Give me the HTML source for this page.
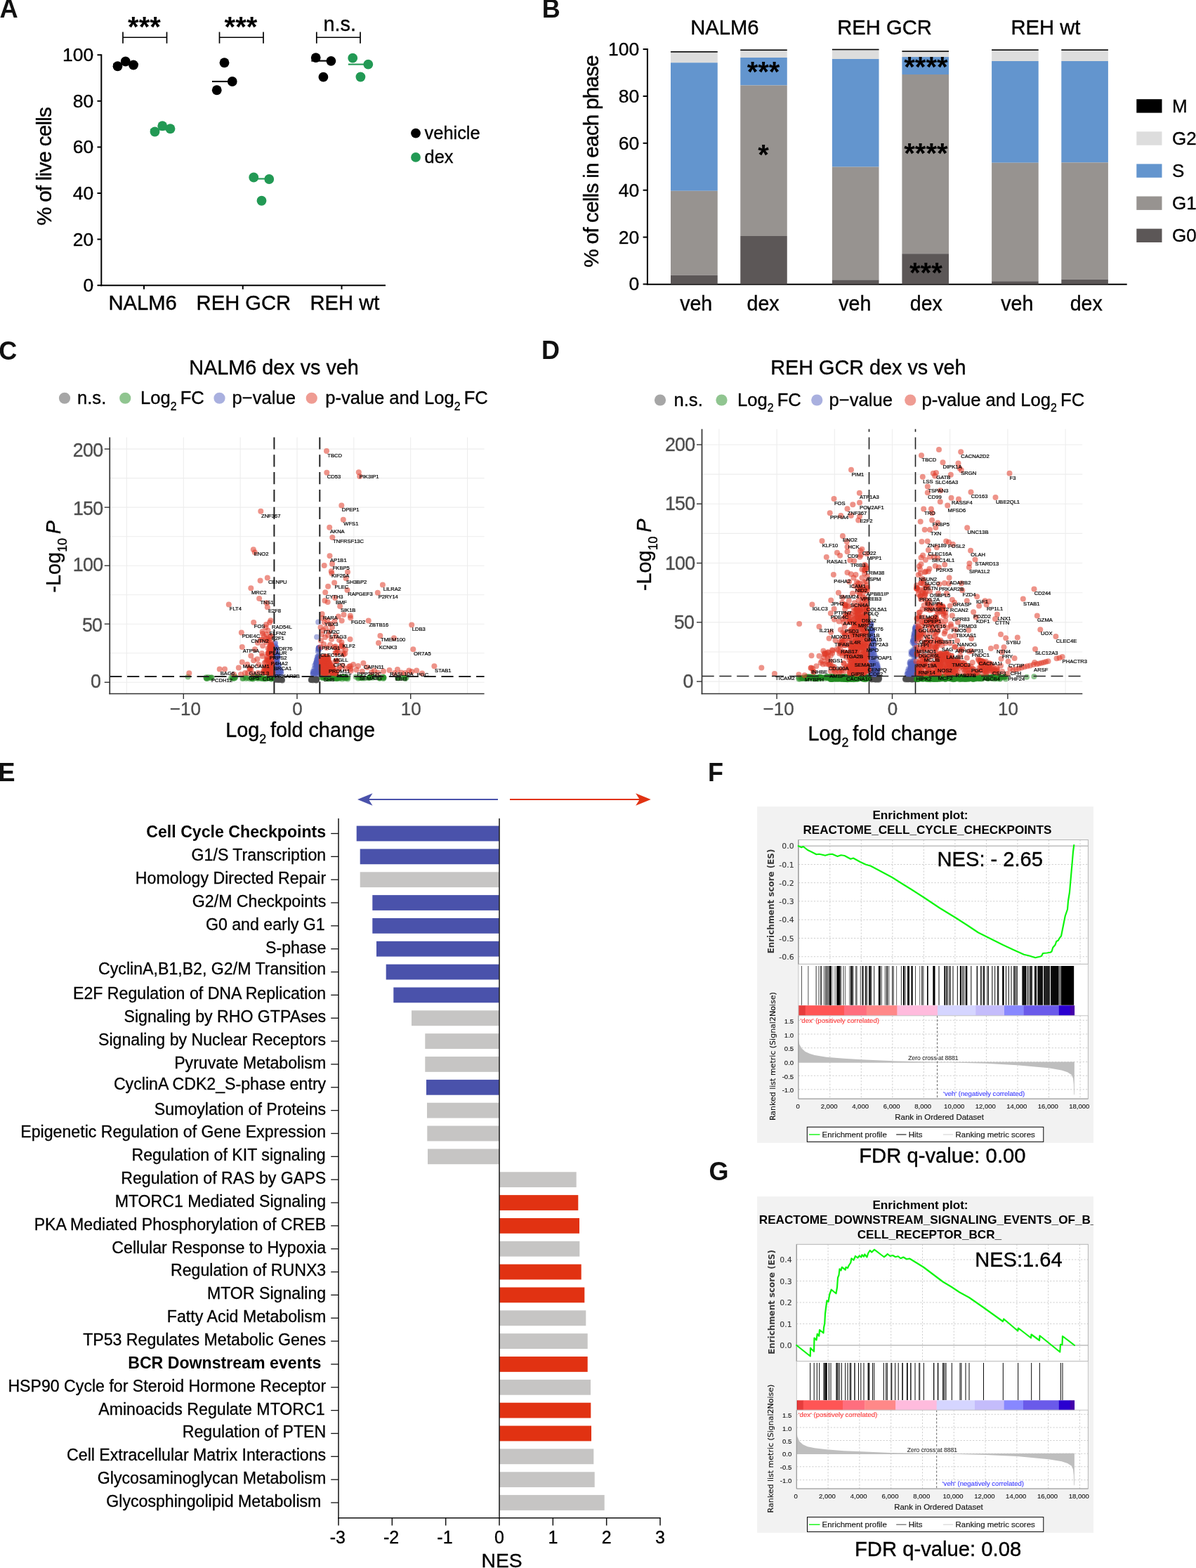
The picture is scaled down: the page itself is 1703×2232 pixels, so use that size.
<!DOCTYPE html>
<html lang="en"><head><meta charset="utf-8"><title>Figure</title>
<style>
html,body{margin:0;padding:0;background:#fff;}
body{width:1703px;height:2232px;overflow:hidden;}
svg{display:block;}
svg text{font-family:"Liberation Sans",Arial,Helvetica,sans-serif;}
svg text.dv{font-family:"DejaVu Sans",Verdana,sans-serif;}
</style></head><body>
<svg width="1703" height="2232" viewBox="0 0 1703 2232">
<rect width="1703" height="2232" fill="#fff"/>
<text font-size="36.3" font-weight="bold" fill="#111" x="-0.5" y="25">A</text>
<line x1="144.3" y1="77.2" x2="144.3" y2="407.2" stroke="#000" stroke-width="2"/>
<line x1="143.3" y1="406.2" x2="549" y2="406.2" stroke="#000" stroke-width="2"/>
<line x1="138.5" y1="406.2" x2="144.3" y2="406.2" stroke="#000" stroke-width="2"/>
<text text-anchor="end" font-size="26.5" stroke="#000" stroke-width="0.34" x="133.2" y="415.1">0</text>
<line x1="138.5" y1="340.6" x2="144.3" y2="340.6" stroke="#000" stroke-width="2"/>
<text text-anchor="end" font-size="26.5" stroke="#000" stroke-width="0.34" x="133.2" y="349.5">20</text>
<line x1="138.5" y1="275" x2="144.3" y2="275" stroke="#000" stroke-width="2"/>
<text text-anchor="end" font-size="26.5" stroke="#000" stroke-width="0.34" x="133.2" y="283.9">40</text>
<line x1="138.5" y1="209.4" x2="144.3" y2="209.4" stroke="#000" stroke-width="2"/>
<text text-anchor="end" font-size="26.5" stroke="#000" stroke-width="0.34" x="133.2" y="218.3">60</text>
<line x1="138.5" y1="143.8" x2="144.3" y2="143.8" stroke="#000" stroke-width="2"/>
<text text-anchor="end" font-size="26.5" stroke="#000" stroke-width="0.34" x="133.2" y="152.7">80</text>
<line x1="138.5" y1="78.2" x2="144.3" y2="78.2" stroke="#000" stroke-width="2"/>
<text text-anchor="end" font-size="26.5" stroke="#000" stroke-width="0.34" x="133.2" y="87.1">100</text>
<line x1="205" y1="406.2" x2="205" y2="411.8" stroke="#000" stroke-width="2"/>
<text text-anchor="middle" font-size="29.2" stroke="#000" stroke-width="0.38" x="203.1" y="441.4">NALM6</text>
<line x1="345.75" y1="406.2" x2="345.75" y2="411.8" stroke="#000" stroke-width="2"/>
<text text-anchor="middle" font-size="29.2" stroke="#000" stroke-width="0.38" x="346.9" y="441.4">REH GCR</text>
<line x1="486.5" y1="406.2" x2="486.5" y2="411.8" stroke="#000" stroke-width="2"/>
<text text-anchor="middle" font-size="29.2" stroke="#000" stroke-width="0.38" x="490.9" y="441.4">REH wt</text>
<text font-size="29.6" stroke="#000" stroke-width="0.38" letter-spacing="-0.75" transform="translate(72.6 320.9) rotate(-90)">% of live cells</text>
<line x1="175" y1="53.25" x2="237.5" y2="53.25" stroke="#000" stroke-width="1.7"/>
<line x1="175" y1="45.5" x2="175" y2="61.75" stroke="#000" stroke-width="1.7"/>
<line x1="237.5" y1="45.5" x2="237.5" y2="61.75" stroke="#000" stroke-width="1.7"/>
<text text-anchor="middle" font-size="40" font-weight="bold" x="205.45" y="51.6">***</text>
<line x1="312.5" y1="53.25" x2="375" y2="53.25" stroke="#000" stroke-width="1.7"/>
<line x1="312.5" y1="45.5" x2="312.5" y2="61.75" stroke="#000" stroke-width="1.7"/>
<line x1="375" y1="45.5" x2="375" y2="61.75" stroke="#000" stroke-width="1.7"/>
<text text-anchor="middle" font-size="40" font-weight="bold" x="342.95" y="51.6">***</text>
<line x1="450.8" y1="53.25" x2="513" y2="53.25" stroke="#000" stroke-width="1.7"/>
<line x1="450.8" y1="45.5" x2="450.8" y2="61.75" stroke="#000" stroke-width="1.7"/>
<line x1="513" y1="45.5" x2="513" y2="61.75" stroke="#000" stroke-width="1.7"/>
<text text-anchor="middle" font-size="28.8" stroke="#000" stroke-width="0.37" x="483.7" y="43.6">n.s.</text>
<line x1="161" y1="91.5" x2="197" y2="91.5" stroke="#000" stroke-width="2.1"/>
<line x1="214" y1="184.5" x2="249" y2="184.5" stroke="#229954" stroke-width="2.1"/>
<line x1="302" y1="116" x2="331" y2="116" stroke="#000" stroke-width="2.1"/>
<line x1="361" y1="254.5" x2="384" y2="254.5" stroke="#229954" stroke-width="2.1"/>
<line x1="443.3" y1="86.6" x2="472" y2="86.6" stroke="#000" stroke-width="2.1"/>
<line x1="495.8" y1="91.6" x2="525" y2="91.6" stroke="#229954" stroke-width="2.1"/>
<circle cx="167.5" cy="94.25" r="6.9" fill="#000"/>
<circle cx="178.75" cy="87.5" r="6.9" fill="#000"/>
<circle cx="190" cy="92.5" r="6.9" fill="#000"/>
<circle cx="220.5" cy="187.5" r="6.9" fill="#229954"/>
<circle cx="231.25" cy="179.25" r="6.9" fill="#229954"/>
<circle cx="242.5" cy="183.25" r="6.9" fill="#229954"/>
<circle cx="319.5" cy="89.25" r="6.9" fill="#000"/>
<circle cx="330.75" cy="116" r="6.9" fill="#000"/>
<circle cx="308.75" cy="128.25" r="6.9" fill="#000"/>
<circle cx="361.25" cy="252.5" r="6.9" fill="#229954"/>
<circle cx="383.25" cy="255" r="6.9" fill="#229954"/>
<circle cx="372.5" cy="285.75" r="6.9" fill="#229954"/>
<circle cx="449.7" cy="82.1" r="6.9" fill="#000"/>
<circle cx="471.4" cy="86.8" r="6.9" fill="#000"/>
<circle cx="460.4" cy="109.7" r="6.9" fill="#000"/>
<circle cx="502.2" cy="82.7" r="6.9" fill="#229954"/>
<circle cx="524.3" cy="91.7" r="6.9" fill="#229954"/>
<circle cx="513.4" cy="109.5" r="6.9" fill="#229954"/>
<circle cx="592" cy="189.6" r="6.9" fill="#000"/>
<circle cx="592" cy="223.9" r="6.9" fill="#229954"/>
<text font-size="25.4" stroke="#000" stroke-width="0.33" x="604.6" y="197.5">vehicle</text>
<text font-size="25.4" stroke="#000" stroke-width="0.33" x="604.6" y="231.7">dex</text>
<text font-size="36" font-weight="bold" fill="#111" x="771.7" y="24.9">B</text>
<line x1="921.9" y1="69" x2="921.9" y2="405.5" stroke="#000" stroke-width="2"/>
<line x1="920.9" y1="404.8" x2="1604.7" y2="404.8" stroke="#000" stroke-width="2"/>
<line x1="915.6" y1="404.5" x2="921.9" y2="404.5" stroke="#000" stroke-width="2"/>
<text text-anchor="end" font-size="26.5" stroke="#000" stroke-width="0.34" x="910.2" y="413.4">0</text>
<line x1="915.6" y1="337.6" x2="921.9" y2="337.6" stroke="#000" stroke-width="2"/>
<text text-anchor="end" font-size="26.5" stroke="#000" stroke-width="0.34" x="910.2" y="346.5">20</text>
<line x1="915.6" y1="270.7" x2="921.9" y2="270.7" stroke="#000" stroke-width="2"/>
<text text-anchor="end" font-size="26.5" stroke="#000" stroke-width="0.34" x="910.2" y="279.6">40</text>
<line x1="915.6" y1="203.8" x2="921.9" y2="203.8" stroke="#000" stroke-width="2"/>
<text text-anchor="end" font-size="26.5" stroke="#000" stroke-width="0.34" x="910.2" y="212.7">60</text>
<line x1="915.6" y1="136.9" x2="921.9" y2="136.9" stroke="#000" stroke-width="2"/>
<text text-anchor="end" font-size="26.5" stroke="#000" stroke-width="0.34" x="910.2" y="145.8">80</text>
<line x1="915.6" y1="70" x2="921.9" y2="70" stroke="#000" stroke-width="2"/>
<text text-anchor="end" font-size="26.5" stroke="#000" stroke-width="0.34" x="910.2" y="78.9">100</text>
<text font-size="29.6" stroke="#000" stroke-width="0.38" letter-spacing="-0.723" transform="translate(851.6 380.7) rotate(-90)">% of cells in each phase</text>
<rect x="955" y="73.75" width="66.75" height="15.5" fill="#DDDDDD"/>
<rect x="955" y="89.25" width="66.75" height="182.5" fill="#6395CE"/>
<rect x="955" y="271.75" width="66.75" height="120" fill="#979390"/>
<rect x="955" y="391.75" width="66.75" height="12.75" fill="#5C5757"/>
<rect x="955" y="72.95" width="66.75" height="1.6" fill="#000"/>
<text text-anchor="middle" font-size="28.6" stroke="#000" stroke-width="0.37" x="991.2" y="441.7">veh</text>
<rect x="1054.25" y="71.25" width="66.5" height="10.75" fill="#DDDDDD"/>
<rect x="1054.25" y="82" width="66.5" height="39.5" fill="#6395CE"/>
<rect x="1054.25" y="121.5" width="66.5" height="214.5" fill="#979390"/>
<rect x="1054.25" y="336" width="66.5" height="68.5" fill="#5C5757"/>
<rect x="1054.25" y="70.45" width="66.5" height="1.6" fill="#000"/>
<text text-anchor="middle" font-size="28.6" stroke="#000" stroke-width="0.37" x="1086.6" y="441.7">dex</text>
<rect x="1184.9" y="70.5" width="66.6" height="13.5" fill="#DDDDDD"/>
<rect x="1184.9" y="84" width="66.6" height="153.6" fill="#6395CE"/>
<rect x="1184.9" y="237.6" width="66.6" height="160.8" fill="#979390"/>
<rect x="1184.9" y="398.4" width="66.6" height="6.1" fill="#5C5757"/>
<rect x="1184.9" y="69.7" width="66.6" height="1.6" fill="#000"/>
<text text-anchor="middle" font-size="28.6" stroke="#000" stroke-width="0.37" x="1217.3" y="441.7">veh</text>
<rect x="1284.4" y="73" width="66.6" height="8.1" fill="#DDDDDD"/>
<rect x="1284.4" y="81.1" width="66.6" height="24.9" fill="#6395CE"/>
<rect x="1284.4" y="106" width="66.6" height="255.2" fill="#979390"/>
<rect x="1284.4" y="361.2" width="66.6" height="43.3" fill="#5C5757"/>
<rect x="1284.4" y="72.2" width="66.6" height="1.6" fill="#000"/>
<text text-anchor="middle" font-size="28.6" stroke="#000" stroke-width="0.37" x="1318.8" y="441.7">dex</text>
<rect x="1412.1" y="71.1" width="66.6" height="15.9" fill="#DDDDDD"/>
<rect x="1412.1" y="87" width="66.6" height="144.7" fill="#6395CE"/>
<rect x="1412.1" y="231.7" width="66.6" height="168.6" fill="#979390"/>
<rect x="1412.1" y="400.3" width="66.6" height="4.2" fill="#5C5757"/>
<rect x="1412.1" y="70.3" width="66.6" height="1.6" fill="#000"/>
<text text-anchor="middle" font-size="28.6" stroke="#000" stroke-width="0.37" x="1448.3" y="441.7">veh</text>
<rect x="1511.3" y="71.1" width="66.6" height="15.9" fill="#DDDDDD"/>
<rect x="1511.3" y="87" width="66.6" height="144.4" fill="#6395CE"/>
<rect x="1511.3" y="231.4" width="66.6" height="166.3" fill="#979390"/>
<rect x="1511.3" y="397.7" width="66.6" height="6.8" fill="#5C5757"/>
<rect x="1511.3" y="70.3" width="66.6" height="1.6" fill="#000"/>
<text text-anchor="middle" font-size="28.6" stroke="#000" stroke-width="0.37" x="1546.7" y="441.7">dex</text>
<text text-anchor="middle" font-size="29.2" stroke="#000" stroke-width="0.38" x="1031.9" y="49.3">NALM6</text>
<text text-anchor="middle" font-size="29.2" stroke="#000" stroke-width="0.38" x="1259.5" y="49.3">REH GCR</text>
<text text-anchor="middle" font-size="29.2" stroke="#000" stroke-width="0.38" x="1489" y="49.3">REH wt</text>
<text text-anchor="middle" font-size="40" font-weight="bold" x="1087" y="116.2">***</text>
<text text-anchor="middle" font-size="40" font-weight="bold" x="1087" y="233.6">*</text>
<text text-anchor="middle" font-size="40" font-weight="bold" x="1318.4" y="109.2">****</text>
<text text-anchor="middle" font-size="40" font-weight="bold" x="1318.4" y="232">****</text>
<text text-anchor="middle" font-size="40" font-weight="bold" x="1318.4" y="402.2">***</text>
<rect x="1618.3" y="141.2" width="36.2" height="19.4" fill="#000"/>
<text font-size="26" stroke="#000" stroke-width="0.34" x="1669" y="160">M</text>
<rect x="1618.3" y="187.3" width="36.2" height="19.4" fill="#DDDDDD"/>
<text font-size="26" stroke="#000" stroke-width="0.34" x="1669" y="206.1">G2</text>
<rect x="1618.3" y="233.4" width="36.2" height="19.4" fill="#6395CE"/>
<text font-size="26" stroke="#000" stroke-width="0.34" x="1669" y="252.2">S</text>
<rect x="1618.3" y="279.5" width="36.2" height="19.4" fill="#979390"/>
<text font-size="26" stroke="#000" stroke-width="0.34" x="1669" y="298.3">G1</text>
<rect x="1618.3" y="325.6" width="36.2" height="19.4" fill="#5C5757"/>
<text font-size="26" stroke="#000" stroke-width="0.34" x="1669" y="344.4">G0</text>
<text font-size="36" font-weight="bold" fill="#111" x="-1.7" y="511.7">C</text>
<text font-size="28.8" stroke="#000" stroke-width="0.37" x="269.2" y="532.5">NALM6 dex vs veh</text>
<circle cx="92" cy="566.75" r="8.1" fill="#4D4D4D" fill-opacity="0.5"/>
<circle cx="178.25" cy="566.75" r="8.1" fill="#228B22" fill-opacity="0.5"/>
<circle cx="312.5" cy="566.75" r="8.1" fill="#5462C0" fill-opacity="0.5"/>
<circle cx="443.75" cy="566.75" r="8.1" fill="#E03A28" fill-opacity="0.5"/>
<text font-size="25.6" stroke="#000" stroke-width="0.33" x="110" y="575.3">n.s.</text>
<text font-size="25.6" stroke="#000" stroke-width="0.33" x="200" y="575.3" xml:space="preserve"><tspan>Log</tspan><tspan font-size="15.87" dy="8.45">2</tspan><tspan dy="-8.45" font-size="25.6">&#8203;</tspan><tspan> FC</tspan></text>
<text font-size="25.6" stroke="#000" stroke-width="0.33" x="330.5" y="575.3">p−value</text>
<text font-size="25.6" stroke="#000" stroke-width="0.33" x="463.2" y="575.3" xml:space="preserve"><tspan>p-value and Log</tspan><tspan font-size="15.87" dy="8.45">2</tspan><tspan dy="-8.45" font-size="25.6">&#8203;</tspan><tspan> FC</tspan></text>
<line x1="180.45" y1="622.5" x2="180.45" y2="987.5" stroke="#EDEDED" stroke-width="1.1"/>
<line x1="261.3" y1="622.5" x2="261.3" y2="987.5" stroke="#EDEDED" stroke-width="1.1"/>
<line x1="342.15" y1="622.5" x2="342.15" y2="987.5" stroke="#EDEDED" stroke-width="1.1"/>
<line x1="423" y1="622.5" x2="423" y2="987.5" stroke="#EDEDED" stroke-width="1.1"/>
<line x1="503.85" y1="622.5" x2="503.85" y2="987.5" stroke="#EDEDED" stroke-width="1.1"/>
<line x1="584.7" y1="622.5" x2="584.7" y2="987.5" stroke="#EDEDED" stroke-width="1.1"/>
<line x1="665.55" y1="622.5" x2="665.55" y2="987.5" stroke="#EDEDED" stroke-width="1.1"/>
<line x1="156.25" y1="971.25" x2="689.6" y2="971.25" stroke="#EDEDED" stroke-width="1.1"/>
<line x1="156.25" y1="929.74" x2="689.6" y2="929.74" stroke="#EDEDED" stroke-width="1.1"/>
<line x1="156.25" y1="888.23" x2="689.6" y2="888.23" stroke="#EDEDED" stroke-width="1.1"/>
<line x1="156.25" y1="846.71" x2="689.6" y2="846.71" stroke="#EDEDED" stroke-width="1.1"/>
<line x1="156.25" y1="805.2" x2="689.6" y2="805.2" stroke="#EDEDED" stroke-width="1.1"/>
<line x1="156.25" y1="763.69" x2="689.6" y2="763.69" stroke="#EDEDED" stroke-width="1.1"/>
<line x1="156.25" y1="722.17" x2="689.6" y2="722.17" stroke="#EDEDED" stroke-width="1.1"/>
<line x1="156.25" y1="680.66" x2="689.6" y2="680.66" stroke="#EDEDED" stroke-width="1.1"/>
<line x1="156.25" y1="639.15" x2="689.6" y2="639.15" stroke="#EDEDED" stroke-width="1.1"/>
<g fill="#4D4D4D" fill-opacity="0.5"><circle cx="396.2" cy="967.4" r="4"/><circle cx="401.1" cy="967.2" r="4"/><circle cx="396.7" cy="967.5" r="4"/><circle cx="393.8" cy="967.3" r="4"/><circle cx="398.0" cy="968.0" r="4"/><circle cx="393.1" cy="966.8" r="4"/><circle cx="393.0" cy="968.0" r="4"/><circle cx="398.6" cy="966.2" r="4"/><circle cx="401.8" cy="968.4" r="4"/><circle cx="398.2" cy="967.6" r="4"/><circle cx="393.5" cy="966.1" r="4"/><circle cx="396.9" cy="966.2" r="4"/><circle cx="393.8" cy="966.7" r="4"/><circle cx="392.6" cy="967.2" r="4"/><circle cx="396.1" cy="968.1" r="4"/><circle cx="396.8" cy="967.6" r="4"/><circle cx="396.6" cy="967.7" r="4"/><circle cx="396.2" cy="966.8" r="4"/><circle cx="402.0" cy="968.5" r="4"/><circle cx="400.2" cy="967.8" r="4"/><circle cx="394.9" cy="966.7" r="4"/><circle cx="394.6" cy="966.3" r="4"/><circle cx="399.4" cy="967.1" r="4"/><circle cx="400.3" cy="967.0" r="4"/><circle cx="401.5" cy="968.1" r="4"/><circle cx="392.5" cy="966.6" r="4"/><circle cx="401.0" cy="967.2" r="4"/><circle cx="401.8" cy="967.1" r="4"/><circle cx="392.9" cy="967.6" r="4"/><circle cx="399.5" cy="966.7" r="4"/><circle cx="451.0" cy="966.9" r="4"/><circle cx="442.9" cy="967.9" r="4"/><circle cx="450.8" cy="966.7" r="4"/><circle cx="450.9" cy="966.2" r="4"/><circle cx="444.6" cy="966.5" r="4"/><circle cx="447.0" cy="967.2" r="4"/><circle cx="450.3" cy="967.9" r="4"/><circle cx="450.7" cy="967.6" r="4"/><circle cx="450.8" cy="967.1" r="4"/><circle cx="450.1" cy="966.7" r="4"/><circle cx="442.8" cy="968.0" r="4"/><circle cx="449.3" cy="968.2" r="4"/><circle cx="450.1" cy="967.0" r="4"/><circle cx="444.0" cy="967.6" r="4"/><circle cx="450.9" cy="968.5" r="4"/><circle cx="450.1" cy="966.7" r="4"/><circle cx="444.9" cy="966.9" r="4"/><circle cx="449.4" cy="966.3" r="4"/><circle cx="451.0" cy="967.5" r="4"/><circle cx="449.9" cy="967.5" r="4"/><circle cx="448.8" cy="967.2" r="4"/><circle cx="442.9" cy="967.3" r="4"/><circle cx="446.9" cy="968.2" r="4"/><circle cx="450.3" cy="966.5" r="4"/><circle cx="443.5" cy="968.1" r="4"/><circle cx="449.8" cy="966.6" r="4"/><circle cx="445.2" cy="968.4" r="4"/><circle cx="450.2" cy="968.4" r="4"/><circle cx="443.8" cy="967.5" r="4"/><circle cx="448.3" cy="966.3" r="4"/></g>
<g fill="#228B22" fill-opacity="0.5"><circle cx="386.4" cy="966.4" r="4"/><circle cx="380.5" cy="965.6" r="4"/><circle cx="379.8" cy="965.9" r="4"/><circle cx="365.5" cy="964.2" r="4"/><circle cx="382.6" cy="965.6" r="4"/><circle cx="385.7" cy="964.0" r="4"/><circle cx="367.3" cy="966.0" r="4"/><circle cx="364.7" cy="964.2" r="4"/><circle cx="349.5" cy="964.0" r="4"/><circle cx="386.8" cy="964.2" r="4"/><circle cx="372.3" cy="963.5" r="4"/><circle cx="382.6" cy="964.5" r="4"/><circle cx="366.7" cy="963.7" r="4"/><circle cx="375.8" cy="966.2" r="4"/><circle cx="346.1" cy="965.4" r="4"/><circle cx="361.0" cy="965.2" r="4"/><circle cx="383.7" cy="963.4" r="4"/><circle cx="386.8" cy="966.2" r="4"/><circle cx="360.5" cy="966.4" r="4"/><circle cx="386.7" cy="965.3" r="4"/><circle cx="370.7" cy="965.6" r="4"/><circle cx="377.5" cy="966.5" r="4"/><circle cx="385.5" cy="965.0" r="4"/><circle cx="358.8" cy="966.2" r="4"/><circle cx="358.7" cy="965.6" r="4"/><circle cx="355.9" cy="966.2" r="4"/><circle cx="376.2" cy="965.5" r="4"/><circle cx="350.3" cy="966.1" r="4"/><circle cx="373.5" cy="965.8" r="4"/><circle cx="352.3" cy="965.1" r="4"/><circle cx="364.2" cy="964.5" r="4"/><circle cx="366.2" cy="965.2" r="4"/><circle cx="385.4" cy="965.3" r="4"/><circle cx="345.4" cy="966.1" r="4"/><circle cx="359.2" cy="964.5" r="4"/><circle cx="358.9" cy="965.2" r="4"/><circle cx="372.5" cy="966.0" r="4"/><circle cx="385.3" cy="965.7" r="4"/><circle cx="386.6" cy="965.2" r="4"/><circle cx="370.8" cy="964.0" r="4"/><circle cx="330.7" cy="964.8" r="4"/><circle cx="331.5" cy="965.8" r="4"/><circle cx="334.7" cy="963.6" r="4"/><circle cx="334.3" cy="965.2" r="4"/><circle cx="335.2" cy="964.0" r="4"/><circle cx="328.8" cy="965.2" r="4"/><circle cx="333.0" cy="965.7" r="4"/><circle cx="299.4" cy="965.1" r="4"/><circle cx="300.8" cy="964.4" r="4"/><circle cx="294.1" cy="965.8" r="4"/><circle cx="293.3" cy="964.3" r="4"/><circle cx="296.6" cy="964.0" r="4"/><circle cx="301.5" cy="964.6" r="4"/><circle cx="293.8" cy="965.6" r="4"/><circle cx="295.2" cy="966.0" r="4"/><circle cx="267.6" cy="963.6" r="4"/><circle cx="466.1" cy="963.8" r="4"/><circle cx="472.6" cy="964.2" r="4"/><circle cx="464.0" cy="964.6" r="4"/><circle cx="479.6" cy="964.9" r="4"/><circle cx="467.5" cy="966.0" r="4"/><circle cx="495.2" cy="964.7" r="4"/><circle cx="459.7" cy="963.4" r="4"/><circle cx="490.3" cy="963.4" r="4"/><circle cx="483.1" cy="965.1" r="4"/><circle cx="467.3" cy="965.8" r="4"/><circle cx="458.3" cy="963.7" r="4"/><circle cx="472.8" cy="963.4" r="4"/><circle cx="488.4" cy="964.1" r="4"/><circle cx="461.6" cy="963.5" r="4"/><circle cx="479.8" cy="964.7" r="4"/><circle cx="479.8" cy="965.4" r="4"/><circle cx="487.4" cy="966.4" r="4"/><circle cx="482.1" cy="963.9" r="4"/><circle cx="473.6" cy="963.9" r="4"/><circle cx="458.2" cy="964.8" r="4"/><circle cx="483.4" cy="963.9" r="4"/><circle cx="466.0" cy="964.4" r="4"/><circle cx="482.7" cy="965.0" r="4"/><circle cx="479.2" cy="965.7" r="4"/><circle cx="470.4" cy="965.8" r="4"/><circle cx="491.8" cy="963.6" r="4"/><circle cx="492.9" cy="965.6" r="4"/><circle cx="461.3" cy="964.8" r="4"/><circle cx="479.6" cy="966.2" r="4"/><circle cx="469.8" cy="965.1" r="4"/><circle cx="490.6" cy="965.8" r="4"/><circle cx="493.5" cy="964.8" r="4"/><circle cx="480.7" cy="964.0" r="4"/><circle cx="483.7" cy="965.9" r="4"/><circle cx="480.3" cy="965.6" r="4"/><circle cx="464.0" cy="966.2" r="4"/><circle cx="495.1" cy="966.4" r="4"/><circle cx="476.0" cy="965.8" r="4"/><circle cx="467.7" cy="966.2" r="4"/><circle cx="489.5" cy="964.4" r="4"/><circle cx="459.9" cy="964.7" r="4"/><circle cx="476.6" cy="965.8" r="4"/><circle cx="474.0" cy="963.4" r="4"/><circle cx="487.5" cy="963.5" r="4"/><circle cx="487.1" cy="963.9" r="4"/><circle cx="516.1" cy="965.5" r="4"/><circle cx="506.7" cy="963.5" r="4"/><circle cx="524.8" cy="965.3" r="4"/><circle cx="540.3" cy="965.2" r="4"/><circle cx="545.4" cy="964.6" r="4"/><circle cx="545.6" cy="963.4" r="4"/><circle cx="510.6" cy="964.7" r="4"/><circle cx="513.9" cy="965.3" r="4"/><circle cx="530.7" cy="964.7" r="4"/><circle cx="540.5" cy="964.8" r="4"/><circle cx="515.0" cy="964.2" r="4"/><circle cx="540.6" cy="965.8" r="4"/><circle cx="510.0" cy="965.7" r="4"/><circle cx="546.5" cy="964.7" r="4"/><circle cx="527.5" cy="963.7" r="4"/><circle cx="525.7" cy="964.6" r="4"/><circle cx="529.1" cy="963.2" r="4"/><circle cx="546.5" cy="964.6" r="4"/><circle cx="519.2" cy="965.5" r="4"/><circle cx="527.0" cy="964.6" r="4"/><circle cx="533.2" cy="963.3" r="4"/><circle cx="525.9" cy="964.3" r="4"/><circle cx="545.9" cy="965.9" r="4"/><circle cx="512.9" cy="964.5" r="4"/><circle cx="566.0" cy="965.0" r="4"/><circle cx="577.1" cy="966.2" r="4"/><circle cx="571.6" cy="964.8" r="4"/><circle cx="567.1" cy="965.5" r="4"/><circle cx="578.8" cy="964.3" r="4"/><circle cx="576.5" cy="964.1" r="4"/><circle cx="567.1" cy="964.5" r="4"/><circle cx="575.0" cy="964.8" r="4"/></g>
<g fill="#5462C0" fill-opacity="0.5"><circle cx="396.3" cy="951.7" r="4"/><circle cx="398.2" cy="958.5" r="4"/><circle cx="396.1" cy="958.2" r="4"/><circle cx="393.1" cy="955.2" r="4"/><circle cx="394.2" cy="944.0" r="4"/><circle cx="394.6" cy="950.9" r="4"/><circle cx="392.4" cy="944.1" r="4"/><circle cx="397.0" cy="956.4" r="4"/><circle cx="394.2" cy="938.3" r="4"/><circle cx="393.0" cy="924.9" r="4"/><circle cx="392.0" cy="924.5" r="4"/><circle cx="394.7" cy="932.2" r="4"/><circle cx="392.0" cy="921.3" r="4"/><circle cx="399.0" cy="953.1" r="4"/><circle cx="400.2" cy="956.1" r="4"/><circle cx="391.7" cy="922.4" r="4"/><circle cx="397.7" cy="955.5" r="4"/><circle cx="392.2" cy="954.9" r="4"/><circle cx="392.6" cy="926.2" r="4"/><circle cx="391.8" cy="929.0" r="4"/><circle cx="396.6" cy="949.8" r="4"/><circle cx="393.3" cy="959.5" r="4"/><circle cx="395.8" cy="935.7" r="4"/><circle cx="391.5" cy="916.4" r="4"/><circle cx="396.5" cy="945.2" r="4"/><circle cx="396.0" cy="945.4" r="4"/><circle cx="392.0" cy="956.8" r="4"/><circle cx="391.7" cy="958.5" r="4"/><circle cx="394.6" cy="942.9" r="4"/><circle cx="392.3" cy="942.1" r="4"/><circle cx="393.2" cy="956.9" r="4"/><circle cx="394.2" cy="925.7" r="4"/><circle cx="391.6" cy="919.5" r="4"/><circle cx="400.4" cy="959.1" r="4"/><circle cx="396.8" cy="947.3" r="4"/><circle cx="395.2" cy="952.7" r="4"/><circle cx="394.2" cy="944.8" r="4"/><circle cx="391.5" cy="940.4" r="4"/><circle cx="395.3" cy="934.6" r="4"/><circle cx="395.5" cy="957.0" r="4"/><circle cx="393.1" cy="932.3" r="4"/><circle cx="392.9" cy="956.7" r="4"/><circle cx="391.5" cy="944.9" r="4"/><circle cx="393.1" cy="921.9" r="4"/><circle cx="395.3" cy="934.4" r="4"/><circle cx="393.6" cy="938.8" r="4"/><circle cx="394.3" cy="940.4" r="4"/><circle cx="392.0" cy="915.3" r="4"/><circle cx="399.2" cy="954.9" r="4"/><circle cx="394.6" cy="932.0" r="4"/><circle cx="392.7" cy="927.4" r="4"/><circle cx="393.2" cy="921.7" r="4"/><circle cx="395.0" cy="935.0" r="4"/><circle cx="392.9" cy="930.6" r="4"/><circle cx="391.7" cy="933.3" r="4"/><circle cx="395.2" cy="952.2" r="4"/><circle cx="394.8" cy="959.5" r="4"/><circle cx="394.7" cy="938.3" r="4"/><circle cx="399.7" cy="955.7" r="4"/><circle cx="393.1" cy="936.7" r="4"/><circle cx="451.4" cy="941.0" r="4"/><circle cx="451.8" cy="946.6" r="4"/><circle cx="454.0" cy="922.0" r="4"/><circle cx="450.8" cy="939.0" r="4"/><circle cx="454.3" cy="923.3" r="4"/><circle cx="450.2" cy="943.1" r="4"/><circle cx="450.8" cy="955.8" r="4"/><circle cx="452.5" cy="959.3" r="4"/><circle cx="453.5" cy="952.4" r="4"/><circle cx="446.5" cy="955.9" r="4"/><circle cx="451.1" cy="945.9" r="4"/><circle cx="453.7" cy="924.1" r="4"/><circle cx="453.9" cy="922.3" r="4"/><circle cx="454.1" cy="933.3" r="4"/><circle cx="449.9" cy="943.9" r="4"/><circle cx="445.5" cy="959.3" r="4"/><circle cx="450.0" cy="957.8" r="4"/><circle cx="449.8" cy="957.7" r="4"/><circle cx="454.0" cy="943.3" r="4"/><circle cx="453.7" cy="925.4" r="4"/><circle cx="450.4" cy="946.9" r="4"/><circle cx="452.1" cy="952.7" r="4"/><circle cx="451.4" cy="941.2" r="4"/><circle cx="448.2" cy="955.1" r="4"/><circle cx="454.2" cy="954.8" r="4"/><circle cx="453.9" cy="956.1" r="4"/><circle cx="447.4" cy="957.9" r="4"/><circle cx="447.4" cy="951.9" r="4"/><circle cx="454.1" cy="936.6" r="4"/><circle cx="453.7" cy="922.7" r="4"/><circle cx="445.8" cy="959.1" r="4"/><circle cx="450.8" cy="950.6" r="4"/><circle cx="454.1" cy="923.7" r="4"/><circle cx="448.2" cy="947.0" r="4"/><circle cx="452.3" cy="937.9" r="4"/><circle cx="453.6" cy="923.3" r="4"/><circle cx="453.6" cy="943.6" r="4"/><circle cx="451.8" cy="942.7" r="4"/><circle cx="453.8" cy="957.0" r="4"/><circle cx="453.5" cy="946.8" r="4"/><circle cx="449.5" cy="950.1" r="4"/><circle cx="452.4" cy="949.6" r="4"/><circle cx="451.8" cy="944.5" r="4"/><circle cx="452.4" cy="935.0" r="4"/><circle cx="453.8" cy="922.2" r="4"/><circle cx="453.3" cy="937.3" r="4"/><circle cx="446.0" cy="958.6" r="4"/><circle cx="452.1" cy="934.7" r="4"/><circle cx="452.1" cy="952.9" r="4"/><circle cx="451.6" cy="939.8" r="4"/><circle cx="450.6" cy="944.1" r="4"/><circle cx="453.6" cy="936.3" r="4"/><circle cx="445.8" cy="956.0" r="4"/><circle cx="452.8" cy="927.2" r="4"/><circle cx="453.7" cy="959.3" r="4"/><circle cx="450.7" cy="955.4" r="4"/><circle cx="453.7" cy="942.7" r="4"/><circle cx="453.8" cy="946.3" r="4"/><circle cx="448.0" cy="958.9" r="4"/><circle cx="450.4" cy="945.9" r="4"/><circle cx="453.2" cy="885.6" r="4"/><circle cx="451.1" cy="906.8" r="4"/></g>
<g fill="#E03A28" fill-opacity="0.55"><circle cx="465.0" cy="642.0" r="4"/><circle cx="465.3" cy="672.8" r="4"/><circle cx="510.8" cy="672.2" r="4"/><circle cx="512.2" cy="678.0" r="4"/><circle cx="486.3" cy="719.5" r="4"/><circle cx="371.3" cy="727.8" r="4"/><circle cx="488.8" cy="739.7" r="4"/><circle cx="469.2" cy="750.8" r="4"/><circle cx="473.3" cy="765.0" r="4"/><circle cx="360.8" cy="782.2" r="4"/><circle cx="362.8" cy="786.2" r="4"/><circle cx="469.5" cy="791.2" r="4"/><circle cx="473.0" cy="802.8" r="4"/><circle cx="461.7" cy="805.0" r="4"/><circle cx="471.7" cy="813.3" r="4"/><circle cx="472.4" cy="816.0" r="4"/><circle cx="495.0" cy="814.2" r="4"/><circle cx="492.6" cy="823.2" r="4"/><circle cx="380.8" cy="822.5" r="4"/><circle cx="370.6" cy="826.6" r="4"/><circle cx="357.3" cy="837.3" r="4"/><circle cx="369.1" cy="852.0" r="4"/><circle cx="325.8" cy="860.5" r="4"/><circle cx="379.5" cy="858.3" r="4"/><circle cx="380.8" cy="864.2" r="4"/><circle cx="361.2" cy="886.0" r="4"/><circle cx="385.4" cy="883.2" r="4"/><circle cx="343.8" cy="900.6" r="4"/><circle cx="344.8" cy="921.1" r="4"/><circle cx="344.8" cy="942.4" r="4"/><circle cx="312.7" cy="952.6" r="4"/><circle cx="320.0" cy="952.6" r="4"/><circle cx="339.8" cy="950.6" r="4"/><circle cx="357.3" cy="933.6" r="4"/><circle cx="366.4" cy="938.2" r="4"/><circle cx="373.6" cy="898.9" r="4"/><circle cx="379.0" cy="889.0" r="4"/><circle cx="384.0" cy="886.0" r="4"/><circle cx="378.5" cy="893.0" r="4"/><circle cx="374.0" cy="902.0" r="4"/><circle cx="381.5" cy="897.5" r="4"/><circle cx="376.0" cy="906.0" r="4"/><circle cx="384.5" cy="906.0" r="4"/><circle cx="371.0" cy="911.0" r="4"/><circle cx="367.0" cy="915.0" r="4"/><circle cx="381.0" cy="912.0" r="4"/><circle cx="386.0" cy="915.0" r="4"/><circle cx="269.3" cy="958.2" r="4"/><circle cx="356.0" cy="952.0" r="4"/><circle cx="349.0" cy="958.0" r="4"/><circle cx="360.0" cy="958.5" r="4"/><circle cx="333.0" cy="960.0" r="4"/><circle cx="343.0" cy="960.0" r="4"/><circle cx="476.1" cy="829.4" r="4"/><circle cx="467.1" cy="834.8" r="4"/><circle cx="544.9" cy="832.5" r="4"/><circle cx="494.5" cy="839.9" r="4"/><circle cx="537.8" cy="843.8" r="4"/><circle cx="463.2" cy="843.3" r="4"/><circle cx="462.4" cy="854.9" r="4"/><circle cx="466.6" cy="857.0" r="4"/><circle cx="477.1" cy="851.1" r="4"/><circle cx="484.1" cy="863.1" r="4"/><circle cx="458.6" cy="874.0" r="4"/><circle cx="498.8" cy="876.6" r="4"/><circle cx="499.1" cy="879.4" r="4"/><circle cx="524.7" cy="883.6" r="4"/><circle cx="586.2" cy="889.5" r="4"/><circle cx="541.4" cy="904.9" r="4"/><circle cx="561.0" cy="908.3" r="4"/><circle cx="498.5" cy="909.9" r="4"/><circle cx="486.4" cy="914.2" r="4"/><circle cx="539.0" cy="915.3" r="4"/><circle cx="588.3" cy="924.3" r="4"/><circle cx="517.4" cy="943.9" r="4"/><circle cx="618.4" cy="948.3" r="4"/><circle cx="486.7" cy="883.6" r="4"/><circle cx="489.5" cy="875.1" r="4"/><circle cx="481.8" cy="877.4" r="4"/><circle cx="476.4" cy="884.3" r="4"/><circle cx="499.6" cy="954.8" r="4"/><circle cx="507.6" cy="953.5" r="4"/><circle cx="515.8" cy="955.8" r="4"/><circle cx="532.9" cy="954.5" r="4"/><circle cx="546.0" cy="955.4" r="4"/><circle cx="554.5" cy="954.0" r="4"/><circle cx="571.5" cy="957.5" r="4"/><circle cx="582.4" cy="954.6" r="4"/><circle cx="586.3" cy="956.0" r="4"/><circle cx="593.2" cy="954.5" r="4"/><circle cx="459.0" cy="880.0" r="4"/><circle cx="462.0" cy="886.0" r="4"/><circle cx="466.0" cy="883.0" r="4"/><circle cx="470.0" cy="888.0" r="4"/><circle cx="456.5" cy="893.0" r="4"/><circle cx="460.0" cy="897.0" r="4"/><circle cx="464.0" cy="894.0" r="4"/><circle cx="469.0" cy="899.0" r="4"/><circle cx="473.0" cy="893.0" r="4"/><circle cx="458.0" cy="903.0" r="4"/><circle cx="463.0" cy="907.0" r="4"/><circle cx="457.0" cy="912.0" r="4"/><circle cx="467.0" cy="904.0" r="4"/><circle cx="472.0" cy="910.0" r="4"/><circle cx="478.0" cy="905.0" r="4"/><circle cx="483.0" cy="911.0" r="4"/><circle cx="461.0" cy="917.0" r="4"/><circle cx="456.5" cy="921.0" r="4"/><circle cx="465.0" cy="922.0" r="4"/><circle cx="470.0" cy="918.0" r="4"/><circle cx="476.0" cy="921.0" r="4"/><circle cx="481.0" cy="926.0" r="4"/><circle cx="488.0" cy="929.0" r="4"/><circle cx="492.0" cy="925.0" r="4"/><circle cx="503.0" cy="946.0" r="4"/><circle cx="510.0" cy="948.0" r="4"/><circle cx="497.0" cy="949.0" r="4"/><circle cx="523.0" cy="950.0" r="4"/><circle cx="529.0" cy="957.0" r="4"/><circle cx="538.0" cy="957.5" r="4"/><circle cx="562.0" cy="958.0" r="4"/><circle cx="577.0" cy="958.0" r="4"/><circle cx="601.0" cy="958.5" r="4"/><circle cx="566.0" cy="953.0" r="4"/><circle cx="384.0" cy="947.1" r="4"/><circle cx="385.1" cy="953.3" r="4"/><circle cx="382.8" cy="929.7" r="4"/><circle cx="387.8" cy="957.5" r="4"/><circle cx="385.1" cy="926.3" r="4"/><circle cx="387.8" cy="928.5" r="4"/><circle cx="386.7" cy="944.9" r="4"/><circle cx="386.9" cy="926.3" r="4"/><circle cx="380.3" cy="934.3" r="4"/><circle cx="382.8" cy="949.0" r="4"/><circle cx="382.1" cy="929.6" r="4"/><circle cx="385.5" cy="944.7" r="4"/><circle cx="376.6" cy="956.9" r="4"/><circle cx="388.2" cy="957.4" r="4"/><circle cx="384.8" cy="938.6" r="4"/><circle cx="387.0" cy="932.7" r="4"/><circle cx="388.6" cy="928.1" r="4"/><circle cx="380.7" cy="953.2" r="4"/><circle cx="385.4" cy="957.3" r="4"/><circle cx="383.9" cy="930.7" r="4"/><circle cx="387.7" cy="950.7" r="4"/><circle cx="380.7" cy="947.7" r="4"/><circle cx="388.0" cy="947.3" r="4"/><circle cx="384.9" cy="931.5" r="4"/><circle cx="384.1" cy="920.5" r="4"/><circle cx="387.0" cy="920.8" r="4"/><circle cx="387.3" cy="926.7" r="4"/><circle cx="384.7" cy="949.3" r="4"/><circle cx="384.6" cy="919.6" r="4"/><circle cx="385.0" cy="952.0" r="4"/><circle cx="385.3" cy="947.4" r="4"/><circle cx="385.1" cy="946.1" r="4"/><circle cx="382.0" cy="953.9" r="4"/><circle cx="385.6" cy="927.0" r="4"/><circle cx="385.7" cy="924.9" r="4"/><circle cx="379.0" cy="954.5" r="4"/><circle cx="387.7" cy="922.5" r="4"/><circle cx="382.2" cy="958.7" r="4"/><circle cx="383.8" cy="939.5" r="4"/><circle cx="386.2" cy="917.9" r="4"/><circle cx="388.7" cy="926.6" r="4"/><circle cx="381.4" cy="939.4" r="4"/><circle cx="388.2" cy="957.3" r="4"/><circle cx="382.2" cy="930.1" r="4"/><circle cx="380.5" cy="957.3" r="4"/><circle cx="379.0" cy="955.5" r="4"/><circle cx="387.3" cy="934.5" r="4"/><circle cx="379.1" cy="953.0" r="4"/><circle cx="381.4" cy="940.6" r="4"/><circle cx="385.7" cy="946.2" r="4"/><circle cx="386.1" cy="917.8" r="4"/><circle cx="383.9" cy="941.8" r="4"/><circle cx="383.7" cy="930.9" r="4"/><circle cx="387.1" cy="920.7" r="4"/><circle cx="385.0" cy="925.4" r="4"/><circle cx="384.2" cy="924.0" r="4"/><circle cx="383.4" cy="925.0" r="4"/><circle cx="386.2" cy="918.3" r="4"/><circle cx="382.1" cy="940.4" r="4"/><circle cx="386.5" cy="926.7" r="4"/><circle cx="387.8" cy="945.1" r="4"/><circle cx="381.4" cy="929.9" r="4"/><circle cx="387.5" cy="947.0" r="4"/><circle cx="384.0" cy="953.5" r="4"/><circle cx="376.6" cy="950.3" r="4"/><circle cx="385.3" cy="957.9" r="4"/><circle cx="380.4" cy="956.4" r="4"/><circle cx="388.0" cy="928.1" r="4"/><circle cx="383.1" cy="957.8" r="4"/><circle cx="380.4" cy="937.6" r="4"/><circle cx="387.9" cy="958.4" r="4"/><circle cx="386.7" cy="954.2" r="4"/><circle cx="380.0" cy="952.4" r="4"/><circle cx="387.3" cy="937.1" r="4"/><circle cx="385.9" cy="954.2" r="4"/><circle cx="379.0" cy="954.6" r="4"/><circle cx="382.8" cy="949.6" r="4"/><circle cx="386.2" cy="925.9" r="4"/><circle cx="377.6" cy="951.5" r="4"/><circle cx="387.5" cy="920.7" r="4"/><circle cx="379.4" cy="939.4" r="4"/><circle cx="387.1" cy="942.3" r="4"/><circle cx="375.0" cy="958.1" r="4"/><circle cx="386.8" cy="926.8" r="4"/><circle cx="384.3" cy="940.3" r="4"/><circle cx="352.1" cy="945.7" r="4"/><circle cx="381.7" cy="922.9" r="4"/><circle cx="367.6" cy="957.7" r="4"/><circle cx="361.2" cy="940.3" r="4"/><circle cx="374.1" cy="919.3" r="4"/><circle cx="381.3" cy="951.7" r="4"/><circle cx="378.5" cy="943.1" r="4"/><circle cx="378.8" cy="909.0" r="4"/><circle cx="363.0" cy="924.2" r="4"/><circle cx="368.2" cy="946.1" r="4"/><circle cx="357.4" cy="952.0" r="4"/><circle cx="352.9" cy="958.0" r="4"/><circle cx="373.1" cy="910.5" r="4"/><circle cx="376.5" cy="955.1" r="4"/><circle cx="385.3" cy="919.1" r="4"/><circle cx="373.5" cy="934.0" r="4"/><circle cx="379.4" cy="903.1" r="4"/><circle cx="382.2" cy="909.8" r="4"/><circle cx="379.3" cy="914.3" r="4"/><circle cx="386.0" cy="905.7" r="4"/><circle cx="383.6" cy="911.9" r="4"/><circle cx="372.9" cy="930.1" r="4"/><circle cx="355.2" cy="951.7" r="4"/><circle cx="376.6" cy="943.7" r="4"/><circle cx="375.0" cy="955.4" r="4"/><circle cx="468.8" cy="949.7" r="4"/><circle cx="469.1" cy="952.4" r="4"/><circle cx="464.3" cy="957.7" r="4"/><circle cx="473.9" cy="949.8" r="4"/><circle cx="464.4" cy="939.4" r="4"/><circle cx="464.1" cy="958.9" r="4"/><circle cx="459.7" cy="943.0" r="4"/><circle cx="463.5" cy="947.1" r="4"/><circle cx="479.0" cy="958.9" r="4"/><circle cx="459.2" cy="940.3" r="4"/><circle cx="460.7" cy="945.7" r="4"/><circle cx="466.1" cy="952.0" r="4"/><circle cx="462.5" cy="953.8" r="4"/><circle cx="468.5" cy="951.6" r="4"/><circle cx="460.2" cy="954.7" r="4"/><circle cx="460.8" cy="942.4" r="4"/><circle cx="462.3" cy="935.8" r="4"/><circle cx="460.9" cy="942.6" r="4"/><circle cx="458.0" cy="939.5" r="4"/><circle cx="458.5" cy="957.0" r="4"/><circle cx="466.7" cy="943.9" r="4"/><circle cx="464.2" cy="956.3" r="4"/><circle cx="463.5" cy="939.2" r="4"/><circle cx="460.9" cy="957.9" r="4"/><circle cx="459.0" cy="956.7" r="4"/><circle cx="458.1" cy="951.2" r="4"/><circle cx="461.0" cy="936.5" r="4"/><circle cx="467.1" cy="948.5" r="4"/><circle cx="467.4" cy="941.3" r="4"/><circle cx="462.1" cy="951.7" r="4"/><circle cx="457.4" cy="951.1" r="4"/><circle cx="469.1" cy="951.4" r="4"/><circle cx="464.3" cy="934.6" r="4"/><circle cx="465.2" cy="944.4" r="4"/><circle cx="463.1" cy="958.9" r="4"/><circle cx="468.5" cy="952.8" r="4"/><circle cx="463.9" cy="957.6" r="4"/><circle cx="469.8" cy="948.6" r="4"/><circle cx="463.9" cy="939.5" r="4"/><circle cx="472.4" cy="956.7" r="4"/><circle cx="462.5" cy="937.1" r="4"/><circle cx="465.4" cy="952.6" r="4"/><circle cx="471.3" cy="957.0" r="4"/><circle cx="461.5" cy="934.4" r="4"/><circle cx="468.3" cy="942.8" r="4"/><circle cx="476.4" cy="956.0" r="4"/><circle cx="459.4" cy="945.4" r="4"/><circle cx="461.3" cy="958.0" r="4"/><circle cx="467.4" cy="946.8" r="4"/><circle cx="474.6" cy="953.1" r="4"/><circle cx="464.7" cy="952.3" r="4"/><circle cx="477.8" cy="957.3" r="4"/><circle cx="475.9" cy="957.1" r="4"/><circle cx="465.3" cy="947.7" r="4"/><circle cx="460.5" cy="947.2" r="4"/><circle cx="467.7" cy="936.9" r="4"/><circle cx="463.8" cy="939.8" r="4"/><circle cx="474.1" cy="957.4" r="4"/><circle cx="474.3" cy="954.0" r="4"/><circle cx="467.5" cy="955.1" r="4"/><circle cx="458.9" cy="939.4" r="4"/><circle cx="458.0" cy="947.6" r="4"/><circle cx="460.1" cy="958.7" r="4"/><circle cx="465.9" cy="934.4" r="4"/><circle cx="460.8" cy="944.5" r="4"/><circle cx="467.2" cy="944.1" r="4"/><circle cx="467.0" cy="951.9" r="4"/><circle cx="457.4" cy="940.2" r="4"/><circle cx="465.5" cy="955.9" r="4"/><circle cx="464.0" cy="957.0" r="4"/><circle cx="459.2" cy="947.0" r="4"/><circle cx="460.6" cy="948.3" r="4"/><circle cx="461.5" cy="947.0" r="4"/><circle cx="457.6" cy="945.0" r="4"/><circle cx="458.7" cy="944.1" r="4"/><circle cx="462.5" cy="935.3" r="4"/><circle cx="463.2" cy="949.6" r="4"/><circle cx="466.9" cy="945.5" r="4"/><circle cx="466.5" cy="941.6" r="4"/><circle cx="474.1" cy="949.2" r="4"/><circle cx="467.0" cy="939.1" r="4"/><circle cx="463.9" cy="951.2" r="4"/><circle cx="471.3" cy="947.1" r="4"/><circle cx="464.9" cy="948.2" r="4"/><circle cx="472.9" cy="950.6" r="4"/><circle cx="457.9" cy="953.3" r="4"/><circle cx="469.1" cy="942.5" r="4"/><circle cx="464.5" cy="942.3" r="4"/><circle cx="460.4" cy="941.7" r="4"/><circle cx="457.9" cy="946.3" r="4"/><circle cx="465.3" cy="957.3" r="4"/><circle cx="462.8" cy="948.8" r="4"/><circle cx="471.3" cy="958.5" r="4"/><circle cx="460.2" cy="948.1" r="4"/><circle cx="463.6" cy="953.6" r="4"/><circle cx="458.1" cy="955.2" r="4"/><circle cx="467.4" cy="936.8" r="4"/><circle cx="469.4" cy="944.3" r="4"/><circle cx="471.0" cy="950.9" r="4"/><circle cx="471.5" cy="955.5" r="4"/><circle cx="471.3" cy="947.0" r="4"/><circle cx="473.5" cy="957.8" r="4"/><circle cx="467.3" cy="957.3" r="4"/><circle cx="457.3" cy="935.6" r="4"/><circle cx="462.0" cy="955.0" r="4"/><circle cx="458.0" cy="953.2" r="4"/><circle cx="465.7" cy="937.4" r="4"/><circle cx="462.5" cy="951.5" r="4"/><circle cx="457.7" cy="946.5" r="4"/><circle cx="476.5" cy="958.7" r="4"/><circle cx="487.8" cy="947.5" r="4"/><circle cx="486.6" cy="918.4" r="4"/><circle cx="479.8" cy="940.5" r="4"/><circle cx="498.7" cy="948.0" r="4"/><circle cx="477.7" cy="920.3" r="4"/><circle cx="480.2" cy="923.2" r="4"/><circle cx="479.1" cy="940.5" r="4"/><circle cx="488.1" cy="921.1" r="4"/><circle cx="492.4" cy="951.7" r="4"/><circle cx="499.3" cy="952.1" r="4"/><circle cx="478.4" cy="956.8" r="4"/><circle cx="480.4" cy="928.7" r="4"/><circle cx="486.1" cy="920.1" r="4"/><circle cx="477.5" cy="929.3" r="4"/><circle cx="491.3" cy="930.2" r="4"/><circle cx="477.1" cy="941.7" r="4"/><circle cx="483.5" cy="950.9" r="4"/><circle cx="478.6" cy="929.5" r="4"/><circle cx="481.8" cy="952.5" r="4"/><circle cx="489.3" cy="931.7" r="4"/></g>
<line x1="390.4" y1="987.5" x2="390.4" y2="622.5" stroke="#222" stroke-width="2" stroke-dasharray="17.2 7.65"/>
<line x1="455.3" y1="987.5" x2="455.3" y2="622.5" stroke="#222" stroke-width="2" stroke-dasharray="17.2 7.65"/>
<line x1="156.25" y1="962.9" x2="689.6" y2="962.9" stroke="#222" stroke-width="2" stroke-dasharray="17.2 7.65"/>
<line x1="156.25" y1="622.5" x2="156.25" y2="988.3" stroke="#333" stroke-width="1.7"/>
<line x1="155.45" y1="987.5" x2="689.6" y2="987.5" stroke="#333" stroke-width="1.7"/>
<line x1="148.75" y1="639.15" x2="156.25" y2="639.15" stroke="#333" stroke-width="1.4"/>
<text font-size="26.8" fill="#4D4D4D" stroke="#4D4D4D" stroke-width="0.35" letter-spacing="-0.7" x="103.79" y="650.4">200</text>
<line x1="148.75" y1="722.17" x2="156.25" y2="722.17" stroke="#333" stroke-width="1.4"/>
<text font-size="26.8" fill="#4D4D4D" stroke="#4D4D4D" stroke-width="0.35" letter-spacing="-0.7" x="103.89" y="733.2">150</text>
<line x1="148.75" y1="805.2" x2="156.25" y2="805.2" stroke="#333" stroke-width="1.4"/>
<text font-size="26.8" fill="#4D4D4D" stroke="#4D4D4D" stroke-width="0.35" letter-spacing="-0.7" x="103.79" y="813.3">100</text>
<line x1="148.75" y1="888.23" x2="156.25" y2="888.23" stroke="#333" stroke-width="1.4"/>
<text font-size="26.8" fill="#4D4D4D" stroke="#4D4D4D" stroke-width="0.35" letter-spacing="-0.705" x="116.89" y="899.3">50</text>
<line x1="148.75" y1="971.25" x2="156.25" y2="971.25" stroke="#333" stroke-width="1.4"/>
<text font-size="26.8" fill="#4D4D4D" stroke="#4D4D4D" stroke-width="0.35" x="128.9" y="978.9">0</text>
<line x1="261.3" y1="987.5" x2="261.3" y2="995" stroke="#333" stroke-width="1.4"/>
<text text-anchor="middle" font-size="26" fill="#4D4D4D" stroke="#4D4D4D" stroke-width="0.34" x="263.8" y="1018.3">−10</text>
<line x1="423" y1="987.5" x2="423" y2="995" stroke="#333" stroke-width="1.4"/>
<text text-anchor="middle" font-size="26" fill="#4D4D4D" stroke="#4D4D4D" stroke-width="0.34" x="423.5" y="1018.3">0</text>
<line x1="584.7" y1="987.5" x2="584.7" y2="995" stroke="#333" stroke-width="1.4"/>
<text text-anchor="middle" font-size="26" fill="#4D4D4D" stroke="#4D4D4D" stroke-width="0.34" x="585.2" y="1018.3">10</text>
<g font-size="7.6" stroke="#000" stroke-width="0.22">
<text x="466.3" y="650.5">TBCD</text>
<text x="465.8" y="681.3">CD53</text>
<text x="511.7" y="680.8">PIK3IP1</text>
<text x="486.7" y="728">DPEP1</text>
<text x="372" y="736.7">ZNF367</text>
<text x="489.3" y="748">WFS1</text>
<text x="470" y="758.8">AKNA</text>
<text x="474.2" y="773.3">TNFRSF13C</text>
<text x="361.7" y="790.8">ENO2</text>
<text x="470" y="799.7">AP1B1</text>
<text x="473.7" y="810.8">FKBP5</text>
<text x="472" y="821.7">KIF26A</text>
<text x="381.9" y="830.8">CENPU</text>
<text x="357.9" y="845.6">MRC2</text>
<text x="370.4" y="860.2">TNS1</text>
<text x="326.8" y="868.8">FLT4</text>
<text x="381.9" y="871.8">E2F8</text>
<text x="361.8" y="894.3">FOS</text>
<text x="387" y="895.3">RAD54L</text>
<text x="383.5" y="903.5">ELFN2</text>
<text x="344.8" y="908.4">PDE4C</text>
<text x="386.7" y="911.3">E2F1</text>
<text x="357.5" y="914.6">CNTN2</text>
<text x="390" y="925.5">WDR76</text>
<text x="345.7" y="929.4">ATP9A</text>
<text x="383.1" y="932.3">PLAUR</text>
<text x="383.7" y="938.8">PRPS2</text>
<text x="385.8" y="946.7">P4HA2</text>
<text x="345.7" y="950.6">MADCAM1</text>
<text x="390" y="953.9">BRCA1</text>
<text x="313.8" y="961.3">BAG6</text>
<text x="354.6" y="961.3">GAS2L3</text>
<text x="391.3" y="965.3">PRKAR2B</text>
<text x="301" y="970.5">PCDH12</text>
<text x="354" y="968.3">GP5</text>
<text x="374" y="968.9">CD4</text>
<text x="493.1" y="831.4">SH3BP2</text>
<text x="476.4" y="837.9">PLEC</text>
<text x="545.7" y="840.7">LILRA2</text>
<text x="495.2" y="848.3">RAPGEF3</text>
<text x="538.7" y="852.2">P2RY14</text>
<text x="463.7" y="852.2">CYTH3</text>
<text x="477.9" y="859.6">BMF</text>
<text x="484.9" y="871.2">SIK1B</text>
<text x="459.8" y="882.3">RARA</text>
<text x="499.9" y="887.9">FGD2</text>
<text x="462.1" y="891">YBX3</text>
<text x="525.4" y="891.8">ZBTB16</text>
<text x="586.7" y="897.8">LDB3</text>
<text x="460.9" y="902.1">ITM2C</text>
<text x="469.1" y="908.8">STAG3</text>
<text x="542.1" y="913">TMEM100</text>
<text x="487.7" y="922.3">KLF2</text>
<text x="539.8" y="923.8">KCNK3</text>
<text x="458.6" y="925">PRAG1</text>
<text x="588.9" y="932.8">OR7A5</text>
<text x="456.2" y="934.6">CLEC16A</text>
<text x="475.1" y="941.6">MGLL</text>
<text x="474.8" y="949.3">CPQ</text>
<text x="517.8" y="952.1">CAPN11</text>
<text x="619.1" y="956.6">STAB1</text>
<text x="467.9" y="958.2">PRDM11</text>
<text x="479.9" y="964">HCST</text>
<text x="508.6" y="961.7">PPP2R2C</text>
<text x="555.3" y="961.7">RASL10A</text>
<text x="593.7" y="962.8">PGC</text>
<text x="460.6" y="970.2">SHB</text>
<text x="512" y="967.9">SEMA3G</text>
<text x="563" y="969.2">EBI3</text>
</g>
<text font-size="28.8" stroke="#000" stroke-width="0.37" x="321.3" y="1048.8" xml:space="preserve"><tspan>Log</tspan><tspan font-size="17.86" dy="9.5">2</tspan><tspan dy="-9.5" font-size="28.8">&#8203;</tspan><tspan> fold change</tspan></text>
<text font-size="28.8" stroke="#000" stroke-width="0.37" transform="translate(85.5 843.5) rotate(-90)" xml:space="preserve"><tspan>-Log</tspan><tspan font-size="17.86" dy="9.5">10</tspan><tspan dy="-9.5" font-size="28.8">&#8203;</tspan><tspan> </tspan><tspan font-style="italic">P</tspan></text>
<text font-size="36" font-weight="bold" fill="#111" x="771.1" y="511.4">D</text>
<text font-size="28.8" stroke="#000" stroke-width="0.37" x="1097.2" y="532.5">REH GCR dex vs veh</text>
<circle cx="940" cy="569.5" r="8.1" fill="#4D4D4D" fill-opacity="0.5"/>
<circle cx="1027.5" cy="569.5" r="8.1" fill="#228B22" fill-opacity="0.5"/>
<circle cx="1163.25" cy="569.5" r="8.1" fill="#5462C0" fill-opacity="0.5"/>
<circle cx="1296.25" cy="569.5" r="8.1" fill="#E03A28" fill-opacity="0.5"/>
<text font-size="25.6" stroke="#000" stroke-width="0.33" x="959.5" y="577.8">n.s.</text>
<text font-size="25.6" stroke="#000" stroke-width="0.33" x="1050" y="577.8" xml:space="preserve"><tspan>Log</tspan><tspan font-size="15.87" dy="8.45">2</tspan><tspan dy="-8.45" font-size="25.6">&#8203;</tspan><tspan> FC</tspan></text>
<text font-size="25.6" stroke="#000" stroke-width="0.33" x="1180.5" y="577.8">p−value</text>
<text font-size="25.6" stroke="#000" stroke-width="0.33" x="1312.5" y="577.8" xml:space="preserve"><tspan>p-value and Log</tspan><tspan font-size="15.87" dy="8.45">2</tspan><tspan dy="-8.45" font-size="25.6">&#8203;</tspan><tspan> FC</tspan></text>
<line x1="1023.9" y1="610.75" x2="1023.9" y2="987.5" stroke="#EDEDED" stroke-width="1.1"/>
<line x1="1106.1" y1="610.75" x2="1106.1" y2="987.5" stroke="#EDEDED" stroke-width="1.1"/>
<line x1="1188.3" y1="610.75" x2="1188.3" y2="987.5" stroke="#EDEDED" stroke-width="1.1"/>
<line x1="1270.5" y1="610.75" x2="1270.5" y2="987.5" stroke="#EDEDED" stroke-width="1.1"/>
<line x1="1352.7" y1="610.75" x2="1352.7" y2="987.5" stroke="#EDEDED" stroke-width="1.1"/>
<line x1="1434.9" y1="610.75" x2="1434.9" y2="987.5" stroke="#EDEDED" stroke-width="1.1"/>
<line x1="1517.1" y1="610.75" x2="1517.1" y2="987.5" stroke="#EDEDED" stroke-width="1.1"/>
<line x1="999.5" y1="970.1" x2="1541.3" y2="970.1" stroke="#EDEDED" stroke-width="1.1"/>
<line x1="999.5" y1="927.96" x2="1541.3" y2="927.96" stroke="#EDEDED" stroke-width="1.1"/>
<line x1="999.5" y1="885.83" x2="1541.3" y2="885.83" stroke="#EDEDED" stroke-width="1.1"/>
<line x1="999.5" y1="843.69" x2="1541.3" y2="843.69" stroke="#EDEDED" stroke-width="1.1"/>
<line x1="999.5" y1="801.55" x2="1541.3" y2="801.55" stroke="#EDEDED" stroke-width="1.1"/>
<line x1="999.5" y1="759.41" x2="1541.3" y2="759.41" stroke="#EDEDED" stroke-width="1.1"/>
<line x1="999.5" y1="717.28" x2="1541.3" y2="717.28" stroke="#EDEDED" stroke-width="1.1"/>
<line x1="999.5" y1="675.14" x2="1541.3" y2="675.14" stroke="#EDEDED" stroke-width="1.1"/>
<line x1="999.5" y1="633" x2="1541.3" y2="633" stroke="#EDEDED" stroke-width="1.1"/>
<g fill="#4D4D4D" fill-opacity="0.5"><circle cx="1251.4" cy="967.4" r="4"/><circle cx="1251.0" cy="964.7" r="4"/><circle cx="1246.8" cy="965.8" r="4"/><circle cx="1246.0" cy="964.8" r="4"/><circle cx="1241.6" cy="965.8" r="4"/><circle cx="1242.0" cy="965.9" r="4"/><circle cx="1239.7" cy="964.7" r="4"/><circle cx="1248.4" cy="965.7" r="4"/><circle cx="1245.7" cy="966.7" r="4"/><circle cx="1243.7" cy="964.6" r="4"/><circle cx="1249.4" cy="966.3" r="4"/><circle cx="1247.7" cy="966.4" r="4"/><circle cx="1252.1" cy="965.6" r="4"/><circle cx="1249.1" cy="965.6" r="4"/><circle cx="1246.5" cy="966.5" r="4"/><circle cx="1243.1" cy="964.7" r="4"/><circle cx="1245.2" cy="966.7" r="4"/><circle cx="1246.8" cy="965.8" r="4"/><circle cx="1247.5" cy="965.0" r="4"/><circle cx="1241.5" cy="965.4" r="4"/><circle cx="1249.9" cy="965.0" r="4"/><circle cx="1240.7" cy="964.7" r="4"/><circle cx="1239.9" cy="965.3" r="4"/><circle cx="1246.5" cy="967.0" r="4"/><circle cx="1243.4" cy="965.6" r="4"/><circle cx="1242.8" cy="965.4" r="4"/><circle cx="1249.4" cy="966.2" r="4"/><circle cx="1242.4" cy="964.7" r="4"/><circle cx="1249.4" cy="966.7" r="4"/><circle cx="1250.1" cy="965.2" r="4"/><circle cx="1246.2" cy="967.3" r="4"/><circle cx="1246.8" cy="967.4" r="4"/><circle cx="1241.3" cy="967.5" r="4"/><circle cx="1240.0" cy="965.7" r="4"/><circle cx="1239.7" cy="967.0" r="4"/><circle cx="1248.1" cy="967.5" r="4"/><circle cx="1249.7" cy="967.4" r="4"/><circle cx="1246.1" cy="967.6" r="4"/><circle cx="1249.0" cy="965.5" r="4"/><circle cx="1252.1" cy="965.6" r="4"/><circle cx="1241.6" cy="964.6" r="4"/><circle cx="1245.1" cy="965.0" r="4"/><circle cx="1251.6" cy="967.4" r="4"/><circle cx="1241.9" cy="964.7" r="4"/><circle cx="1246.0" cy="964.9" r="4"/><circle cx="1246.1" cy="967.0" r="4"/><circle cx="1242.4" cy="965.7" r="4"/><circle cx="1251.1" cy="965.8" r="4"/><circle cx="1243.5" cy="967.3" r="4"/><circle cx="1249.9" cy="967.3" r="4"/><circle cx="1248.1" cy="965.7" r="4"/><circle cx="1248.2" cy="967.1" r="4"/><circle cx="1247.5" cy="965.2" r="4"/><circle cx="1242.9" cy="965.7" r="4"/><circle cx="1249.3" cy="966.2" r="4"/><circle cx="1246.2" cy="967.0" r="4"/><circle cx="1240.6" cy="966.4" r="4"/><circle cx="1243.4" cy="966.2" r="4"/><circle cx="1250.2" cy="965.2" r="4"/><circle cx="1251.8" cy="964.7" r="4"/><circle cx="1246.4" cy="966.1" r="4"/><circle cx="1242.1" cy="966.2" r="4"/><circle cx="1245.2" cy="965.8" r="4"/><circle cx="1248.5" cy="964.4" r="4"/><circle cx="1243.9" cy="966.9" r="4"/><circle cx="1241.0" cy="967.2" r="4"/><circle cx="1241.8" cy="966.6" r="4"/><circle cx="1241.4" cy="965.8" r="4"/><circle cx="1244.5" cy="964.7" r="4"/><circle cx="1248.3" cy="965.9" r="4"/><circle cx="1293.2" cy="966.1" r="4"/><circle cx="1294.9" cy="966.1" r="4"/><circle cx="1298.2" cy="967.3" r="4"/><circle cx="1300.7" cy="967.2" r="4"/><circle cx="1290.9" cy="966.0" r="4"/><circle cx="1292.0" cy="966.6" r="4"/><circle cx="1294.3" cy="965.3" r="4"/><circle cx="1297.9" cy="965.5" r="4"/><circle cx="1298.1" cy="967.5" r="4"/><circle cx="1297.7" cy="965.6" r="4"/><circle cx="1296.7" cy="967.0" r="4"/><circle cx="1296.0" cy="966.2" r="4"/><circle cx="1298.7" cy="965.3" r="4"/><circle cx="1300.6" cy="965.1" r="4"/><circle cx="1298.6" cy="967.1" r="4"/><circle cx="1295.6" cy="964.8" r="4"/><circle cx="1296.1" cy="964.8" r="4"/><circle cx="1294.8" cy="965.8" r="4"/><circle cx="1290.9" cy="965.2" r="4"/><circle cx="1291.0" cy="965.2" r="4"/><circle cx="1289.2" cy="966.4" r="4"/><circle cx="1301.1" cy="967.0" r="4"/><circle cx="1298.5" cy="965.6" r="4"/><circle cx="1300.0" cy="967.1" r="4"/><circle cx="1300.6" cy="966.8" r="4"/><circle cx="1297.0" cy="966.6" r="4"/><circle cx="1298.3" cy="964.7" r="4"/><circle cx="1290.2" cy="966.5" r="4"/><circle cx="1299.7" cy="967.5" r="4"/><circle cx="1290.2" cy="965.0" r="4"/><circle cx="1301.3" cy="966.4" r="4"/><circle cx="1300.1" cy="966.7" r="4"/><circle cx="1296.1" cy="966.7" r="4"/><circle cx="1294.8" cy="966.9" r="4"/><circle cx="1291.4" cy="966.3" r="4"/><circle cx="1294.5" cy="965.4" r="4"/><circle cx="1300.1" cy="964.7" r="4"/><circle cx="1291.0" cy="965.1" r="4"/><circle cx="1296.6" cy="965.4" r="4"/><circle cx="1294.1" cy="966.1" r="4"/><circle cx="1290.9" cy="965.8" r="4"/><circle cx="1297.4" cy="966.5" r="4"/><circle cx="1292.5" cy="967.4" r="4"/><circle cx="1298.0" cy="967.2" r="4"/><circle cx="1289.3" cy="967.5" r="4"/><circle cx="1300.2" cy="965.6" r="4"/><circle cx="1292.1" cy="967.1" r="4"/><circle cx="1301.1" cy="965.7" r="4"/><circle cx="1292.7" cy="966.8" r="4"/><circle cx="1295.2" cy="965.1" r="4"/><circle cx="1296.9" cy="964.6" r="4"/><circle cx="1298.0" cy="965.8" r="4"/><circle cx="1291.4" cy="966.3" r="4"/><circle cx="1296.8" cy="965.2" r="4"/><circle cx="1298.0" cy="966.5" r="4"/><circle cx="1296.4" cy="965.0" r="4"/><circle cx="1291.4" cy="966.2" r="4"/><circle cx="1289.4" cy="966.1" r="4"/><circle cx="1294.1" cy="965.8" r="4"/><circle cx="1294.3" cy="967.3" r="4"/><circle cx="1289.3" cy="966.5" r="4"/><circle cx="1296.6" cy="964.6" r="4"/><circle cx="1291.2" cy="965.7" r="4"/><circle cx="1297.2" cy="964.6" r="4"/><circle cx="1301.2" cy="965.6" r="4"/><circle cx="1289.3" cy="966.8" r="4"/><circle cx="1292.9" cy="966.5" r="4"/><circle cx="1298.5" cy="964.9" r="4"/><circle cx="1294.3" cy="964.6" r="4"/><circle cx="1294.5" cy="966.0" r="4"/></g>
<g fill="#228B22" fill-opacity="0.5"><circle cx="1209.1" cy="963.7" r="4"/><circle cx="1233.8" cy="965.1" r="4"/><circle cx="1230.5" cy="965.8" r="4"/><circle cx="1222.3" cy="965.7" r="4"/><circle cx="1196.3" cy="965.6" r="4"/><circle cx="1209.8" cy="964.0" r="4"/><circle cx="1220.3" cy="967.1" r="4"/><circle cx="1224.4" cy="964.3" r="4"/><circle cx="1212.0" cy="965.4" r="4"/><circle cx="1193.7" cy="964.4" r="4"/><circle cx="1182.5" cy="963.3" r="4"/><circle cx="1193.8" cy="965.5" r="4"/><circle cx="1186.6" cy="963.8" r="4"/><circle cx="1200.2" cy="967.0" r="4"/><circle cx="1201.6" cy="963.6" r="4"/><circle cx="1185.3" cy="967.1" r="4"/><circle cx="1232.0" cy="966.5" r="4"/><circle cx="1233.3" cy="963.5" r="4"/><circle cx="1193.5" cy="966.1" r="4"/><circle cx="1182.9" cy="965.7" r="4"/><circle cx="1210.9" cy="964.3" r="4"/><circle cx="1207.3" cy="967.2" r="4"/><circle cx="1202.8" cy="966.7" r="4"/><circle cx="1228.0" cy="966.1" r="4"/><circle cx="1197.5" cy="963.5" r="4"/><circle cx="1191.9" cy="963.9" r="4"/><circle cx="1227.0" cy="963.4" r="4"/><circle cx="1201.8" cy="963.8" r="4"/><circle cx="1181.6" cy="963.2" r="4"/><circle cx="1192.5" cy="966.2" r="4"/><circle cx="1207.5" cy="965.5" r="4"/><circle cx="1193.3" cy="965.7" r="4"/><circle cx="1230.7" cy="966.4" r="4"/><circle cx="1219.9" cy="965.5" r="4"/><circle cx="1210.9" cy="966.8" r="4"/><circle cx="1216.5" cy="966.6" r="4"/><circle cx="1233.2" cy="964.5" r="4"/><circle cx="1201.3" cy="965.6" r="4"/><circle cx="1191.1" cy="964.0" r="4"/><circle cx="1192.9" cy="966.4" r="4"/><circle cx="1230.6" cy="963.8" r="4"/><circle cx="1206.7" cy="967.1" r="4"/><circle cx="1204.8" cy="964.9" r="4"/><circle cx="1211.2" cy="966.4" r="4"/><circle cx="1210.3" cy="965.3" r="4"/><circle cx="1206.1" cy="966.9" r="4"/><circle cx="1193.1" cy="966.6" r="4"/><circle cx="1224.6" cy="965.6" r="4"/><circle cx="1191.7" cy="966.1" r="4"/><circle cx="1183.2" cy="966.9" r="4"/><circle cx="1231.3" cy="965.2" r="4"/><circle cx="1219.7" cy="964.0" r="4"/><circle cx="1211.6" cy="967.1" r="4"/><circle cx="1195.2" cy="963.6" r="4"/><circle cx="1225.5" cy="964.7" r="4"/><circle cx="1187.6" cy="965.0" r="4"/><circle cx="1229.8" cy="965.4" r="4"/><circle cx="1225.5" cy="963.4" r="4"/><circle cx="1206.1" cy="967.2" r="4"/><circle cx="1194.7" cy="966.1" r="4"/><circle cx="1230.1" cy="965.4" r="4"/><circle cx="1203.4" cy="966.2" r="4"/><circle cx="1214.7" cy="963.4" r="4"/><circle cx="1184.8" cy="964.3" r="4"/><circle cx="1197.1" cy="965.1" r="4"/><circle cx="1194.5" cy="964.6" r="4"/><circle cx="1232.8" cy="964.9" r="4"/><circle cx="1212.8" cy="966.4" r="4"/><circle cx="1217.1" cy="965.9" r="4"/><circle cx="1218.7" cy="966.1" r="4"/><circle cx="1229.1" cy="966.7" r="4"/><circle cx="1183.7" cy="963.3" r="4"/><circle cx="1189.4" cy="966.3" r="4"/><circle cx="1199.9" cy="963.6" r="4"/><circle cx="1197.4" cy="966.3" r="4"/><circle cx="1204.1" cy="967.1" r="4"/><circle cx="1183.5" cy="965.7" r="4"/><circle cx="1185.0" cy="963.8" r="4"/><circle cx="1222.9" cy="965.3" r="4"/><circle cx="1210.3" cy="967.0" r="4"/><circle cx="1203.5" cy="965.7" r="4"/><circle cx="1204.4" cy="967.0" r="4"/><circle cx="1217.3" cy="966.2" r="4"/><circle cx="1205.7" cy="964.8" r="4"/><circle cx="1220.7" cy="963.8" r="4"/><circle cx="1235.8" cy="964.5" r="4"/><circle cx="1222.8" cy="963.5" r="4"/><circle cx="1212.5" cy="964.6" r="4"/><circle cx="1184.9" cy="966.3" r="4"/><circle cx="1201.7" cy="966.6" r="4"/><circle cx="1224.1" cy="963.7" r="4"/><circle cx="1205.1" cy="964.1" r="4"/><circle cx="1181.0" cy="964.9" r="4"/><circle cx="1187.6" cy="964.2" r="4"/><circle cx="1232.7" cy="965.7" r="4"/><circle cx="1199.9" cy="964.2" r="4"/><circle cx="1184.9" cy="967.1" r="4"/><circle cx="1200.3" cy="967.1" r="4"/><circle cx="1181.1" cy="963.8" r="4"/><circle cx="1197.6" cy="966.2" r="4"/><circle cx="1197.5" cy="964.6" r="4"/><circle cx="1209.1" cy="965.6" r="4"/><circle cx="1189.9" cy="963.4" r="4"/><circle cx="1218.7" cy="964.5" r="4"/><circle cx="1193.7" cy="963.7" r="4"/><circle cx="1234.0" cy="963.7" r="4"/><circle cx="1231.8" cy="964.9" r="4"/><circle cx="1188.9" cy="964.6" r="4"/><circle cx="1232.4" cy="965.9" r="4"/><circle cx="1221.1" cy="965.5" r="4"/><circle cx="1196.5" cy="965.0" r="4"/><circle cx="1197.4" cy="965.7" r="4"/><circle cx="1189.8" cy="966.2" r="4"/><circle cx="1186.6" cy="966.2" r="4"/><circle cx="1223.7" cy="965.2" r="4"/><circle cx="1194.9" cy="966.3" r="4"/><circle cx="1197.6" cy="966.6" r="4"/><circle cx="1191.6" cy="965.4" r="4"/><circle cx="1203.2" cy="963.4" r="4"/><circle cx="1212.9" cy="966.1" r="4"/><circle cx="1185.8" cy="966.6" r="4"/><circle cx="1215.1" cy="964.1" r="4"/><circle cx="1187.6" cy="965.8" r="4"/><circle cx="1228.3" cy="963.4" r="4"/><circle cx="1188.1" cy="965.5" r="4"/><circle cx="1232.1" cy="967.2" r="4"/><circle cx="1206.4" cy="966.2" r="4"/><circle cx="1192.7" cy="964.2" r="4"/><circle cx="1210.3" cy="963.9" r="4"/><circle cx="1204.9" cy="964.9" r="4"/><circle cx="1193.8" cy="963.7" r="4"/><circle cx="1227.6" cy="964.7" r="4"/><circle cx="1236.0" cy="964.8" r="4"/><circle cx="1182.5" cy="966.7" r="4"/><circle cx="1228.8" cy="966.5" r="4"/><circle cx="1226.6" cy="964.2" r="4"/><circle cx="1203.4" cy="964.4" r="4"/><circle cx="1227.8" cy="963.5" r="4"/><circle cx="1229.0" cy="964.0" r="4"/><circle cx="1185.9" cy="963.4" r="4"/><circle cx="1209.3" cy="964.0" r="4"/><circle cx="1198.2" cy="963.2" r="4"/><circle cx="1218.9" cy="966.2" r="4"/><circle cx="1235.3" cy="964.8" r="4"/><circle cx="1221.4" cy="965.1" r="4"/><circle cx="1203.9" cy="963.5" r="4"/><circle cx="1188.9" cy="964.3" r="4"/><circle cx="1194.9" cy="963.7" r="4"/><circle cx="1232.7" cy="964.0" r="4"/><circle cx="1233.1" cy="964.2" r="4"/><circle cx="1230.7" cy="963.5" r="4"/><circle cx="1189.8" cy="965.3" r="4"/><circle cx="1211.8" cy="965.2" r="4"/><circle cx="1192.5" cy="963.4" r="4"/><circle cx="1234.6" cy="965.9" r="4"/><circle cx="1235.9" cy="965.2" r="4"/><circle cx="1204.1" cy="966.6" r="4"/><circle cx="1236.0" cy="964.8" r="4"/><circle cx="1222.1" cy="965.5" r="4"/><circle cx="1235.1" cy="966.2" r="4"/><circle cx="1182.9" cy="965.4" r="4"/><circle cx="1201.6" cy="966.5" r="4"/><circle cx="1190.3" cy="966.5" r="4"/><circle cx="1212.4" cy="963.6" r="4"/><circle cx="1193.5" cy="966.6" r="4"/><circle cx="1199.4" cy="964.5" r="4"/><circle cx="1181.7" cy="965.7" r="4"/><circle cx="1222.1" cy="966.3" r="4"/><circle cx="1226.7" cy="964.2" r="4"/><circle cx="1186.3" cy="963.4" r="4"/><circle cx="1188.6" cy="964.8" r="4"/><circle cx="1207.4" cy="966.0" r="4"/><circle cx="1186.5" cy="964.1" r="4"/><circle cx="1232.8" cy="965.2" r="4"/><circle cx="1226.7" cy="964.9" r="4"/><circle cx="1232.0" cy="963.6" r="4"/><circle cx="1207.6" cy="963.4" r="4"/><circle cx="1224.5" cy="964.8" r="4"/><circle cx="1232.7" cy="966.4" r="4"/><circle cx="1186.5" cy="963.3" r="4"/><circle cx="1192.7" cy="963.9" r="4"/><circle cx="1197.6" cy="963.4" r="4"/><circle cx="1196.6" cy="966.9" r="4"/><circle cx="1224.9" cy="963.9" r="4"/><circle cx="1220.6" cy="966.6" r="4"/><circle cx="1194.4" cy="963.8" r="4"/><circle cx="1186.5" cy="966.2" r="4"/><circle cx="1182.9" cy="967.1" r="4"/><circle cx="1229.9" cy="966.1" r="4"/><circle cx="1235.3" cy="964.0" r="4"/><circle cx="1209.5" cy="964.1" r="4"/><circle cx="1227.0" cy="964.6" r="4"/><circle cx="1214.0" cy="966.9" r="4"/><circle cx="1206.8" cy="965.4" r="4"/><circle cx="1198.3" cy="964.0" r="4"/><circle cx="1192.9" cy="966.3" r="4"/><circle cx="1192.2" cy="965.0" r="4"/><circle cx="1209.2" cy="963.5" r="4"/><circle cx="1214.0" cy="965.8" r="4"/><circle cx="1183.3" cy="966.8" r="4"/><circle cx="1220.7" cy="966.2" r="4"/><circle cx="1189.5" cy="967.0" r="4"/><circle cx="1200.7" cy="964.5" r="4"/><circle cx="1188.4" cy="963.3" r="4"/><circle cx="1207.6" cy="965.0" r="4"/><circle cx="1187.8" cy="965.7" r="4"/><circle cx="1227.9" cy="963.9" r="4"/><circle cx="1235.0" cy="966.2" r="4"/><circle cx="1194.2" cy="964.7" r="4"/><circle cx="1226.7" cy="965.4" r="4"/><circle cx="1228.1" cy="965.3" r="4"/><circle cx="1220.5" cy="964.5" r="4"/><circle cx="1200.1" cy="964.2" r="4"/><circle cx="1221.1" cy="965.5" r="4"/><circle cx="1183.9" cy="963.8" r="4"/><circle cx="1222.5" cy="964.3" r="4"/><circle cx="1222.0" cy="965.2" r="4"/><circle cx="1191.8" cy="963.9" r="4"/><circle cx="1198.3" cy="964.9" r="4"/><circle cx="1207.4" cy="965.2" r="4"/><circle cx="1205.5" cy="963.9" r="4"/><circle cx="1204.7" cy="964.8" r="4"/><circle cx="1194.2" cy="965.6" r="4"/><circle cx="1216.9" cy="967.1" r="4"/><circle cx="1228.9" cy="963.3" r="4"/><circle cx="1231.5" cy="966.0" r="4"/><circle cx="1232.8" cy="966.1" r="4"/><circle cx="1233.0" cy="964.4" r="4"/><circle cx="1204.3" cy="963.3" r="4"/><circle cx="1215.5" cy="967.2" r="4"/><circle cx="1148.7" cy="964.4" r="4"/><circle cx="1140.9" cy="965.0" r="4"/><circle cx="1145.1" cy="964.2" r="4"/><circle cx="1163.6" cy="965.5" r="4"/><circle cx="1147.3" cy="965.5" r="4"/><circle cx="1173.5" cy="964.5" r="4"/><circle cx="1166.3" cy="963.8" r="4"/><circle cx="1175.0" cy="965.7" r="4"/><circle cx="1173.9" cy="964.3" r="4"/><circle cx="1179.2" cy="965.5" r="4"/><circle cx="1153.1" cy="963.3" r="4"/><circle cx="1139.1" cy="966.6" r="4"/><circle cx="1147.7" cy="965.9" r="4"/><circle cx="1149.7" cy="963.1" r="4"/><circle cx="1168.3" cy="963.9" r="4"/><circle cx="1179.1" cy="965.3" r="4"/><circle cx="1154.6" cy="964.3" r="4"/><circle cx="1147.8" cy="963.8" r="4"/><circle cx="1167.9" cy="963.4" r="4"/><circle cx="1169.9" cy="966.1" r="4"/><circle cx="1158.9" cy="965.7" r="4"/><circle cx="1142.7" cy="965.4" r="4"/><circle cx="1164.5" cy="966.5" r="4"/><circle cx="1176.6" cy="964.5" r="4"/><circle cx="1141.9" cy="965.5" r="4"/><circle cx="1164.8" cy="966.0" r="4"/><circle cx="1147.4" cy="965.6" r="4"/><circle cx="1168.5" cy="965.4" r="4"/><circle cx="1151.8" cy="966.0" r="4"/><circle cx="1157.9" cy="966.3" r="4"/><circle cx="1149.0" cy="963.8" r="4"/><circle cx="1155.1" cy="963.7" r="4"/><circle cx="1153.5" cy="964.2" r="4"/><circle cx="1137.1" cy="964.2" r="4"/><circle cx="1146.0" cy="966.0" r="4"/><circle cx="1163.9" cy="965.1" r="4"/><circle cx="1170.0" cy="964.4" r="4"/><circle cx="1161.1" cy="965.6" r="4"/><circle cx="1158.1" cy="963.6" r="4"/><circle cx="1152.1" cy="964.9" r="4"/><circle cx="1157.4" cy="964.6" r="4"/><circle cx="1142.7" cy="965.4" r="4"/><circle cx="1151.6" cy="964.8" r="4"/><circle cx="1162.7" cy="964.5" r="4"/><circle cx="1150.8" cy="964.6" r="4"/><circle cx="1177.0" cy="963.8" r="4"/><circle cx="1177.7" cy="963.2" r="4"/><circle cx="1164.6" cy="964.4" r="4"/><circle cx="1160.4" cy="963.7" r="4"/><circle cx="1170.0" cy="964.6" r="4"/><circle cx="1167.5" cy="963.9" r="4"/><circle cx="1158.9" cy="965.7" r="4"/><circle cx="1177.4" cy="963.0" r="4"/><circle cx="1160.7" cy="966.2" r="4"/><circle cx="1152.8" cy="964.3" r="4"/><circle cx="1387.2" cy="965.9" r="4"/><circle cx="1372.5" cy="966.6" r="4"/><circle cx="1306.7" cy="964.0" r="4"/><circle cx="1369.1" cy="964.8" r="4"/><circle cx="1379.9" cy="963.5" r="4"/><circle cx="1383.7" cy="965.7" r="4"/><circle cx="1334.3" cy="966.5" r="4"/><circle cx="1345.2" cy="965.0" r="4"/><circle cx="1316.2" cy="966.3" r="4"/><circle cx="1313.5" cy="964.4" r="4"/><circle cx="1309.6" cy="963.3" r="4"/><circle cx="1324.8" cy="963.4" r="4"/><circle cx="1339.3" cy="964.6" r="4"/><circle cx="1305.7" cy="965.1" r="4"/><circle cx="1324.0" cy="964.1" r="4"/><circle cx="1345.7" cy="964.5" r="4"/><circle cx="1307.6" cy="966.9" r="4"/><circle cx="1387.1" cy="964.1" r="4"/><circle cx="1356.6" cy="965.5" r="4"/><circle cx="1321.0" cy="965.4" r="4"/><circle cx="1322.3" cy="964.3" r="4"/><circle cx="1337.9" cy="963.4" r="4"/><circle cx="1319.6" cy="967.1" r="4"/><circle cx="1367.1" cy="964.5" r="4"/><circle cx="1389.7" cy="964.5" r="4"/><circle cx="1375.1" cy="964.5" r="4"/><circle cx="1379.3" cy="965.0" r="4"/><circle cx="1377.1" cy="963.7" r="4"/><circle cx="1332.8" cy="964.6" r="4"/><circle cx="1368.3" cy="966.7" r="4"/><circle cx="1312.7" cy="964.8" r="4"/><circle cx="1315.3" cy="963.5" r="4"/><circle cx="1312.4" cy="963.5" r="4"/><circle cx="1325.2" cy="964.9" r="4"/><circle cx="1380.4" cy="965.8" r="4"/><circle cx="1366.2" cy="964.5" r="4"/><circle cx="1326.8" cy="964.8" r="4"/><circle cx="1319.8" cy="963.3" r="4"/><circle cx="1323.1" cy="966.9" r="4"/><circle cx="1307.4" cy="965.2" r="4"/><circle cx="1319.7" cy="966.3" r="4"/><circle cx="1306.7" cy="965.2" r="4"/><circle cx="1362.8" cy="965.0" r="4"/><circle cx="1313.3" cy="966.8" r="4"/><circle cx="1305.7" cy="966.9" r="4"/><circle cx="1371.8" cy="966.7" r="4"/><circle cx="1376.5" cy="964.7" r="4"/><circle cx="1353.5" cy="965.1" r="4"/><circle cx="1349.7" cy="964.7" r="4"/><circle cx="1375.4" cy="964.4" r="4"/><circle cx="1347.5" cy="963.5" r="4"/><circle cx="1307.8" cy="966.7" r="4"/><circle cx="1329.7" cy="964.7" r="4"/><circle cx="1388.5" cy="966.1" r="4"/><circle cx="1314.1" cy="965.4" r="4"/><circle cx="1340.5" cy="965.6" r="4"/><circle cx="1322.9" cy="964.3" r="4"/><circle cx="1384.4" cy="965.6" r="4"/><circle cx="1346.6" cy="966.0" r="4"/><circle cx="1365.4" cy="963.9" r="4"/><circle cx="1368.4" cy="965.1" r="4"/><circle cx="1313.8" cy="964.5" r="4"/><circle cx="1389.1" cy="966.6" r="4"/><circle cx="1380.2" cy="965.2" r="4"/><circle cx="1354.4" cy="964.8" r="4"/><circle cx="1363.7" cy="965.3" r="4"/><circle cx="1329.7" cy="967.1" r="4"/><circle cx="1342.1" cy="963.4" r="4"/><circle cx="1371.4" cy="963.6" r="4"/><circle cx="1323.4" cy="965.0" r="4"/><circle cx="1318.2" cy="965.0" r="4"/><circle cx="1336.7" cy="965.3" r="4"/><circle cx="1355.9" cy="965.9" r="4"/><circle cx="1307.4" cy="964.1" r="4"/><circle cx="1311.5" cy="964.5" r="4"/><circle cx="1338.2" cy="966.6" r="4"/><circle cx="1305.5" cy="966.4" r="4"/><circle cx="1314.1" cy="966.2" r="4"/><circle cx="1374.8" cy="967.1" r="4"/><circle cx="1348.8" cy="963.4" r="4"/><circle cx="1324.0" cy="964.9" r="4"/><circle cx="1358.0" cy="967.1" r="4"/><circle cx="1377.6" cy="963.5" r="4"/><circle cx="1312.3" cy="965.8" r="4"/><circle cx="1317.9" cy="965.5" r="4"/><circle cx="1342.8" cy="965.4" r="4"/><circle cx="1329.0" cy="966.8" r="4"/><circle cx="1324.5" cy="964.6" r="4"/><circle cx="1314.5" cy="964.4" r="4"/><circle cx="1312.5" cy="965.8" r="4"/><circle cx="1305.8" cy="964.2" r="4"/><circle cx="1370.8" cy="966.6" r="4"/><circle cx="1328.3" cy="966.1" r="4"/><circle cx="1371.0" cy="965.8" r="4"/><circle cx="1353.0" cy="966.2" r="4"/><circle cx="1326.6" cy="964.5" r="4"/><circle cx="1321.6" cy="964.1" r="4"/><circle cx="1343.2" cy="965.4" r="4"/><circle cx="1316.6" cy="963.5" r="4"/><circle cx="1306.0" cy="964.1" r="4"/><circle cx="1314.2" cy="965.7" r="4"/><circle cx="1371.2" cy="965.3" r="4"/><circle cx="1355.1" cy="964.9" r="4"/><circle cx="1308.8" cy="966.2" r="4"/><circle cx="1366.7" cy="963.8" r="4"/><circle cx="1325.9" cy="965.9" r="4"/><circle cx="1360.9" cy="963.9" r="4"/><circle cx="1332.2" cy="964.7" r="4"/><circle cx="1346.1" cy="966.5" r="4"/><circle cx="1313.5" cy="964.7" r="4"/><circle cx="1382.2" cy="963.9" r="4"/><circle cx="1315.6" cy="966.3" r="4"/><circle cx="1353.3" cy="965.1" r="4"/><circle cx="1338.3" cy="963.4" r="4"/><circle cx="1354.8" cy="964.3" r="4"/><circle cx="1336.9" cy="966.9" r="4"/><circle cx="1341.6" cy="964.8" r="4"/><circle cx="1329.3" cy="964.3" r="4"/><circle cx="1352.7" cy="966.1" r="4"/><circle cx="1311.4" cy="963.2" r="4"/><circle cx="1332.9" cy="963.9" r="4"/><circle cx="1350.9" cy="963.8" r="4"/><circle cx="1342.4" cy="965.1" r="4"/><circle cx="1387.3" cy="964.5" r="4"/><circle cx="1322.0" cy="964.6" r="4"/><circle cx="1356.6" cy="964.2" r="4"/><circle cx="1320.5" cy="966.0" r="4"/><circle cx="1344.6" cy="963.5" r="4"/><circle cx="1374.6" cy="963.7" r="4"/><circle cx="1324.7" cy="965.4" r="4"/><circle cx="1338.2" cy="966.3" r="4"/><circle cx="1313.6" cy="965.8" r="4"/><circle cx="1315.8" cy="963.7" r="4"/><circle cx="1360.3" cy="966.3" r="4"/><circle cx="1310.9" cy="963.3" r="4"/><circle cx="1317.4" cy="965.5" r="4"/><circle cx="1306.3" cy="967.0" r="4"/><circle cx="1305.7" cy="966.2" r="4"/><circle cx="1370.5" cy="964.7" r="4"/><circle cx="1371.5" cy="963.9" r="4"/><circle cx="1367.6" cy="965.5" r="4"/><circle cx="1375.1" cy="966.4" r="4"/><circle cx="1368.8" cy="966.7" r="4"/><circle cx="1321.4" cy="963.3" r="4"/><circle cx="1315.2" cy="966.2" r="4"/><circle cx="1343.6" cy="965.2" r="4"/><circle cx="1339.6" cy="963.3" r="4"/><circle cx="1382.5" cy="965.5" r="4"/><circle cx="1349.7" cy="965.2" r="4"/><circle cx="1378.4" cy="965.1" r="4"/><circle cx="1345.5" cy="966.4" r="4"/><circle cx="1313.6" cy="966.5" r="4"/><circle cx="1353.3" cy="964.5" r="4"/><circle cx="1313.6" cy="965.3" r="4"/><circle cx="1324.5" cy="963.2" r="4"/><circle cx="1372.4" cy="966.2" r="4"/><circle cx="1379.9" cy="966.3" r="4"/><circle cx="1333.8" cy="966.9" r="4"/><circle cx="1320.4" cy="964.2" r="4"/><circle cx="1339.2" cy="965.9" r="4"/><circle cx="1310.3" cy="963.4" r="4"/><circle cx="1383.1" cy="963.3" r="4"/><circle cx="1364.5" cy="965.1" r="4"/><circle cx="1385.9" cy="966.6" r="4"/><circle cx="1338.8" cy="965.4" r="4"/><circle cx="1360.1" cy="964.2" r="4"/><circle cx="1305.8" cy="967.2" r="4"/><circle cx="1345.9" cy="966.4" r="4"/><circle cx="1345.4" cy="963.5" r="4"/><circle cx="1310.5" cy="964.1" r="4"/><circle cx="1386.5" cy="966.5" r="4"/><circle cx="1324.5" cy="965.0" r="4"/><circle cx="1386.8" cy="965.2" r="4"/><circle cx="1326.4" cy="965.3" r="4"/><circle cx="1315.0" cy="965.5" r="4"/><circle cx="1308.6" cy="965.3" r="4"/><circle cx="1311.1" cy="963.4" r="4"/><circle cx="1365.7" cy="965.2" r="4"/><circle cx="1314.4" cy="964.8" r="4"/><circle cx="1378.7" cy="964.6" r="4"/><circle cx="1322.9" cy="965.1" r="4"/><circle cx="1379.4" cy="965.7" r="4"/><circle cx="1339.7" cy="965.7" r="4"/><circle cx="1329.3" cy="966.9" r="4"/><circle cx="1322.8" cy="964.1" r="4"/><circle cx="1340.9" cy="966.4" r="4"/><circle cx="1367.3" cy="965.8" r="4"/><circle cx="1305.1" cy="966.4" r="4"/><circle cx="1381.1" cy="963.7" r="4"/><circle cx="1317.1" cy="964.1" r="4"/><circle cx="1312.4" cy="963.8" r="4"/><circle cx="1342.2" cy="966.0" r="4"/><circle cx="1338.9" cy="965.4" r="4"/><circle cx="1359.2" cy="966.5" r="4"/><circle cx="1387.2" cy="966.0" r="4"/><circle cx="1341.7" cy="963.4" r="4"/><circle cx="1324.6" cy="964.0" r="4"/><circle cx="1385.9" cy="966.1" r="4"/><circle cx="1312.2" cy="964.6" r="4"/><circle cx="1335.2" cy="965.7" r="4"/><circle cx="1387.4" cy="964.5" r="4"/><circle cx="1360.3" cy="964.9" r="4"/><circle cx="1380.3" cy="965.2" r="4"/><circle cx="1366.8" cy="965.5" r="4"/><circle cx="1362.3" cy="966.2" r="4"/><circle cx="1332.5" cy="965.0" r="4"/><circle cx="1352.9" cy="966.1" r="4"/><circle cx="1350.4" cy="964.6" r="4"/><circle cx="1341.0" cy="965.2" r="4"/><circle cx="1331.7" cy="964.5" r="4"/><circle cx="1308.2" cy="963.5" r="4"/><circle cx="1314.1" cy="963.5" r="4"/><circle cx="1331.0" cy="967.1" r="4"/><circle cx="1333.4" cy="966.8" r="4"/><circle cx="1359.3" cy="966.9" r="4"/><circle cx="1355.8" cy="967.0" r="4"/><circle cx="1370.5" cy="963.5" r="4"/><circle cx="1305.1" cy="967.0" r="4"/><circle cx="1328.4" cy="965.8" r="4"/><circle cx="1385.3" cy="967.1" r="4"/><circle cx="1344.2" cy="964.5" r="4"/><circle cx="1350.2" cy="966.0" r="4"/><circle cx="1310.0" cy="966.4" r="4"/><circle cx="1305.1" cy="964.8" r="4"/><circle cx="1374.3" cy="966.7" r="4"/><circle cx="1376.1" cy="966.7" r="4"/><circle cx="1338.0" cy="964.9" r="4"/><circle cx="1340.1" cy="965.3" r="4"/><circle cx="1318.6" cy="964.7" r="4"/><circle cx="1340.2" cy="963.3" r="4"/><circle cx="1348.5" cy="963.5" r="4"/><circle cx="1347.3" cy="963.4" r="4"/><circle cx="1316.2" cy="965.0" r="4"/><circle cx="1366.1" cy="967.2" r="4"/><circle cx="1366.7" cy="966.5" r="4"/><circle cx="1336.3" cy="965.3" r="4"/><circle cx="1346.2" cy="967.1" r="4"/><circle cx="1374.8" cy="963.3" r="4"/><circle cx="1359.5" cy="966.1" r="4"/><circle cx="1379.0" cy="966.9" r="4"/><circle cx="1333.0" cy="964.9" r="4"/><circle cx="1320.0" cy="964.0" r="4"/><circle cx="1377.7" cy="966.2" r="4"/><circle cx="1373.0" cy="964.5" r="4"/><circle cx="1366.5" cy="963.3" r="4"/><circle cx="1341.8" cy="964.4" r="4"/><circle cx="1325.1" cy="967.2" r="4"/><circle cx="1305.1" cy="967.0" r="4"/><circle cx="1357.4" cy="967.2" r="4"/><circle cx="1333.8" cy="966.8" r="4"/><circle cx="1346.6" cy="965.5" r="4"/><circle cx="1353.6" cy="964.2" r="4"/><circle cx="1351.5" cy="963.9" r="4"/><circle cx="1306.4" cy="966.1" r="4"/><circle cx="1306.1" cy="966.9" r="4"/><circle cx="1319.3" cy="966.8" r="4"/><circle cx="1325.6" cy="966.1" r="4"/><circle cx="1328.2" cy="966.0" r="4"/><circle cx="1315.9" cy="964.1" r="4"/><circle cx="1322.4" cy="967.1" r="4"/><circle cx="1380.1" cy="964.7" r="4"/><circle cx="1385.7" cy="966.9" r="4"/><circle cx="1313.2" cy="965.7" r="4"/><circle cx="1318.2" cy="964.6" r="4"/><circle cx="1325.4" cy="964.1" r="4"/><circle cx="1349.8" cy="964.1" r="4"/><circle cx="1327.6" cy="963.8" r="4"/><circle cx="1322.5" cy="966.3" r="4"/><circle cx="1324.0" cy="967.1" r="4"/><circle cx="1311.1" cy="963.3" r="4"/><circle cx="1393.2" cy="964.9" r="4"/><circle cx="1396.5" cy="964.4" r="4"/><circle cx="1419.6" cy="965.4" r="4"/><circle cx="1392.8" cy="966.2" r="4"/><circle cx="1399.1" cy="965.1" r="4"/><circle cx="1399.1" cy="965.7" r="4"/><circle cx="1410.6" cy="964.8" r="4"/><circle cx="1389.1" cy="963.3" r="4"/><circle cx="1393.8" cy="966.1" r="4"/><circle cx="1429.0" cy="964.5" r="4"/><circle cx="1383.8" cy="963.7" r="4"/><circle cx="1429.6" cy="963.5" r="4"/><circle cx="1402.1" cy="963.3" r="4"/><circle cx="1406.3" cy="964.2" r="4"/><circle cx="1432.1" cy="966.5" r="4"/><circle cx="1406.7" cy="966.0" r="4"/><circle cx="1415.7" cy="964.7" r="4"/><circle cx="1420.8" cy="963.1" r="4"/><circle cx="1388.9" cy="966.0" r="4"/><circle cx="1407.4" cy="965.5" r="4"/><circle cx="1412.1" cy="966.0" r="4"/><circle cx="1393.3" cy="963.6" r="4"/><circle cx="1395.3" cy="966.1" r="4"/><circle cx="1406.7" cy="965.7" r="4"/><circle cx="1420.9" cy="964.2" r="4"/><circle cx="1419.1" cy="965.8" r="4"/><circle cx="1407.0" cy="964.9" r="4"/><circle cx="1405.0" cy="964.6" r="4"/><circle cx="1391.2" cy="965.1" r="4"/><circle cx="1425.4" cy="963.9" r="4"/><circle cx="1402.1" cy="964.3" r="4"/><circle cx="1395.7" cy="966.3" r="4"/><circle cx="1418.6" cy="963.3" r="4"/><circle cx="1407.4" cy="964.3" r="4"/><circle cx="1399.4" cy="963.4" r="4"/><circle cx="1411.9" cy="964.3" r="4"/><circle cx="1415.9" cy="963.4" r="4"/><circle cx="1407.4" cy="964.6" r="4"/><circle cx="1413.9" cy="963.2" r="4"/><circle cx="1421.7" cy="964.9" r="4"/><circle cx="1393.3" cy="963.6" r="4"/><circle cx="1423.1" cy="963.0" r="4"/><circle cx="1411.1" cy="964.1" r="4"/><circle cx="1398.2" cy="966.5" r="4"/><circle cx="1387.3" cy="963.7" r="4"/><circle cx="1380.6" cy="964.3" r="4"/><circle cx="1384.0" cy="963.2" r="4"/><circle cx="1416.2" cy="966.4" r="4"/><circle cx="1388.9" cy="965.2" r="4"/><circle cx="1431.1" cy="963.6" r="4"/><circle cx="1388.2" cy="964.8" r="4"/><circle cx="1382.8" cy="965.1" r="4"/><circle cx="1424.2" cy="966.2" r="4"/><circle cx="1386.0" cy="965.0" r="4"/><circle cx="1406.7" cy="964.6" r="4"/><circle cx="1389.7" cy="965.2" r="4"/><circle cx="1388.1" cy="965.5" r="4"/><circle cx="1384.7" cy="963.0" r="4"/><circle cx="1425.3" cy="964.2" r="4"/><circle cx="1401.7" cy="964.8" r="4"/><circle cx="1405.4" cy="963.1" r="4"/><circle cx="1423.4" cy="966.5" r="4"/><circle cx="1396.1" cy="964.0" r="4"/><circle cx="1394.7" cy="965.4" r="4"/><circle cx="1407.9" cy="965.0" r="4"/><circle cx="1412.4" cy="963.9" r="4"/><circle cx="1407.6" cy="964.9" r="4"/><circle cx="1413.2" cy="965.3" r="4"/><circle cx="1432.0" cy="963.5" r="4"/><circle cx="1407.1" cy="965.1" r="4"/><circle cx="1462.0" cy="963.8" r="4"/><circle cx="1472.4" cy="963.0" r="4"/><circle cx="1137.4" cy="966.5" r="4"/><circle cx="1143.3" cy="965.7" r="4"/></g>
<g fill="#5462C0" fill-opacity="0.5"><circle cx="1243.5" cy="957.4" r="4"/><circle cx="1245.4" cy="954.7" r="4"/><circle cx="1240.7" cy="920.3" r="4"/><circle cx="1241.1" cy="942.5" r="4"/><circle cx="1249.4" cy="946.2" r="4"/><circle cx="1240.1" cy="896.9" r="4"/><circle cx="1241.0" cy="950.3" r="4"/><circle cx="1241.9" cy="897.6" r="4"/><circle cx="1244.6" cy="959.3" r="4"/><circle cx="1241.5" cy="946.8" r="4"/><circle cx="1245.0" cy="924.4" r="4"/><circle cx="1249.7" cy="948.7" r="4"/><circle cx="1240.9" cy="930.0" r="4"/><circle cx="1239.9" cy="922.3" r="4"/><circle cx="1245.1" cy="945.9" r="4"/><circle cx="1240.3" cy="956.8" r="4"/><circle cx="1248.2" cy="948.1" r="4"/><circle cx="1244.7" cy="956.2" r="4"/><circle cx="1240.5" cy="929.9" r="4"/><circle cx="1248.4" cy="948.4" r="4"/><circle cx="1241.8" cy="909.8" r="4"/><circle cx="1239.1" cy="928.3" r="4"/><circle cx="1243.2" cy="955.1" r="4"/><circle cx="1244.6" cy="959.2" r="4"/><circle cx="1244.3" cy="929.6" r="4"/><circle cx="1243.1" cy="930.1" r="4"/><circle cx="1240.0" cy="903.7" r="4"/><circle cx="1241.7" cy="952.5" r="4"/><circle cx="1248.9" cy="952.5" r="4"/><circle cx="1248.1" cy="942.9" r="4"/><circle cx="1242.7" cy="940.7" r="4"/><circle cx="1239.3" cy="929.3" r="4"/><circle cx="1242.4" cy="941.2" r="4"/><circle cx="1242.9" cy="940.9" r="4"/><circle cx="1243.7" cy="924.5" r="4"/><circle cx="1245.5" cy="959.5" r="4"/><circle cx="1242.9" cy="945.8" r="4"/><circle cx="1248.8" cy="956.8" r="4"/><circle cx="1242.1" cy="957.0" r="4"/><circle cx="1249.2" cy="951.0" r="4"/><circle cx="1240.5" cy="941.2" r="4"/><circle cx="1242.7" cy="955.9" r="4"/><circle cx="1239.0" cy="905.8" r="4"/><circle cx="1247.5" cy="954.8" r="4"/><circle cx="1246.3" cy="958.9" r="4"/><circle cx="1240.9" cy="903.5" r="4"/><circle cx="1242.8" cy="921.0" r="4"/><circle cx="1242.1" cy="897.6" r="4"/><circle cx="1245.0" cy="931.6" r="4"/><circle cx="1244.4" cy="920.0" r="4"/><circle cx="1245.8" cy="946.3" r="4"/><circle cx="1247.9" cy="945.8" r="4"/><circle cx="1240.5" cy="906.2" r="4"/><circle cx="1247.8" cy="936.1" r="4"/><circle cx="1240.3" cy="916.7" r="4"/><circle cx="1239.8" cy="941.2" r="4"/><circle cx="1248.4" cy="953.7" r="4"/><circle cx="1246.5" cy="957.0" r="4"/><circle cx="1244.3" cy="913.7" r="4"/><circle cx="1239.6" cy="945.0" r="4"/><circle cx="1245.8" cy="945.4" r="4"/><circle cx="1243.8" cy="913.5" r="4"/><circle cx="1244.4" cy="959.2" r="4"/><circle cx="1240.7" cy="917.2" r="4"/><circle cx="1243.5" cy="907.2" r="4"/><circle cx="1245.8" cy="950.9" r="4"/><circle cx="1247.4" cy="959.3" r="4"/><circle cx="1240.3" cy="887.4" r="4"/><circle cx="1249.4" cy="951.1" r="4"/><circle cx="1246.0" cy="959.5" r="4"/><circle cx="1244.1" cy="959.2" r="4"/><circle cx="1240.4" cy="953.7" r="4"/><circle cx="1241.7" cy="898.3" r="4"/><circle cx="1240.5" cy="936.8" r="4"/><circle cx="1241.1" cy="938.8" r="4"/><circle cx="1245.0" cy="935.6" r="4"/><circle cx="1239.4" cy="888.6" r="4"/><circle cx="1241.2" cy="953.8" r="4"/><circle cx="1240.5" cy="888.7" r="4"/><circle cx="1243.7" cy="949.7" r="4"/><circle cx="1241.6" cy="905.9" r="4"/><circle cx="1242.4" cy="932.1" r="4"/><circle cx="1239.0" cy="931.5" r="4"/><circle cx="1249.2" cy="957.1" r="4"/><circle cx="1240.3" cy="891.8" r="4"/><circle cx="1242.2" cy="925.0" r="4"/><circle cx="1245.4" cy="949.2" r="4"/><circle cx="1243.7" cy="910.9" r="4"/><circle cx="1244.3" cy="954.4" r="4"/><circle cx="1246.6" cy="944.1" r="4"/><circle cx="1242.3" cy="899.0" r="4"/><circle cx="1243.3" cy="923.9" r="4"/><circle cx="1239.7" cy="958.5" r="4"/><circle cx="1246.7" cy="959.5" r="4"/><circle cx="1239.3" cy="933.1" r="4"/><circle cx="1241.2" cy="897.4" r="4"/><circle cx="1240.7" cy="921.8" r="4"/><circle cx="1245.3" cy="952.2" r="4"/><circle cx="1245.1" cy="950.7" r="4"/><circle cx="1243.4" cy="925.5" r="4"/><circle cx="1250.2" cy="951.1" r="4"/><circle cx="1245.6" cy="954.3" r="4"/><circle cx="1239.4" cy="947.9" r="4"/><circle cx="1246.2" cy="949.6" r="4"/><circle cx="1240.4" cy="899.4" r="4"/><circle cx="1246.7" cy="957.5" r="4"/><circle cx="1245.4" cy="959.3" r="4"/><circle cx="1247.6" cy="958.4" r="4"/><circle cx="1243.3" cy="913.6" r="4"/><circle cx="1247.7" cy="950.2" r="4"/><circle cx="1301.8" cy="940.9" r="4"/><circle cx="1302.6" cy="924.2" r="4"/><circle cx="1302.6" cy="895.9" r="4"/><circle cx="1295.4" cy="959.5" r="4"/><circle cx="1303.5" cy="945.1" r="4"/><circle cx="1298.1" cy="943.7" r="4"/><circle cx="1302.0" cy="959.5" r="4"/><circle cx="1302.6" cy="918.1" r="4"/><circle cx="1302.6" cy="906.7" r="4"/><circle cx="1301.3" cy="928.8" r="4"/><circle cx="1295.6" cy="959.5" r="4"/><circle cx="1297.6" cy="953.5" r="4"/><circle cx="1300.4" cy="924.9" r="4"/><circle cx="1302.0" cy="957.0" r="4"/><circle cx="1300.2" cy="911.2" r="4"/><circle cx="1297.1" cy="951.5" r="4"/><circle cx="1303.8" cy="894.3" r="4"/><circle cx="1296.6" cy="941.5" r="4"/><circle cx="1299.8" cy="929.4" r="4"/><circle cx="1302.1" cy="915.4" r="4"/><circle cx="1300.3" cy="956.0" r="4"/><circle cx="1299.0" cy="952.5" r="4"/><circle cx="1293.6" cy="958.5" r="4"/><circle cx="1298.7" cy="930.1" r="4"/><circle cx="1298.4" cy="929.0" r="4"/><circle cx="1301.4" cy="945.4" r="4"/><circle cx="1302.6" cy="956.1" r="4"/><circle cx="1303.1" cy="893.7" r="4"/><circle cx="1299.4" cy="931.1" r="4"/><circle cx="1298.6" cy="946.4" r="4"/><circle cx="1295.4" cy="959.4" r="4"/><circle cx="1303.1" cy="946.6" r="4"/><circle cx="1303.1" cy="896.9" r="4"/><circle cx="1301.0" cy="959.5" r="4"/><circle cx="1298.4" cy="952.3" r="4"/><circle cx="1298.9" cy="959.5" r="4"/><circle cx="1299.2" cy="928.7" r="4"/><circle cx="1296.0" cy="951.4" r="4"/><circle cx="1303.5" cy="958.0" r="4"/><circle cx="1301.9" cy="959.5" r="4"/><circle cx="1302.6" cy="911.8" r="4"/><circle cx="1302.1" cy="901.6" r="4"/><circle cx="1299.4" cy="914.2" r="4"/><circle cx="1299.0" cy="929.7" r="4"/><circle cx="1301.0" cy="913.1" r="4"/><circle cx="1297.0" cy="946.6" r="4"/><circle cx="1294.2" cy="959.0" r="4"/><circle cx="1292.2" cy="959.2" r="4"/><circle cx="1297.4" cy="927.6" r="4"/><circle cx="1300.9" cy="930.7" r="4"/><circle cx="1299.7" cy="941.7" r="4"/><circle cx="1293.7" cy="958.9" r="4"/><circle cx="1301.3" cy="957.5" r="4"/><circle cx="1296.2" cy="951.9" r="4"/><circle cx="1300.8" cy="947.7" r="4"/><circle cx="1301.4" cy="935.4" r="4"/><circle cx="1294.3" cy="957.2" r="4"/><circle cx="1297.1" cy="945.0" r="4"/><circle cx="1291.7" cy="959.4" r="4"/><circle cx="1297.4" cy="957.2" r="4"/><circle cx="1300.0" cy="957.4" r="4"/><circle cx="1301.3" cy="916.7" r="4"/><circle cx="1303.9" cy="891.4" r="4"/><circle cx="1301.0" cy="905.6" r="4"/><circle cx="1293.7" cy="952.1" r="4"/><circle cx="1295.8" cy="954.2" r="4"/><circle cx="1298.1" cy="951.8" r="4"/><circle cx="1297.4" cy="931.6" r="4"/><circle cx="1303.1" cy="952.1" r="4"/><circle cx="1295.4" cy="954.0" r="4"/><circle cx="1298.9" cy="951.4" r="4"/><circle cx="1301.0" cy="929.3" r="4"/><circle cx="1302.7" cy="904.5" r="4"/><circle cx="1295.5" cy="943.0" r="4"/><circle cx="1299.2" cy="959.3" r="4"/><circle cx="1299.3" cy="927.7" r="4"/><circle cx="1299.5" cy="945.8" r="4"/><circle cx="1301.7" cy="901.3" r="4"/><circle cx="1298.9" cy="954.7" r="4"/><circle cx="1302.7" cy="959.5" r="4"/><circle cx="1299.9" cy="950.9" r="4"/><circle cx="1303.1" cy="924.8" r="4"/><circle cx="1295.5" cy="945.1" r="4"/><circle cx="1301.3" cy="958.5" r="4"/><circle cx="1297.6" cy="950.7" r="4"/><circle cx="1303.6" cy="897.0" r="4"/><circle cx="1298.0" cy="944.9" r="4"/><circle cx="1300.0" cy="911.9" r="4"/><circle cx="1303.5" cy="902.4" r="4"/><circle cx="1303.5" cy="951.6" r="4"/><circle cx="1299.0" cy="959.4" r="4"/><circle cx="1297.7" cy="946.1" r="4"/><circle cx="1303.8" cy="896.8" r="4"/><circle cx="1303.1" cy="893.7" r="4"/><circle cx="1295.6" cy="958.2" r="4"/><circle cx="1303.1" cy="958.5" r="4"/><circle cx="1303.0" cy="929.0" r="4"/><circle cx="1300.9" cy="928.4" r="4"/><circle cx="1301.7" cy="928.3" r="4"/><circle cx="1303.2" cy="933.1" r="4"/><circle cx="1301.1" cy="907.2" r="4"/><circle cx="1296.9" cy="950.2" r="4"/><circle cx="1296.2" cy="958.9" r="4"/><circle cx="1292.6" cy="955.5" r="4"/><circle cx="1303.6" cy="958.5" r="4"/><circle cx="1302.0" cy="903.6" r="4"/><circle cx="1303.3" cy="932.4" r="4"/><circle cx="1296.6" cy="945.8" r="4"/><circle cx="1294.1" cy="959.1" r="4"/><circle cx="1303.0" cy="934.8" r="4"/></g>
<g fill="#E03A28" fill-opacity="0.55"><circle cx="1212.0" cy="668.8" r="4"/><circle cx="1223.8" cy="701.8" r="4"/><circle cx="1187.5" cy="710.0" r="4"/><circle cx="1337.0" cy="640.0" r="4"/><circle cx="1312.0" cy="648.2" r="4"/><circle cx="1368.2" cy="643.2" r="4"/><circle cx="1342.5" cy="658.2" r="4"/><circle cx="1364.5" cy="659.5" r="4"/><circle cx="1366.2" cy="666.2" r="4"/><circle cx="1368.8" cy="669.2" r="4"/><circle cx="1437.5" cy="673.8" r="4"/><circle cx="1328.8" cy="673.8" r="4"/><circle cx="1333.0" cy="673.0" r="4"/><circle cx="1331.2" cy="677.5" r="4"/><circle cx="1353.8" cy="675.8" r="4"/><circle cx="1313.8" cy="678.8" r="4"/><circle cx="1320.8" cy="692.5" r="4"/><circle cx="1339.2" cy="698.2" r="4"/><circle cx="1320.8" cy="701.2" r="4"/><circle cx="1382.5" cy="700.5" r="4"/><circle cx="1354.5" cy="708.8" r="4"/><circle cx="1365.0" cy="710.5" r="4"/><circle cx="1417.5" cy="708.0" r="4"/><circle cx="1338.8" cy="714.2" r="4"/><circle cx="1349.2" cy="719.5" r="4"/><circle cx="1214.3" cy="718.3" r="4"/><circle cx="1224.0" cy="715.6" r="4"/><circle cx="1206.5" cy="724.2" r="4"/><circle cx="1181.7" cy="730.2" r="4"/><circle cx="1197.3" cy="733.9" r="4"/><circle cx="1211.8" cy="733.9" r="4"/><circle cx="1224.0" cy="735.1" r="4"/><circle cx="1222.2" cy="740.6" r="4"/><circle cx="1199.9" cy="762.9" r="4"/><circle cx="1170.5" cy="769.9" r="4"/><circle cx="1205.8" cy="771.1" r="4"/><circle cx="1206.5" cy="778.5" r="4"/><circle cx="1227.4" cy="781.8" r="4"/><circle cx="1225.1" cy="784.0" r="4"/><circle cx="1192.0" cy="786.7" r="4"/><circle cx="1206.5" cy="785.2" r="4"/><circle cx="1196.1" cy="790.7" r="4"/><circle cx="1176.8" cy="793.0" r="4"/><circle cx="1225.9" cy="790.0" r="4"/><circle cx="1224.4" cy="792.7" r="4"/><circle cx="1210.3" cy="797.4" r="4"/><circle cx="1216.2" cy="798.6" r="4"/><circle cx="1206.5" cy="815.0" r="4"/><circle cx="1211.8" cy="817.2" r="4"/><circle cx="1218.5" cy="818.0" r="4"/><circle cx="1186.9" cy="818.0" r="4"/><circle cx="1227.4" cy="810.5" r="4"/><circle cx="1231.5" cy="812.0" r="4"/><circle cx="1231.1" cy="816.5" r="4"/><circle cx="1227.4" cy="822.4" r="4"/><circle cx="1215.5" cy="822.4" r="4"/><circle cx="1219.9" cy="828.4" r="4"/><circle cx="1224.4" cy="830.6" r="4"/><circle cx="1230.4" cy="829.1" r="4"/><circle cx="1193.9" cy="843.7" r="4"/><circle cx="1214.0" cy="844.8" r="4"/><circle cx="1224.4" cy="844.8" r="4"/><circle cx="1315.2" cy="724.5" r="4"/><circle cx="1325.9" cy="724.5" r="4"/><circle cx="1327.1" cy="730.2" r="4"/><circle cx="1310.7" cy="742.5" r="4"/><circle cx="1327.1" cy="740.6" r="4"/><circle cx="1335.3" cy="744.3" r="4"/><circle cx="1332.3" cy="751.0" r="4"/><circle cx="1316.7" cy="754.0" r="4"/><circle cx="1324.1" cy="754.0" r="4"/><circle cx="1377.2" cy="751.3" r="4"/><circle cx="1312.5" cy="771.1" r="4"/><circle cx="1320.7" cy="770.4" r="4"/><circle cx="1347.2" cy="770.4" r="4"/><circle cx="1350.9" cy="771.8" r="4"/><circle cx="1356.8" cy="774.8" r="4"/><circle cx="1333.8" cy="779.3" r="4"/><circle cx="1321.9" cy="783.0" r="4"/><circle cx="1382.1" cy="783.8" r="4"/><circle cx="1314.1" cy="790.4" r="4"/><circle cx="1311.5" cy="793.7" r="4"/><circle cx="1324.1" cy="792.7" r="4"/><circle cx="1330.1" cy="792.7" r="4"/><circle cx="1335.3" cy="794.2" r="4"/><circle cx="1317.9" cy="797.1" r="4"/><circle cx="1388.5" cy="796.4" r="4"/><circle cx="1345.2" cy="803.8" r="4"/><circle cx="1380.4" cy="801.9" r="4"/><circle cx="1379.9" cy="807.6" r="4"/><circle cx="1331.8" cy="805.8" r="4"/><circle cx="1336.8" cy="807.6" r="4"/><circle cx="1323.4" cy="809.8" r="4"/><circle cx="1318.2" cy="813.5" r="4"/><circle cx="1321.9" cy="813.5" r="4"/><circle cx="1307.7" cy="818.3" r="4"/><circle cx="1351.6" cy="822.4" r="4"/><circle cx="1344.9" cy="829.9" r="4"/><circle cx="1313.7" cy="823.9" r="4"/><circle cx="1311.5" cy="829.9" r="4"/><circle cx="1337.5" cy="831.4" r="4"/><circle cx="1368.8" cy="830.6" r="4"/><circle cx="1307.7" cy="840.3" r="4"/><circle cx="1313.7" cy="843.3" r="4"/><circle cx="1324.1" cy="841.8" r="4"/><circle cx="1336.0" cy="844.8" r="4"/><circle cx="1347.9" cy="844.8" r="4"/><circle cx="1370.2" cy="840.3" r="4"/><circle cx="1310.7" cy="847.7" r="4"/><circle cx="1391.1" cy="849.2" r="4"/><circle cx="1084.3" cy="950.4" r="4"/><circle cx="1102.9" cy="959.0" r="4"/><circle cx="1138.1" cy="887.9" r="4"/><circle cx="1156.4" cy="860.4" r="4"/><circle cx="1166.4" cy="892.1" r="4"/><circle cx="1172.4" cy="926.6" r="4"/><circle cx="1155.5" cy="933.3" r="4"/><circle cx="1166.4" cy="933.8" r="4"/><circle cx="1179.0" cy="934.2" r="4"/><circle cx="1170.4" cy="940.7" r="4"/><circle cx="1162.4" cy="948.3" r="4"/><circle cx="1154.5" cy="950.9" r="4"/><circle cx="1179.8" cy="945.7" r="4"/><circle cx="1137.4" cy="960.2" r="4"/><circle cx="1145.6" cy="961.3" r="4"/><circle cx="1183.2" cy="854.4" r="4"/><circle cx="1187.7" cy="866.8" r="4"/><circle cx="1182.8" cy="873.0" r="4"/><circle cx="1180.5" cy="908.8" r="4"/><circle cx="1191.7" cy="924.1" r="4"/><circle cx="1199.9" cy="850.4" r="4"/><circle cx="1199.1" cy="857.9" r="4"/><circle cx="1208.8" cy="854.9" r="4"/><circle cx="1196.9" cy="896.5" r="4"/><circle cx="1189.5" cy="911.4" r="4"/><circle cx="1194.7" cy="884.6" r="4"/><circle cx="1188.0" cy="881.7" r="4"/><circle cx="1456.8" cy="852.5" r="4"/><circle cx="1476.8" cy="876.6" r="4"/><circle cx="1481.3" cy="896.3" r="4"/><circle cx="1503.4" cy="905.9" r="4"/><circle cx="1474.0" cy="923.9" r="4"/><circle cx="1425.0" cy="903.0" r="4"/><circle cx="1432.2" cy="908.3" r="4"/><circle cx="1448.8" cy="907.5" r="4"/><circle cx="1410.9" cy="923.1" r="4"/><circle cx="1418.6" cy="920.8" r="4"/><circle cx="1429.5" cy="921.2" r="4"/><circle cx="1444.6" cy="936.9" r="4"/><circle cx="1435.5" cy="941.6" r="4"/><circle cx="1425.5" cy="937.7" r="4"/><circle cx="1419.9" cy="874.6" r="4"/><circle cx="1417.0" cy="881.0" r="4"/><circle cx="1402.5" cy="855.3" r="4"/><circle cx="1408.6" cy="856.1" r="4"/><circle cx="1394.1" cy="862.5" r="4"/><circle cx="1386.1" cy="871.3" r="4"/><circle cx="1376.8" cy="855.3" r="4"/><circle cx="1434.6" cy="958.9" r="4"/><circle cx="1442.7" cy="954.1" r="4"/><circle cx="1450.7" cy="951.7" r="4"/><circle cx="1458.8" cy="949.3" r="4"/><circle cx="1466.8" cy="947.4" r="4"/><circle cx="1471.6" cy="946.1" r="4"/><circle cx="1473.2" cy="942.9" r="4"/><circle cx="1479.6" cy="944.5" r="4"/><circle cx="1486.1" cy="942.9" r="4"/><circle cx="1492.5" cy="941.3" r="4"/><circle cx="1504.6" cy="937.2" r="4"/><circle cx="1508.6" cy="936.4" r="4"/><circle cx="1512.6" cy="935.1" r="4"/><circle cx="1446.7" cy="952.8" r="4"/><circle cx="1454.7" cy="950.6" r="4"/><circle cx="1462.8" cy="948.3" r="4"/><circle cx="1476.4" cy="945.3" r="4"/><circle cx="1482.9" cy="943.8" r="4"/><circle cx="1489.3" cy="941.9" r="4"/><circle cx="1355.9" cy="853.7" r="4"/><circle cx="1359.1" cy="857.7" r="4"/><circle cx="1352.7" cy="862.5" r="4"/><circle cx="1346.3" cy="872.1" r="4"/><circle cx="1355.9" cy="876.2" r="4"/><circle cx="1346.3" cy="883.4" r="4"/><circle cx="1363.9" cy="885.8" r="4"/><circle cx="1354.3" cy="891.4" r="4"/><circle cx="1360.7" cy="896.3" r="4"/><circle cx="1379.2" cy="897.1" r="4"/><circle cx="1344.6" cy="901.9" r="4"/><circle cx="1352.7" cy="905.9" r="4"/><circle cx="1359.1" cy="905.1" r="4"/><circle cx="1383.2" cy="909.1" r="4"/><circle cx="1363.1" cy="912.3" r="4"/><circle cx="1352.7" cy="915.5" r="4"/><circle cx="1341.4" cy="918.8" r="4"/><circle cx="1359.1" cy="920.4" r="4"/><circle cx="1370.4" cy="923.6" r="4"/><circle cx="1380.0" cy="927.6" r="4"/><circle cx="1367.1" cy="933.2" r="4"/><circle cx="1376.8" cy="936.4" r="4"/><circle cx="1384.8" cy="942.9" r="4"/><circle cx="1392.9" cy="938.0" r="4"/><circle cx="1402.5" cy="942.9" r="4"/><circle cx="1396.1" cy="950.9" r="4"/><circle cx="1408.9" cy="950.9" r="4"/><circle cx="1418.6" cy="955.7" r="4"/><circle cx="1425.0" cy="947.7" r="4"/><circle cx="1404.1" cy="955.7" r="4"/><circle cx="1386.4" cy="952.5" r="4"/><circle cx="1373.6" cy="944.5" r="4"/><circle cx="1362.3" cy="942.9" r="4"/><circle cx="1472.5" cy="838.4" r="4"/><circle cx="1351.1" cy="830.8" r="4"/><circle cx="1234.5" cy="788.2" r="4"/><circle cx="1209.2" cy="828.0" r="4"/><circle cx="1217.4" cy="834.0" r="4"/><circle cx="1233.5" cy="839.7" r="4"/><circle cx="1233.5" cy="861.2" r="4"/><circle cx="1229.8" cy="867.6" r="4"/><circle cx="1226.8" cy="877.5" r="4"/><circle cx="1200.3" cy="881.0" r="4"/><circle cx="1221.6" cy="883.9" r="4"/><circle cx="1230.8" cy="889.7" r="4"/><circle cx="1202.6" cy="892.0" r="4"/><circle cx="1213.0" cy="897.9" r="4"/><circle cx="1183.2" cy="899.9" r="4"/><circle cx="1230.5" cy="904.3" r="4"/><circle cx="1209.3" cy="908.5" r="4"/><circle cx="1236.8" cy="911.8" r="4"/><circle cx="1233.5" cy="919.2" r="4"/><circle cx="1196.9" cy="921.7" r="4"/><circle cx="1201.8" cy="928.1" r="4"/><circle cx="1235.0" cy="930.8" r="4"/><circle cx="1216.4" cy="940.3" r="4"/><circle cx="1235.3" cy="947.5" r="4"/><circle cx="1211.5" cy="953.1" r="4"/><circle cx="1237.5" cy="953.4" r="4"/><circle cx="1314.6" cy="831.3" r="4"/><circle cx="1317.3" cy="853.6" r="4"/><circle cx="1315.7" cy="861.6" r="4"/><circle cx="1404.6" cy="860.8" r="4"/><circle cx="1308.7" cy="871.9" r="4"/><circle cx="1315.4" cy="878.8" r="4"/><circle cx="1389.7" cy="878.8" r="4"/><circle cx="1313.5" cy="884.9" r="4"/><circle cx="1307.4" cy="891.7" r="4"/><circle cx="1314.6" cy="900.2" r="4"/><circle cx="1308.7" cy="906.9" r="4"/><circle cx="1330.7" cy="906.9" r="4"/><circle cx="1305.8" cy="912.6" r="4"/><circle cx="1305.0" cy="921.4" r="4"/><circle cx="1307.4" cy="927.3" r="4"/><circle cx="1383.4" cy="926.7" r="4"/><circle cx="1347.1" cy="929.1" r="4"/><circle cx="1426.8" cy="928.6" r="4"/><circle cx="1315.4" cy="933.0" r="4"/><circle cx="1355.3" cy="940.7" r="4"/><circle cx="1304.5" cy="941.5" r="4"/><circle cx="1334.7" cy="948.7" r="4"/><circle cx="1382.6" cy="948.7" r="4"/><circle cx="1307.4" cy="951.1" r="4"/><circle cx="1412.7" cy="952.7" r="4"/><circle cx="1438.4" cy="951.9" r="4"/><circle cx="1225.7" cy="915.3" r="4"/><circle cx="1222.9" cy="887.4" r="4"/><circle cx="1218.6" cy="883.5" r="4"/><circle cx="1231.1" cy="917.5" r="4"/><circle cx="1229.0" cy="867.0" r="4"/><circle cx="1215.9" cy="904.6" r="4"/><circle cx="1234.7" cy="946.0" r="4"/><circle cx="1219.0" cy="888.4" r="4"/><circle cx="1228.0" cy="948.0" r="4"/><circle cx="1222.4" cy="905.6" r="4"/><circle cx="1225.0" cy="881.9" r="4"/><circle cx="1215.9" cy="945.8" r="4"/><circle cx="1229.3" cy="925.5" r="4"/><circle cx="1229.4" cy="949.7" r="4"/><circle cx="1231.9" cy="951.0" r="4"/><circle cx="1233.3" cy="915.6" r="4"/><circle cx="1217.6" cy="946.6" r="4"/><circle cx="1216.1" cy="946.5" r="4"/><circle cx="1227.7" cy="958.4" r="4"/><circle cx="1221.7" cy="949.1" r="4"/><circle cx="1217.4" cy="918.7" r="4"/><circle cx="1214.6" cy="923.6" r="4"/><circle cx="1220.0" cy="955.9" r="4"/><circle cx="1226.9" cy="955.9" r="4"/><circle cx="1230.7" cy="875.9" r="4"/><circle cx="1209.7" cy="955.8" r="4"/><circle cx="1219.7" cy="958.9" r="4"/><circle cx="1219.9" cy="949.0" r="4"/><circle cx="1233.2" cy="884.6" r="4"/><circle cx="1220.8" cy="874.6" r="4"/><circle cx="1231.0" cy="951.3" r="4"/><circle cx="1216.1" cy="927.8" r="4"/><circle cx="1231.8" cy="880.3" r="4"/><circle cx="1222.0" cy="879.9" r="4"/><circle cx="1221.6" cy="957.5" r="4"/><circle cx="1221.3" cy="937.7" r="4"/><circle cx="1233.3" cy="889.7" r="4"/><circle cx="1234.4" cy="954.5" r="4"/><circle cx="1217.9" cy="913.7" r="4"/><circle cx="1217.3" cy="938.8" r="4"/><circle cx="1224.9" cy="879.8" r="4"/><circle cx="1235.7" cy="953.2" r="4"/><circle cx="1216.1" cy="952.4" r="4"/><circle cx="1235.8" cy="885.5" r="4"/><circle cx="1214.0" cy="903.9" r="4"/><circle cx="1211.3" cy="936.3" r="4"/><circle cx="1231.6" cy="888.7" r="4"/><circle cx="1213.9" cy="945.9" r="4"/><circle cx="1235.2" cy="936.8" r="4"/><circle cx="1217.7" cy="958.7" r="4"/><circle cx="1231.9" cy="899.4" r="4"/><circle cx="1228.1" cy="875.8" r="4"/><circle cx="1229.7" cy="940.6" r="4"/><circle cx="1217.7" cy="902.3" r="4"/><circle cx="1234.4" cy="881.2" r="4"/><circle cx="1228.2" cy="904.3" r="4"/><circle cx="1218.5" cy="954.0" r="4"/><circle cx="1233.7" cy="947.3" r="4"/><circle cx="1234.8" cy="869.1" r="4"/><circle cx="1226.3" cy="918.8" r="4"/><circle cx="1210.0" cy="946.9" r="4"/><circle cx="1234.4" cy="955.5" r="4"/><circle cx="1220.9" cy="934.2" r="4"/><circle cx="1218.7" cy="911.4" r="4"/><circle cx="1224.6" cy="910.0" r="4"/><circle cx="1233.6" cy="868.0" r="4"/><circle cx="1227.9" cy="920.4" r="4"/><circle cx="1225.1" cy="868.3" r="4"/><circle cx="1216.5" cy="917.4" r="4"/><circle cx="1221.2" cy="867.3" r="4"/><circle cx="1231.8" cy="957.3" r="4"/><circle cx="1234.6" cy="950.7" r="4"/><circle cx="1210.4" cy="957.5" r="4"/><circle cx="1217.2" cy="926.1" r="4"/><circle cx="1230.6" cy="939.5" r="4"/><circle cx="1234.1" cy="867.7" r="4"/><circle cx="1234.6" cy="880.3" r="4"/><circle cx="1225.0" cy="919.5" r="4"/><circle cx="1221.2" cy="911.0" r="4"/><circle cx="1213.0" cy="950.8" r="4"/><circle cx="1229.3" cy="944.5" r="4"/><circle cx="1230.0" cy="956.4" r="4"/><circle cx="1224.5" cy="909.0" r="4"/><circle cx="1217.7" cy="870.9" r="4"/><circle cx="1228.1" cy="931.1" r="4"/><circle cx="1229.2" cy="917.0" r="4"/><circle cx="1219.4" cy="930.7" r="4"/><circle cx="1211.3" cy="942.7" r="4"/><circle cx="1220.8" cy="878.4" r="4"/><circle cx="1212.5" cy="895.4" r="4"/><circle cx="1225.6" cy="919.4" r="4"/><circle cx="1217.4" cy="902.6" r="4"/><circle cx="1230.5" cy="923.1" r="4"/><circle cx="1220.2" cy="866.4" r="4"/><circle cx="1233.9" cy="899.9" r="4"/><circle cx="1220.4" cy="926.1" r="4"/><circle cx="1229.0" cy="879.6" r="4"/><circle cx="1216.7" cy="953.8" r="4"/><circle cx="1223.5" cy="881.0" r="4"/><circle cx="1228.2" cy="896.1" r="4"/><circle cx="1233.0" cy="934.5" r="4"/><circle cx="1214.9" cy="952.6" r="4"/><circle cx="1222.8" cy="885.4" r="4"/><circle cx="1223.4" cy="912.9" r="4"/><circle cx="1234.0" cy="887.2" r="4"/><circle cx="1232.1" cy="943.4" r="4"/><circle cx="1225.1" cy="867.9" r="4"/><circle cx="1228.8" cy="896.8" r="4"/><circle cx="1218.0" cy="886.0" r="4"/><circle cx="1210.8" cy="927.3" r="4"/><circle cx="1219.2" cy="867.6" r="4"/><circle cx="1211.8" cy="932.4" r="4"/><circle cx="1223.4" cy="869.5" r="4"/><circle cx="1220.1" cy="930.5" r="4"/><circle cx="1233.0" cy="934.5" r="4"/><circle cx="1226.1" cy="935.8" r="4"/><circle cx="1222.6" cy="919.1" r="4"/><circle cx="1221.5" cy="873.8" r="4"/><circle cx="1223.9" cy="922.1" r="4"/><circle cx="1221.3" cy="887.8" r="4"/><circle cx="1226.5" cy="925.2" r="4"/><circle cx="1220.7" cy="893.3" r="4"/><circle cx="1232.3" cy="931.9" r="4"/><circle cx="1235.2" cy="947.5" r="4"/><circle cx="1216.1" cy="895.6" r="4"/><circle cx="1235.3" cy="910.5" r="4"/><circle cx="1230.3" cy="931.2" r="4"/><circle cx="1219.7" cy="953.1" r="4"/><circle cx="1216.8" cy="881.4" r="4"/><circle cx="1230.2" cy="886.0" r="4"/><circle cx="1229.1" cy="894.0" r="4"/><circle cx="1216.4" cy="931.8" r="4"/><circle cx="1219.4" cy="958.5" r="4"/><circle cx="1223.9" cy="934.5" r="4"/><circle cx="1230.8" cy="942.4" r="4"/><circle cx="1225.7" cy="869.8" r="4"/><circle cx="1219.0" cy="943.8" r="4"/><circle cx="1224.8" cy="878.6" r="4"/><circle cx="1216.1" cy="909.0" r="4"/><circle cx="1225.4" cy="878.4" r="4"/><circle cx="1232.3" cy="911.0" r="4"/><circle cx="1210.6" cy="948.5" r="4"/><circle cx="1221.9" cy="941.2" r="4"/><circle cx="1233.1" cy="943.3" r="4"/><circle cx="1225.0" cy="939.1" r="4"/><circle cx="1212.1" cy="940.9" r="4"/><circle cx="1212.5" cy="936.5" r="4"/><circle cx="1214.4" cy="901.7" r="4"/><circle cx="1235.5" cy="920.9" r="4"/><circle cx="1233.9" cy="948.9" r="4"/><circle cx="1234.6" cy="950.7" r="4"/><circle cx="1223.2" cy="941.1" r="4"/><circle cx="1231.3" cy="901.0" r="4"/><circle cx="1217.4" cy="925.9" r="4"/><circle cx="1217.4" cy="952.4" r="4"/><circle cx="1235.6" cy="954.0" r="4"/><circle cx="1223.5" cy="889.7" r="4"/><circle cx="1228.9" cy="907.3" r="4"/><circle cx="1221.0" cy="948.8" r="4"/><circle cx="1210.6" cy="935.4" r="4"/><circle cx="1215.3" cy="887.7" r="4"/><circle cx="1226.2" cy="946.6" r="4"/><circle cx="1232.9" cy="928.9" r="4"/><circle cx="1221.0" cy="919.3" r="4"/><circle cx="1231.5" cy="936.4" r="4"/><circle cx="1229.8" cy="958.0" r="4"/><circle cx="1211.5" cy="918.5" r="4"/><circle cx="1230.1" cy="896.1" r="4"/><circle cx="1230.7" cy="939.1" r="4"/><circle cx="1235.9" cy="879.2" r="4"/><circle cx="1218.6" cy="875.5" r="4"/><circle cx="1221.6" cy="936.3" r="4"/><circle cx="1217.3" cy="952.0" r="4"/><circle cx="1210.2" cy="952.5" r="4"/><circle cx="1220.0" cy="925.7" r="4"/><circle cx="1216.0" cy="869.8" r="4"/><circle cx="1221.8" cy="884.9" r="4"/><circle cx="1222.5" cy="929.3" r="4"/><circle cx="1228.6" cy="891.9" r="4"/><circle cx="1222.2" cy="872.4" r="4"/><circle cx="1232.6" cy="873.8" r="4"/><circle cx="1223.4" cy="917.8" r="4"/><circle cx="1221.6" cy="936.4" r="4"/><circle cx="1227.0" cy="917.5" r="4"/><circle cx="1222.6" cy="939.6" r="4"/><circle cx="1229.7" cy="927.8" r="4"/><circle cx="1223.8" cy="956.5" r="4"/><circle cx="1232.8" cy="900.0" r="4"/><circle cx="1232.9" cy="877.0" r="4"/><circle cx="1234.7" cy="952.5" r="4"/><circle cx="1231.7" cy="886.0" r="4"/><circle cx="1217.4" cy="955.7" r="4"/><circle cx="1226.8" cy="941.4" r="4"/><circle cx="1229.0" cy="910.2" r="4"/><circle cx="1226.5" cy="878.4" r="4"/><circle cx="1220.0" cy="904.3" r="4"/><circle cx="1217.7" cy="912.6" r="4"/><circle cx="1231.7" cy="936.2" r="4"/><circle cx="1215.2" cy="921.8" r="4"/><circle cx="1224.2" cy="919.6" r="4"/><circle cx="1217.0" cy="877.1" r="4"/><circle cx="1220.1" cy="871.3" r="4"/><circle cx="1226.1" cy="899.8" r="4"/><circle cx="1213.6" cy="941.8" r="4"/><circle cx="1212.7" cy="901.9" r="4"/><circle cx="1212.0" cy="941.4" r="4"/><circle cx="1216.5" cy="944.2" r="4"/><circle cx="1215.1" cy="923.4" r="4"/><circle cx="1228.9" cy="906.2" r="4"/><circle cx="1231.6" cy="886.6" r="4"/><circle cx="1221.2" cy="894.1" r="4"/><circle cx="1215.7" cy="892.9" r="4"/><circle cx="1212.8" cy="949.9" r="4"/><circle cx="1217.3" cy="891.9" r="4"/><circle cx="1222.9" cy="869.7" r="4"/><circle cx="1224.5" cy="889.3" r="4"/><circle cx="1224.9" cy="872.0" r="4"/><circle cx="1235.6" cy="914.0" r="4"/><circle cx="1232.9" cy="925.9" r="4"/><circle cx="1221.9" cy="959.1" r="4"/><circle cx="1233.3" cy="955.0" r="4"/><circle cx="1231.2" cy="869.7" r="4"/><circle cx="1217.3" cy="932.8" r="4"/><circle cx="1212.8" cy="957.5" r="4"/><circle cx="1234.2" cy="919.8" r="4"/><circle cx="1227.5" cy="953.1" r="4"/><circle cx="1223.7" cy="901.4" r="4"/><circle cx="1234.2" cy="935.4" r="4"/><circle cx="1230.1" cy="895.3" r="4"/><circle cx="1225.5" cy="921.9" r="4"/><circle cx="1213.1" cy="910.4" r="4"/><circle cx="1215.5" cy="887.3" r="4"/><circle cx="1219.4" cy="938.5" r="4"/><circle cx="1217.9" cy="900.0" r="4"/><circle cx="1212.8" cy="925.3" r="4"/><circle cx="1214.2" cy="919.2" r="4"/><circle cx="1218.2" cy="919.9" r="4"/><circle cx="1230.0" cy="943.0" r="4"/><circle cx="1220.6" cy="913.6" r="4"/><circle cx="1215.1" cy="916.8" r="4"/><circle cx="1226.2" cy="880.9" r="4"/><circle cx="1226.1" cy="954.8" r="4"/><circle cx="1214.2" cy="948.2" r="4"/><circle cx="1218.6" cy="938.8" r="4"/><circle cx="1225.1" cy="894.8" r="4"/><circle cx="1227.6" cy="878.7" r="4"/><circle cx="1212.5" cy="920.7" r="4"/><circle cx="1217.9" cy="945.4" r="4"/><circle cx="1229.5" cy="957.7" r="4"/><circle cx="1213.0" cy="918.4" r="4"/><circle cx="1218.1" cy="879.8" r="4"/><circle cx="1220.7" cy="950.0" r="4"/><circle cx="1233.6" cy="937.7" r="4"/><circle cx="1216.8" cy="893.5" r="4"/><circle cx="1221.4" cy="923.3" r="4"/><circle cx="1227.3" cy="931.9" r="4"/><circle cx="1216.1" cy="954.4" r="4"/><circle cx="1229.1" cy="895.2" r="4"/><circle cx="1210.5" cy="936.7" r="4"/><circle cx="1222.7" cy="943.3" r="4"/><circle cx="1211.3" cy="954.9" r="4"/><circle cx="1223.6" cy="891.6" r="4"/><circle cx="1232.0" cy="929.3" r="4"/><circle cx="1218.8" cy="947.8" r="4"/><circle cx="1227.0" cy="921.0" r="4"/><circle cx="1230.8" cy="913.6" r="4"/><circle cx="1221.9" cy="884.3" r="4"/><circle cx="1226.5" cy="950.5" r="4"/><circle cx="1222.8" cy="951.5" r="4"/><circle cx="1230.8" cy="922.3" r="4"/><circle cx="1220.4" cy="867.8" r="4"/><circle cx="1220.3" cy="929.2" r="4"/><circle cx="1233.9" cy="903.4" r="4"/><circle cx="1221.3" cy="915.8" r="4"/><circle cx="1226.2" cy="936.1" r="4"/><circle cx="1220.6" cy="902.4" r="4"/><circle cx="1231.6" cy="876.9" r="4"/><circle cx="1213.8" cy="930.4" r="4"/><circle cx="1233.8" cy="953.9" r="4"/><circle cx="1228.6" cy="955.5" r="4"/><circle cx="1228.3" cy="861.2" r="4"/><circle cx="1231.6" cy="851.3" r="4"/><circle cx="1223.9" cy="848.6" r="4"/><circle cx="1233.2" cy="856.4" r="4"/><circle cx="1229.9" cy="836.5" r="4"/><circle cx="1233.6" cy="863.6" r="4"/><circle cx="1228.9" cy="844.2" r="4"/><circle cx="1225.2" cy="837.9" r="4"/><circle cx="1219.9" cy="863.5" r="4"/><circle cx="1221.7" cy="837.0" r="4"/><circle cx="1226.5" cy="840.5" r="4"/><circle cx="1224.4" cy="838.4" r="4"/><circle cx="1230.6" cy="853.4" r="4"/><circle cx="1234.1" cy="865.6" r="4"/><circle cx="1234.4" cy="854.0" r="4"/><circle cx="1226.5" cy="862.0" r="4"/><circle cx="1216.8" cy="858.3" r="4"/><circle cx="1224.6" cy="860.4" r="4"/><circle cx="1228.8" cy="850.4" r="4"/><circle cx="1221.1" cy="842.3" r="4"/><circle cx="1235.0" cy="841.0" r="4"/><circle cx="1228.0" cy="855.4" r="4"/><circle cx="1225.9" cy="838.6" r="4"/><circle cx="1222.4" cy="854.8" r="4"/><circle cx="1234.8" cy="836.8" r="4"/><circle cx="1234.6" cy="836.8" r="4"/><circle cx="1234.9" cy="865.7" r="4"/><circle cx="1231.3" cy="840.1" r="4"/><circle cx="1226.7" cy="839.9" r="4"/><circle cx="1215.1" cy="864.5" r="4"/><circle cx="1222.1" cy="830.2" r="4"/><circle cx="1231.2" cy="804.0" r="4"/><circle cx="1234.7" cy="833.2" r="4"/><circle cx="1233.2" cy="827.6" r="4"/><circle cx="1233.9" cy="809.0" r="4"/><circle cx="1234.8" cy="820.3" r="4"/><circle cx="1232.9" cy="805.6" r="4"/><circle cx="1224.5" cy="835.1" r="4"/><circle cx="1230.8" cy="811.2" r="4"/><circle cx="1232.8" cy="808.7" r="4"/><circle cx="1203.2" cy="879.1" r="4"/><circle cx="1199.9" cy="912.6" r="4"/><circle cx="1203.1" cy="930.0" r="4"/><circle cx="1211.3" cy="897.5" r="4"/><circle cx="1200.4" cy="899.9" r="4"/><circle cx="1203.2" cy="861.8" r="4"/><circle cx="1203.0" cy="918.4" r="4"/><circle cx="1188.1" cy="949.4" r="4"/><circle cx="1198.6" cy="954.7" r="4"/><circle cx="1198.5" cy="914.6" r="4"/><circle cx="1203.2" cy="867.1" r="4"/><circle cx="1204.1" cy="862.6" r="4"/><circle cx="1210.6" cy="957.6" r="4"/><circle cx="1202.1" cy="911.7" r="4"/><circle cx="1203.6" cy="874.5" r="4"/><circle cx="1207.4" cy="884.8" r="4"/><circle cx="1209.2" cy="939.4" r="4"/><circle cx="1209.2" cy="884.7" r="4"/><circle cx="1197.8" cy="952.3" r="4"/><circle cx="1202.7" cy="901.7" r="4"/><circle cx="1209.5" cy="912.1" r="4"/><circle cx="1208.5" cy="862.8" r="4"/><circle cx="1203.1" cy="902.7" r="4"/><circle cx="1209.6" cy="958.5" r="4"/><circle cx="1193.2" cy="925.5" r="4"/><circle cx="1188.2" cy="955.2" r="4"/><circle cx="1207.3" cy="899.4" r="4"/><circle cx="1201.1" cy="885.9" r="4"/><circle cx="1211.5" cy="881.8" r="4"/><circle cx="1209.3" cy="873.7" r="4"/><circle cx="1207.7" cy="875.8" r="4"/><circle cx="1211.3" cy="873.8" r="4"/><circle cx="1198.6" cy="909.6" r="4"/><circle cx="1196.2" cy="928.0" r="4"/><circle cx="1201.8" cy="944.9" r="4"/><circle cx="1195.1" cy="957.4" r="4"/><circle cx="1199.5" cy="932.9" r="4"/><circle cx="1204.7" cy="950.8" r="4"/><circle cx="1210.5" cy="903.8" r="4"/><circle cx="1199.8" cy="929.7" r="4"/><circle cx="1204.2" cy="904.3" r="4"/><circle cx="1195.1" cy="955.0" r="4"/><circle cx="1203.2" cy="911.6" r="4"/><circle cx="1189.3" cy="956.8" r="4"/><circle cx="1201.7" cy="955.5" r="4"/><circle cx="1208.9" cy="918.1" r="4"/><circle cx="1208.5" cy="949.5" r="4"/><circle cx="1210.8" cy="878.8" r="4"/><circle cx="1196.0" cy="918.7" r="4"/><circle cx="1195.3" cy="930.3" r="4"/><circle cx="1207.0" cy="947.9" r="4"/><circle cx="1211.2" cy="922.0" r="4"/><circle cx="1201.3" cy="943.8" r="4"/><circle cx="1211.5" cy="920.4" r="4"/><circle cx="1208.6" cy="934.6" r="4"/><circle cx="1203.8" cy="918.4" r="4"/><circle cx="1197.4" cy="916.0" r="4"/><circle cx="1205.1" cy="875.7" r="4"/><circle cx="1195.8" cy="914.1" r="4"/><circle cx="1205.9" cy="930.6" r="4"/><circle cx="1204.6" cy="950.5" r="4"/><circle cx="1203.6" cy="860.5" r="4"/><circle cx="1205.2" cy="929.1" r="4"/><circle cx="1204.5" cy="935.3" r="4"/><circle cx="1209.7" cy="881.9" r="4"/><circle cx="1203.4" cy="860.7" r="4"/><circle cx="1210.8" cy="885.1" r="4"/><circle cx="1187.8" cy="952.7" r="4"/><circle cx="1207.3" cy="863.1" r="4"/><circle cx="1208.8" cy="933.4" r="4"/><circle cx="1185.2" cy="929.8" r="4"/><circle cx="1183.3" cy="941.4" r="4"/><circle cx="1157.2" cy="951.7" r="4"/><circle cx="1179.5" cy="928.5" r="4"/><circle cx="1181.6" cy="945.7" r="4"/><circle cx="1182.9" cy="955.2" r="4"/><circle cx="1185.6" cy="948.4" r="4"/><circle cx="1182.9" cy="948.3" r="4"/><circle cx="1173.2" cy="936.0" r="4"/><circle cx="1185.7" cy="926.3" r="4"/><circle cx="1175.0" cy="930.7" r="4"/><circle cx="1178.7" cy="928.6" r="4"/><circle cx="1174.1" cy="931.4" r="4"/><circle cx="1158.6" cy="956.3" r="4"/><circle cx="1174.0" cy="929.8" r="4"/><circle cx="1178.0" cy="937.1" r="4"/><circle cx="1171.8" cy="945.6" r="4"/><circle cx="1175.8" cy="945.1" r="4"/><circle cx="1176.8" cy="930.5" r="4"/><circle cx="1168.6" cy="943.5" r="4"/><circle cx="1158.3" cy="956.5" r="4"/><circle cx="1178.1" cy="941.9" r="4"/><circle cx="1185.0" cy="925.3" r="4"/><circle cx="1155.0" cy="950.4" r="4"/><circle cx="1183.0" cy="933.1" r="4"/><circle cx="1329.7" cy="912.0" r="4"/><circle cx="1312.9" cy="926.0" r="4"/><circle cx="1322.1" cy="952.9" r="4"/><circle cx="1336.8" cy="943.3" r="4"/><circle cx="1328.2" cy="946.8" r="4"/><circle cx="1306.2" cy="949.9" r="4"/><circle cx="1337.3" cy="959.1" r="4"/><circle cx="1327.3" cy="944.0" r="4"/><circle cx="1310.9" cy="946.8" r="4"/><circle cx="1325.6" cy="948.2" r="4"/><circle cx="1318.8" cy="933.9" r="4"/><circle cx="1318.3" cy="937.3" r="4"/><circle cx="1308.5" cy="893.7" r="4"/><circle cx="1306.9" cy="951.4" r="4"/><circle cx="1312.9" cy="891.2" r="4"/><circle cx="1305.7" cy="907.5" r="4"/><circle cx="1308.0" cy="909.2" r="4"/><circle cx="1317.1" cy="949.5" r="4"/><circle cx="1329.8" cy="932.9" r="4"/><circle cx="1322.6" cy="883.3" r="4"/><circle cx="1331.4" cy="921.6" r="4"/><circle cx="1316.4" cy="946.6" r="4"/><circle cx="1322.2" cy="959.1" r="4"/><circle cx="1306.9" cy="902.4" r="4"/><circle cx="1325.5" cy="934.6" r="4"/><circle cx="1313.1" cy="941.6" r="4"/><circle cx="1323.3" cy="882.0" r="4"/><circle cx="1314.3" cy="959.3" r="4"/><circle cx="1317.6" cy="937.9" r="4"/><circle cx="1314.4" cy="919.9" r="4"/><circle cx="1312.2" cy="954.0" r="4"/><circle cx="1332.4" cy="944.3" r="4"/><circle cx="1311.7" cy="934.7" r="4"/><circle cx="1310.0" cy="939.7" r="4"/><circle cx="1323.5" cy="955.8" r="4"/><circle cx="1325.4" cy="889.2" r="4"/><circle cx="1326.4" cy="880.9" r="4"/><circle cx="1306.0" cy="952.4" r="4"/><circle cx="1326.9" cy="887.9" r="4"/><circle cx="1311.9" cy="958.6" r="4"/><circle cx="1331.4" cy="952.8" r="4"/><circle cx="1309.6" cy="953.4" r="4"/><circle cx="1308.6" cy="877.3" r="4"/><circle cx="1329.7" cy="900.9" r="4"/><circle cx="1316.6" cy="944.5" r="4"/><circle cx="1318.0" cy="958.6" r="4"/><circle cx="1311.5" cy="907.9" r="4"/><circle cx="1328.4" cy="958.2" r="4"/><circle cx="1310.8" cy="904.5" r="4"/><circle cx="1316.8" cy="915.2" r="4"/><circle cx="1316.6" cy="944.3" r="4"/><circle cx="1337.8" cy="954.8" r="4"/><circle cx="1324.1" cy="925.8" r="4"/><circle cx="1321.0" cy="885.5" r="4"/><circle cx="1312.7" cy="959.2" r="4"/><circle cx="1306.3" cy="958.7" r="4"/><circle cx="1327.9" cy="958.5" r="4"/><circle cx="1315.0" cy="922.8" r="4"/><circle cx="1306.1" cy="881.1" r="4"/><circle cx="1335.0" cy="937.2" r="4"/><circle cx="1325.4" cy="885.5" r="4"/><circle cx="1324.5" cy="918.9" r="4"/><circle cx="1307.4" cy="895.1" r="4"/><circle cx="1318.0" cy="941.0" r="4"/><circle cx="1328.2" cy="885.6" r="4"/><circle cx="1323.0" cy="882.9" r="4"/><circle cx="1312.3" cy="955.4" r="4"/><circle cx="1305.8" cy="932.1" r="4"/><circle cx="1337.4" cy="959.4" r="4"/><circle cx="1321.8" cy="952.2" r="4"/><circle cx="1309.2" cy="878.7" r="4"/><circle cx="1320.5" cy="912.8" r="4"/><circle cx="1326.6" cy="915.0" r="4"/><circle cx="1323.7" cy="900.6" r="4"/><circle cx="1338.2" cy="954.1" r="4"/><circle cx="1319.8" cy="957.0" r="4"/><circle cx="1325.6" cy="882.2" r="4"/><circle cx="1310.7" cy="949.2" r="4"/><circle cx="1333.9" cy="957.1" r="4"/><circle cx="1328.6" cy="893.4" r="4"/><circle cx="1329.7" cy="947.9" r="4"/><circle cx="1321.8" cy="939.1" r="4"/><circle cx="1327.3" cy="958.3" r="4"/><circle cx="1335.3" cy="954.5" r="4"/><circle cx="1330.3" cy="952.8" r="4"/><circle cx="1331.7" cy="959.5" r="4"/><circle cx="1319.9" cy="883.2" r="4"/><circle cx="1316.4" cy="887.3" r="4"/><circle cx="1334.5" cy="938.4" r="4"/><circle cx="1308.4" cy="956.6" r="4"/><circle cx="1309.9" cy="902.6" r="4"/><circle cx="1320.9" cy="890.4" r="4"/><circle cx="1324.2" cy="894.9" r="4"/><circle cx="1324.4" cy="931.7" r="4"/><circle cx="1323.9" cy="913.7" r="4"/><circle cx="1311.8" cy="958.7" r="4"/><circle cx="1328.6" cy="945.5" r="4"/><circle cx="1316.1" cy="948.1" r="4"/><circle cx="1312.3" cy="934.7" r="4"/><circle cx="1305.4" cy="959.5" r="4"/><circle cx="1323.7" cy="952.8" r="4"/><circle cx="1314.3" cy="936.2" r="4"/><circle cx="1324.5" cy="959.1" r="4"/><circle cx="1321.5" cy="911.0" r="4"/><circle cx="1306.4" cy="905.0" r="4"/><circle cx="1311.5" cy="959.4" r="4"/><circle cx="1321.0" cy="918.3" r="4"/><circle cx="1305.5" cy="930.8" r="4"/><circle cx="1312.8" cy="958.9" r="4"/><circle cx="1307.5" cy="950.5" r="4"/><circle cx="1325.5" cy="882.6" r="4"/><circle cx="1334.5" cy="959.3" r="4"/><circle cx="1323.0" cy="920.4" r="4"/><circle cx="1308.8" cy="943.8" r="4"/><circle cx="1311.5" cy="901.9" r="4"/><circle cx="1309.3" cy="952.1" r="4"/><circle cx="1308.3" cy="955.8" r="4"/><circle cx="1306.4" cy="928.5" r="4"/><circle cx="1329.3" cy="893.4" r="4"/><circle cx="1308.7" cy="943.4" r="4"/><circle cx="1332.9" cy="924.3" r="4"/><circle cx="1316.0" cy="922.5" r="4"/><circle cx="1318.0" cy="924.1" r="4"/><circle cx="1305.5" cy="880.2" r="4"/><circle cx="1312.8" cy="885.1" r="4"/><circle cx="1311.4" cy="895.6" r="4"/><circle cx="1308.4" cy="921.8" r="4"/><circle cx="1319.7" cy="943.9" r="4"/><circle cx="1318.8" cy="948.8" r="4"/><circle cx="1333.7" cy="959.3" r="4"/><circle cx="1320.8" cy="906.3" r="4"/><circle cx="1316.6" cy="914.5" r="4"/><circle cx="1331.7" cy="928.8" r="4"/><circle cx="1305.7" cy="929.7" r="4"/><circle cx="1309.0" cy="957.4" r="4"/><circle cx="1315.3" cy="902.2" r="4"/><circle cx="1316.5" cy="941.2" r="4"/><circle cx="1317.0" cy="958.6" r="4"/><circle cx="1331.2" cy="922.9" r="4"/><circle cx="1333.7" cy="944.4" r="4"/><circle cx="1313.4" cy="944.2" r="4"/><circle cx="1309.8" cy="871.4" r="4"/><circle cx="1307.4" cy="897.7" r="4"/><circle cx="1318.7" cy="915.1" r="4"/><circle cx="1306.5" cy="886.8" r="4"/><circle cx="1325.1" cy="959.5" r="4"/><circle cx="1308.5" cy="959.1" r="4"/><circle cx="1332.8" cy="956.2" r="4"/><circle cx="1328.3" cy="958.3" r="4"/><circle cx="1325.2" cy="920.5" r="4"/><circle cx="1311.2" cy="852.9" r="4"/><circle cx="1310.3" cy="849.1" r="4"/><circle cx="1306.0" cy="837.1" r="4"/><circle cx="1310.3" cy="839.3" r="4"/><circle cx="1318.2" cy="842.6" r="4"/><circle cx="1305.1" cy="836.8" r="4"/><circle cx="1322.2" cy="866.4" r="4"/><circle cx="1321.4" cy="858.9" r="4"/><circle cx="1317.7" cy="846.2" r="4"/><circle cx="1305.2" cy="837.7" r="4"/><circle cx="1327.4" cy="867.4" r="4"/><circle cx="1316.7" cy="845.0" r="4"/><circle cx="1324.1" cy="868.6" r="4"/><circle cx="1312.8" cy="846.1" r="4"/><circle cx="1305.4" cy="838.2" r="4"/><circle cx="1320.6" cy="858.1" r="4"/><circle cx="1323.8" cy="855.4" r="4"/><circle cx="1324.1" cy="862.3" r="4"/><circle cx="1316.4" cy="848.2" r="4"/><circle cx="1318.0" cy="836.5" r="4"/><circle cx="1325.3" cy="863.9" r="4"/><circle cx="1319.4" cy="867.1" r="4"/><circle cx="1313.4" cy="867.3" r="4"/><circle cx="1315.6" cy="839.3" r="4"/><circle cx="1307.6" cy="845.8" r="4"/><circle cx="1311.5" cy="802.9" r="4"/><circle cx="1310.2" cy="810.3" r="4"/><circle cx="1315.3" cy="826.8" r="4"/><circle cx="1310.7" cy="816.3" r="4"/><circle cx="1308.9" cy="805.9" r="4"/><circle cx="1316.9" cy="814.4" r="4"/><circle cx="1311.4" cy="830.0" r="4"/><circle cx="1321.3" cy="835.0" r="4"/><circle cx="1319.3" cy="833.8" r="4"/><circle cx="1305.2" cy="833.2" r="4"/><circle cx="1352.1" cy="938.5" r="4"/><circle cx="1350.0" cy="944.5" r="4"/><circle cx="1335.8" cy="955.4" r="4"/><circle cx="1358.6" cy="944.3" r="4"/><circle cx="1347.9" cy="949.0" r="4"/><circle cx="1339.3" cy="950.5" r="4"/><circle cx="1349.6" cy="942.3" r="4"/><circle cx="1344.7" cy="931.8" r="4"/><circle cx="1338.6" cy="941.9" r="4"/><circle cx="1357.3" cy="955.8" r="4"/><circle cx="1333.8" cy="956.9" r="4"/><circle cx="1334.0" cy="948.4" r="4"/><circle cx="1353.6" cy="936.7" r="4"/><circle cx="1338.5" cy="942.3" r="4"/><circle cx="1346.4" cy="938.7" r="4"/><circle cx="1353.4" cy="949.1" r="4"/><circle cx="1352.4" cy="940.2" r="4"/><circle cx="1348.2" cy="956.3" r="4"/><circle cx="1345.8" cy="932.5" r="4"/><circle cx="1376.2" cy="949.3" r="4"/><circle cx="1335.5" cy="932.3" r="4"/><circle cx="1369.6" cy="945.1" r="4"/><circle cx="1335.9" cy="940.3" r="4"/><circle cx="1337.8" cy="933.7" r="4"/><circle cx="1340.4" cy="933.7" r="4"/><circle cx="1338.9" cy="939.2" r="4"/><circle cx="1361.8" cy="951.2" r="4"/><circle cx="1359.4" cy="947.8" r="4"/><circle cx="1335.5" cy="934.1" r="4"/><circle cx="1343.2" cy="949.2" r="4"/><circle cx="1341.2" cy="945.0" r="4"/><circle cx="1335.5" cy="934.8" r="4"/><circle cx="1363.2" cy="944.8" r="4"/><circle cx="1344.6" cy="942.0" r="4"/><circle cx="1363.9" cy="939.2" r="4"/><circle cx="1351.3" cy="949.7" r="4"/><circle cx="1362.8" cy="944.0" r="4"/><circle cx="1362.1" cy="941.8" r="4"/><circle cx="1344.7" cy="935.3" r="4"/><circle cx="1339.6" cy="946.2" r="4"/><circle cx="1339.2" cy="932.4" r="4"/><circle cx="1352.6" cy="958.3" r="4"/><circle cx="1380.0" cy="950.1" r="4"/><circle cx="1340.7" cy="936.7" r="4"/><circle cx="1343.6" cy="931.8" r="4"/><circle cx="1375.3" cy="948.3" r="4"/><circle cx="1337.9" cy="941.2" r="4"/><circle cx="1337.5" cy="959.0" r="4"/><circle cx="1379.6" cy="952.7" r="4"/><circle cx="1350.3" cy="931.3" r="4"/><circle cx="1366.2" cy="943.9" r="4"/><circle cx="1354.9" cy="933.7" r="4"/><circle cx="1354.2" cy="954.7" r="4"/><circle cx="1374.7" cy="953.9" r="4"/><circle cx="1381.4" cy="959.0" r="4"/><circle cx="1361.3" cy="958.5" r="4"/><circle cx="1372.7" cy="957.2" r="4"/><circle cx="1353.1" cy="946.3" r="4"/><circle cx="1335.8" cy="958.2" r="4"/><circle cx="1346.7" cy="956.1" r="4"/><circle cx="1346.5" cy="952.4" r="4"/><circle cx="1372.2" cy="944.2" r="4"/><circle cx="1351.7" cy="944.3" r="4"/><circle cx="1365.3" cy="946.9" r="4"/><circle cx="1358.5" cy="939.4" r="4"/><circle cx="1369.9" cy="949.1" r="4"/><circle cx="1345.6" cy="959.0" r="4"/><circle cx="1343.5" cy="941.9" r="4"/><circle cx="1378.8" cy="958.2" r="4"/><circle cx="1341.5" cy="933.1" r="4"/><circle cx="1350.1" cy="936.9" r="4"/><circle cx="1374.2" cy="948.8" r="4"/><circle cx="1366.3" cy="950.7" r="4"/><circle cx="1348.3" cy="930.6" r="4"/><circle cx="1339.1" cy="936.7" r="4"/><circle cx="1374.0" cy="950.6" r="4"/><circle cx="1336.3" cy="947.2" r="4"/><circle cx="1360.2" cy="948.7" r="4"/><circle cx="1345.0" cy="955.7" r="4"/><circle cx="1353.3" cy="941.8" r="4"/><circle cx="1336.4" cy="937.2" r="4"/><circle cx="1338.7" cy="944.7" r="4"/><circle cx="1392.2" cy="958.1" r="4"/><circle cx="1347.5" cy="931.3" r="4"/><circle cx="1334.2" cy="946.3" r="4"/><circle cx="1387.5" cy="959.0" r="4"/><circle cx="1355.9" cy="941.9" r="4"/><circle cx="1352.3" cy="940.7" r="4"/><circle cx="1352.3" cy="940.2" r="4"/><circle cx="1336.9" cy="953.6" r="4"/><circle cx="1352.2" cy="947.1" r="4"/><circle cx="1385.9" cy="958.8" r="4"/><circle cx="1338.6" cy="934.0" r="4"/><circle cx="1364.3" cy="957.2" r="4"/><circle cx="1375.8" cy="958.9" r="4"/><circle cx="1350.4" cy="944.6" r="4"/><circle cx="1348.5" cy="958.3" r="4"/><circle cx="1371.9" cy="952.5" r="4"/><circle cx="1335.8" cy="955.8" r="4"/><circle cx="1355.8" cy="940.2" r="4"/><circle cx="1380.1" cy="957.8" r="4"/><circle cx="1338.0" cy="930.8" r="4"/><circle cx="1362.3" cy="948.1" r="4"/><circle cx="1350.4" cy="957.9" r="4"/><circle cx="1356.0" cy="950.8" r="4"/><circle cx="1363.5" cy="940.4" r="4"/><circle cx="1346.2" cy="936.0" r="4"/><circle cx="1354.1" cy="957.2" r="4"/><circle cx="1335.9" cy="947.0" r="4"/><circle cx="1357.8" cy="957.0" r="4"/><circle cx="1339.7" cy="940.7" r="4"/><circle cx="1339.7" cy="930.0" r="4"/><circle cx="1346.7" cy="930.6" r="4"/><circle cx="1379.5" cy="957.7" r="4"/><circle cx="1335.5" cy="946.2" r="4"/><circle cx="1364.2" cy="948.3" r="4"/><circle cx="1374.1" cy="948.7" r="4"/><circle cx="1340.7" cy="938.6" r="4"/><circle cx="1376.3" cy="947.7" r="4"/><circle cx="1337.0" cy="942.3" r="4"/><circle cx="1339.6" cy="948.6" r="4"/><circle cx="1360.6" cy="953.0" r="4"/><circle cx="1384.9" cy="952.3" r="4"/><circle cx="1352.0" cy="944.1" r="4"/><circle cx="1336.6" cy="941.5" r="4"/><circle cx="1349.2" cy="940.0" r="4"/><circle cx="1335.4" cy="942.9" r="4"/><circle cx="1362.6" cy="945.4" r="4"/><circle cx="1351.0" cy="951.1" r="4"/><circle cx="1334.5" cy="933.5" r="4"/><circle cx="1358.8" cy="947.6" r="4"/><circle cx="1356.2" cy="956.7" r="4"/><circle cx="1342.1" cy="931.2" r="4"/><circle cx="1343.5" cy="950.1" r="4"/><circle cx="1352.6" cy="950.6" r="4"/><circle cx="1355.6" cy="950.3" r="4"/><circle cx="1358.0" cy="942.0" r="4"/><circle cx="1337.8" cy="935.9" r="4"/><circle cx="1360.6" cy="958.9" r="4"/><circle cx="1338.5" cy="947.6" r="4"/><circle cx="1349.1" cy="946.0" r="4"/><circle cx="1343.5" cy="942.7" r="4"/><circle cx="1334.7" cy="949.2" r="4"/><circle cx="1359.7" cy="956.2" r="4"/><circle cx="1389.7" cy="955.9" r="4"/><circle cx="1392.3" cy="956.3" r="4"/><circle cx="1343.8" cy="936.1" r="4"/><circle cx="1351.5" cy="947.1" r="4"/><circle cx="1343.0" cy="950.4" r="4"/><circle cx="1347.8" cy="949.8" r="4"/><circle cx="1349.3" cy="936.3" r="4"/><circle cx="1354.7" cy="933.3" r="4"/><circle cx="1358.7" cy="952.1" r="4"/><circle cx="1337.7" cy="949.7" r="4"/><circle cx="1334.3" cy="935.9" r="4"/><circle cx="1377.7" cy="951.9" r="4"/><circle cx="1339.8" cy="931.0" r="4"/><circle cx="1345.5" cy="932.3" r="4"/><circle cx="1343.4" cy="933.6" r="4"/><circle cx="1353.8" cy="937.4" r="4"/><circle cx="1369.7" cy="942.4" r="4"/><circle cx="1355.7" cy="954.1" r="4"/><circle cx="1333.9" cy="956.2" r="4"/><circle cx="1363.6" cy="946.3" r="4"/><circle cx="1344.7" cy="932.8" r="4"/><circle cx="1361.6" cy="942.5" r="4"/><circle cx="1335.4" cy="937.1" r="4"/><circle cx="1390.2" cy="957.6" r="4"/><circle cx="1348.9" cy="955.5" r="4"/><circle cx="1343.8" cy="938.8" r="4"/><circle cx="1332.2" cy="883.8" r="4"/><circle cx="1333.8" cy="900.1" r="4"/><circle cx="1333.5" cy="880.8" r="4"/><circle cx="1337.1" cy="861.3" r="4"/><circle cx="1334.4" cy="869.7" r="4"/><circle cx="1342.1" cy="862.7" r="4"/><circle cx="1339.1" cy="863.8" r="4"/><circle cx="1335.8" cy="872.3" r="4"/><circle cx="1333.2" cy="884.0" r="4"/><circle cx="1335.1" cy="916.1" r="4"/><circle cx="1342.5" cy="864.6" r="4"/><circle cx="1360.3" cy="921.1" r="4"/><circle cx="1337.5" cy="892.1" r="4"/><circle cx="1332.3" cy="904.0" r="4"/><circle cx="1346.9" cy="876.9" r="4"/><circle cx="1367.1" cy="924.7" r="4"/><circle cx="1335.5" cy="898.2" r="4"/><circle cx="1332.6" cy="916.6" r="4"/><circle cx="1343.9" cy="876.0" r="4"/><circle cx="1331.8" cy="882.4" r="4"/><circle cx="1338.8" cy="870.5" r="4"/><circle cx="1343.1" cy="873.5" r="4"/><circle cx="1346.1" cy="915.4" r="4"/><circle cx="1348.7" cy="893.8" r="4"/><circle cx="1336.3" cy="886.1" r="4"/><circle cx="1332.4" cy="863.7" r="4"/><circle cx="1337.9" cy="860.4" r="4"/><circle cx="1333.8" cy="920.5" r="4"/><circle cx="1332.7" cy="877.4" r="4"/><circle cx="1335.0" cy="910.8" r="4"/><circle cx="1341.9" cy="869.7" r="4"/><circle cx="1335.4" cy="910.3" r="4"/><circle cx="1341.4" cy="864.8" r="4"/><circle cx="1331.6" cy="920.4" r="4"/><circle cx="1332.5" cy="879.6" r="4"/><circle cx="1339.4" cy="883.9" r="4"/><circle cx="1335.9" cy="862.0" r="4"/><circle cx="1344.4" cy="869.9" r="4"/><circle cx="1334.4" cy="918.9" r="4"/><circle cx="1353.8" cy="888.5" r="4"/><circle cx="1337.3" cy="865.7" r="4"/><circle cx="1333.2" cy="887.6" r="4"/><circle cx="1339.3" cy="913.4" r="4"/><circle cx="1332.0" cy="878.3" r="4"/><circle cx="1343.9" cy="889.6" r="4"/><circle cx="1339.4" cy="911.6" r="4"/><circle cx="1368.1" cy="926.4" r="4"/><circle cx="1342.9" cy="864.0" r="4"/><circle cx="1338.2" cy="914.6" r="4"/><circle cx="1345.7" cy="898.9" r="4"/><circle cx="1395.8" cy="943.1" r="4"/><circle cx="1401.8" cy="946.2" r="4"/><circle cx="1416.5" cy="955.2" r="4"/><circle cx="1399.5" cy="958.4" r="4"/><circle cx="1411.8" cy="955.9" r="4"/><circle cx="1398.4" cy="940.7" r="4"/><circle cx="1400.2" cy="953.5" r="4"/><circle cx="1396.2" cy="940.5" r="4"/><circle cx="1404.2" cy="947.9" r="4"/><circle cx="1412.3" cy="950.2" r="4"/><circle cx="1397.2" cy="944.3" r="4"/><circle cx="1419.5" cy="951.1" r="4"/><circle cx="1403.8" cy="941.4" r="4"/><circle cx="1401.1" cy="948.5" r="4"/><circle cx="1414.1" cy="956.2" r="4"/><circle cx="1410.7" cy="945.0" r="4"/><circle cx="1414.3" cy="955.1" r="4"/><circle cx="1406.2" cy="956.0" r="4"/><circle cx="1416.2" cy="953.3" r="4"/><circle cx="1427.1" cy="956.0" r="4"/><circle cx="1404.4" cy="950.7" r="4"/><circle cx="1407.5" cy="949.9" r="4"/><circle cx="1398.1" cy="953.5" r="4"/><circle cx="1413.9" cy="948.7" r="4"/><circle cx="1419.9" cy="957.7" r="4"/><circle cx="1399.4" cy="943.1" r="4"/><circle cx="1408.6" cy="951.8" r="4"/><circle cx="1406.5" cy="953.6" r="4"/><circle cx="1404.5" cy="958.1" r="4"/><circle cx="1420.0" cy="953.2" r="4"/><circle cx="1419.4" cy="954.6" r="4"/><circle cx="1397.7" cy="951.9" r="4"/><circle cx="1401.0" cy="953.6" r="4"/><circle cx="1399.9" cy="942.1" r="4"/><circle cx="1402.4" cy="955.8" r="4"/><circle cx="1395.8" cy="942.6" r="4"/><circle cx="1398.8" cy="942.4" r="4"/><circle cx="1393.5" cy="940.1" r="4"/><circle cx="1397.1" cy="947.8" r="4"/><circle cx="1395.5" cy="940.8" r="4"/><circle cx="1400.5" cy="945.3" r="4"/><circle cx="1408.7" cy="946.4" r="4"/><circle cx="1394.4" cy="950.5" r="4"/><circle cx="1408.7" cy="944.1" r="4"/><circle cx="1398.1" cy="941.6" r="4"/></g>
<line x1="1237.5" y1="987.5" x2="1237.5" y2="610.75" stroke="#222" stroke-width="1.6" stroke-dasharray="17.2 7.65"/>
<line x1="1303.5" y1="987.5" x2="1303.5" y2="610.75" stroke="#222" stroke-width="1.6" stroke-dasharray="17.2 7.65"/>
<line x1="999.5" y1="962.5" x2="1541.3" y2="962.5" stroke="#222" stroke-width="1.6" stroke-dasharray="17.2 7.65"/>
<line x1="999.5" y1="610.75" x2="999.5" y2="988.3" stroke="#333" stroke-width="1.7"/>
<line x1="998.7" y1="987.5" x2="1541.3" y2="987.5" stroke="#333" stroke-width="1.7"/>
<line x1="992" y1="633" x2="999.5" y2="633" stroke="#333" stroke-width="1.4"/>
<text font-size="26.8" fill="#4D4D4D" stroke="#4D4D4D" stroke-width="0.35" letter-spacing="-0.7" x="946.89" y="641.7">200</text>
<line x1="992" y1="717.28" x2="999.5" y2="717.28" stroke="#333" stroke-width="1.4"/>
<text font-size="26.8" fill="#4D4D4D" stroke="#4D4D4D" stroke-width="0.35" letter-spacing="-0.7" x="946.89" y="726.1">150</text>
<line x1="992" y1="801.55" x2="999.5" y2="801.55" stroke="#333" stroke-width="1.4"/>
<text font-size="26.8" fill="#4D4D4D" stroke="#4D4D4D" stroke-width="0.35" letter-spacing="-0.7" x="946.89" y="810.8">100</text>
<line x1="992" y1="885.83" x2="999.5" y2="885.83" stroke="#333" stroke-width="1.4"/>
<text font-size="26.8" fill="#4D4D4D" stroke="#4D4D4D" stroke-width="0.35" letter-spacing="-0.705" x="959.79" y="895.3">50</text>
<line x1="992" y1="970.1" x2="999.5" y2="970.1" stroke="#333" stroke-width="1.4"/>
<text font-size="26.8" fill="#4D4D4D" stroke="#4D4D4D" stroke-width="0.35" x="972.6" y="979.4">0</text>
<line x1="1106.1" y1="987.5" x2="1106.1" y2="995" stroke="#333" stroke-width="1.4"/>
<text text-anchor="middle" font-size="26" fill="#4D4D4D" stroke="#4D4D4D" stroke-width="0.34" x="1108.6" y="1018.3">−10</text>
<line x1="1270.5" y1="987.5" x2="1270.5" y2="995" stroke="#333" stroke-width="1.4"/>
<text text-anchor="middle" font-size="26" fill="#4D4D4D" stroke="#4D4D4D" stroke-width="0.34" x="1271" y="1018.3">0</text>
<line x1="1434.9" y1="987.5" x2="1434.9" y2="995" stroke="#333" stroke-width="1.4"/>
<text text-anchor="middle" font-size="26" fill="#4D4D4D" stroke="#4D4D4D" stroke-width="0.34" x="1435.4" y="1018.3">10</text>
<g font-size="7.6" stroke="#000" stroke-width="0.22">
<text x="1212.5" y="677.5">PIM1</text>
<text x="1224.1" y="710.1">ATP1A3</text>
<text x="1187.9" y="718.5">FOS</text>
<text x="1224.1" y="724.5">POU2AF1</text>
<text x="1206.8" y="732.7">ZNF367</text>
<text x="1182" y="739.1">PPFIA4</text>
<text x="1224.4" y="743.9">E2F2</text>
<text x="1200.1" y="771.1">ENO2</text>
<text x="1170.8" y="778.5">KLF10</text>
<text x="1207.6" y="780.8">HCK</text>
<text x="1228.1" y="790.4">CD22</text>
<text x="1206.8" y="793.9">CD9</text>
<text x="1234.8" y="796.8">MPP1</text>
<text x="1177.2" y="801.9">RASAL1</text>
<text x="1211" y="806.5">TRIB3</text>
<text x="1232.1" y="818.3">TRIM38</text>
<text x="1232.9" y="826.9">ASPM</text>
<text x="1187.2" y="829.6">P4HA2</text>
<text x="1209.5" y="836.6">ICAM1</text>
<text x="1217.7" y="842.6">NID2</text>
<text x="1233.8" y="848.3">APBB1IP</text>
<text x="1194.7" y="851.6">SMIM24</text>
<text x="1225.2" y="855.3">VPREB3</text>
<text x="1183.2" y="862.3">JPH2</text>
<text x="1211" y="863.8">SCN4A</text>
<text x="1156.7" y="868.6">IGLC3</text>
<text x="1233.8" y="869.8">COL5A1</text>
<text x="1188" y="874.5">PTPN7</text>
<text x="1230.1" y="876.2">POLQ</text>
<text x="1182.8" y="881.2">PDE4C</text>
<text x="1227.1" y="886.1">DSG2</text>
<text x="1200.6" y="889.6">AATK</text>
<text x="1221.9" y="892.5">MRC2</text>
<text x="1231.1" y="898.3">WDR76</text>
<text x="1166.8" y="900">IL21R</text>
<text x="1202.9" y="900.6">PSD3</text>
<text x="1213.3" y="906.5">TNFRSF1B</text>
<text x="1183.5" y="908.5">MOXD1</text>
<text x="1230.8" y="912.9">GNA15</text>
<text x="1209.6" y="917.1">IL4R</text>
<text x="1188.3" y="919.6">TIFAB</text>
<text x="1237.1" y="920.4">ATP2A3</text>
<text x="1233.8" y="927.8">MPO</text>
<text x="1197.2" y="930.3">RAB17</text>
<text x="1202.1" y="936.7">ITGA2B</text>
<text x="1235.3" y="939.4">TSPOAP1</text>
<text x="1179.8" y="942.7">RGS1</text>
<text x="1216.7" y="948.9">SEMA3F</text>
<text x="1179.8" y="953.8">CD300A</text>
<text x="1235.6" y="956.1">CENPQ</text>
<text x="1155.2" y="959">INHBE</text>
<text x="1211.8" y="961.7">GIPR</text>
<text x="1237.8" y="962">CD82</text>
<text x="1181.3" y="964.7">AMBP</text>
<text x="1103.9" y="967.7">TICAM2</text>
<text x="1205.1" y="969.2">CACNA1G</text>
<text x="1146" y="970.2">MYBPH</text>
<text x="1312.5" y="656.75">TBCD</text>
<text x="1368.25" y="652">CACNA2D2</text>
<text x="1342.5" y="666.75">DIPK1A</text>
<text x="1368.25" y="676.25">SRGN</text>
<text x="1437.5" y="682.5">F3</text>
<text x="1333.25" y="681.75">GATB</text>
<text x="1314.25" y="687.5">LSS</text>
<text x="1331.75" y="688.75">SLC46A3</text>
<text x="1321.4" y="700.8">TSPAN3</text>
<text x="1321.2" y="709.6">CD99</text>
<text x="1382.8" y="709.1">CD163</text>
<text x="1355.1" y="717.7">RASSF4</text>
<text x="1417.9" y="717">UBE2QL1</text>
<text x="1349.6" y="729.3">MFSD6</text>
<text x="1315.9" y="732.9">TRO</text>
<text x="1327.8" y="748.8">FKBP5</text>
<text x="1377.5" y="759.8">UNC13B</text>
<text x="1325.1" y="762.2">TXN</text>
<text x="1320.4" y="778.8">ZNF189</text>
<text x="1350.1" y="780.3">FOSL2</text>
<text x="1321.6" y="790.9">CLEC16A</text>
<text x="1382.3" y="791.9">OLAH</text>
<text x="1326.8" y="800.1">SEC14L1</text>
<text x="1388.6" y="804.6">STARD13</text>
<text x="1332.7" y="814.3">P2RX5</text>
<text x="1380" y="815.8">SIPA1L2</text>
<text x="1308.2" y="826.6">NSUN2</text>
<text x="1316.4" y="832.9">SUCO</text>
<text x="1352" y="831.5">ADARB2</text>
<text x="1314.9" y="839.9">DSTN</text>
<text x="1336.8" y="840.7">PRKAR2B</text>
<text x="1370.5" y="848.7">FZD4</text>
<text x="1323.8" y="850.2">OSBPL5</text>
<text x="1472.7" y="846.6">CD244</text>
<text x="1309" y="856.1">PRXL2A</text>
<text x="1390" y="858.5">IGF1</text>
<text x="1317.6" y="862.2">ENPP4</text>
<text x="1356.7" y="863.3">GRASP</text>
<text x="1457.1" y="861.7">STAB1</text>
<text x="1316" y="870.2">RNASET2</text>
<text x="1353" y="871.3">RCAN2</text>
<text x="1404.9" y="869.4">RP1L1</text>
<text x="1309" y="880.5">ELMO2</text>
<text x="1386.1" y="880.2">PDZD2</text>
<text x="1420.5" y="882.6">LNX1</text>
<text x="1355.9" y="883.9">GPR83</text>
<text x="1476.9" y="885">GZMA</text>
<text x="1315.7" y="887.4">DPEP1</text>
<text x="1390" y="887.4">KDF1</text>
<text x="1417" y="889">CTTN</text>
<text x="1313.8" y="893.5">ZFYVE16</text>
<text x="1364.7" y="893.8">FRMD3</text>
<text x="1307.7" y="900.3">GOLGA5</text>
<text x="1354.8" y="900.3">FMO5</text>
<text x="1482.1" y="904.3">UOX</text>
<text x="1361.2" y="906.7">TBXAS1</text>
<text x="1314.9" y="908.8">VCL</text>
<text x="1503.8" y="914.7">CLEC4E</text>
<text x="1309" y="915.5">GPX7</text>
<text x="1331" y="915.5">HS3ST1</text>
<text x="1432.6" y="916.7">SYBU</text>
<text x="1363.1" y="920.4">NANOG</text>
<text x="1306.1" y="921.2">TFPI</text>
<text x="1341.1" y="927.3">SAG</text>
<text x="1360.2" y="929.2">ARHGAP31</text>
<text x="1419.1" y="929.5">NTN4</text>
<text x="1305.3" y="930">MSMO1</text>
<text x="1474" y="932.4">SLC12A3</text>
<text x="1307.7" y="935.9">DGCR6L</text>
<text x="1383.7" y="935.3">FNDC1</text>
<text x="1347.4" y="937.7">LAMB1</text>
<text x="1427.1" y="937.2">FRY</text>
<text x="1315.7" y="941.6">MCUB</text>
<text x="1512.6" y="943.7">PHACTR3</text>
<text x="1355.6" y="949.3">TMCC3</text>
<text x="1393.7" y="947.4">CACNA1I</text>
<text x="1304.8" y="950.1">RNF19A</text>
<text x="1435.9" y="950.1">CYTIP</text>
<text x="1472.1" y="955.7">ARSF</text>
<text x="1335" y="957.3">NOS2</text>
<text x="1382.9" y="957.3">PGC</text>
<text x="1307.7" y="959.7">RNF14</text>
<text x="1413" y="961.3">CSF3</text>
<text x="1438.7" y="960.5">CFH</text>
<text x="1360.7" y="964.1">RAB27B</text>
<text x="1304.5" y="968.6">HIPK2</text>
<text x="1335.8" y="967.8">MCF2</text>
<text x="1399" y="969.4">ABCB4</text>
<text x="1435.5" y="969.4">PHF24</text>
</g>
<text font-size="28.8" stroke="#000" stroke-width="0.37" x="1150.5" y="1053.5" xml:space="preserve"><tspan>Log</tspan><tspan font-size="17.86" dy="9.5">2</tspan><tspan dy="-9.5" font-size="28.8">&#8203;</tspan><tspan> fold change</tspan></text>
<text font-size="28.8" stroke="#000" stroke-width="0.37" transform="translate(926.8 841) rotate(-90)" xml:space="preserve"><tspan>-Log</tspan><tspan font-size="17.86" dy="9.5">10</tspan><tspan dy="-9.5" font-size="28.8">&#8203;</tspan><tspan> </tspan><tspan font-style="italic">P</tspan></text>
<text font-size="36" font-weight="bold" fill="#111" x="-2.6" y="1112">E</text>
<line x1="522" y1="1138" x2="709" y2="1138" stroke="#4A52AB" stroke-width="2"/>
<path d="M509 1138 L530.5 1129.2 L525 1138 L530.5 1146.8 Z" fill="#4A52AB"/>
<line x1="726" y1="1138" x2="914" y2="1138" stroke="#E13212" stroke-width="2"/>
<path d="M926.7 1138 L905.2 1129.2 L910.7 1138 L905.2 1146.8 Z" fill="#E13212"/>
<rect x="507.7" y="1175.6" width="203.3" height="21.8" fill="#4A52AB"/>
<line x1="471.2" y1="1186.5" x2="482" y2="1186.5" stroke="#111" stroke-width="1.3"/>
<text font-size="23.15" font-weight="bold" x="208.28" y="1192.4">Cell Cycle Checkpoints</text>
<rect x="512.7" y="1208.44" width="198.3" height="21.8" fill="#4A52AB"/>
<line x1="471.2" y1="1219.34" x2="482" y2="1219.34" stroke="#111" stroke-width="1.3"/>
<text font-size="23.15" stroke="#000" stroke-width="0.3" x="272.59" y="1225.24">G1/S Transcription</text>
<rect x="512.7" y="1241.29" width="198.3" height="21.8" fill="#C6C5C4"/>
<line x1="471.2" y1="1252.19" x2="482" y2="1252.19" stroke="#111" stroke-width="1.3"/>
<text font-size="23.15" stroke="#000" stroke-width="0.3" x="192.82" y="1258.09">Homology Directed Repair</text>
<rect x="530.3" y="1274.13" width="180.7" height="21.8" fill="#4A52AB"/>
<line x1="471.2" y1="1285.03" x2="482" y2="1285.03" stroke="#111" stroke-width="1.3"/>
<text font-size="23.15" stroke="#000" stroke-width="0.3" x="273.87" y="1290.93">G2/M Checkpoints</text>
<rect x="530.3" y="1306.98" width="180.7" height="21.8" fill="#4A52AB"/>
<line x1="471.2" y1="1317.88" x2="482" y2="1317.88" stroke="#111" stroke-width="1.3"/>
<text font-size="23.15" stroke="#000" stroke-width="0.3" x="292.95" y="1323.78">G0 and early G1</text>
<rect x="536" y="1339.82" width="175" height="21.8" fill="#4A52AB"/>
<line x1="471.2" y1="1350.72" x2="482" y2="1350.72" stroke="#111" stroke-width="1.3"/>
<text font-size="23.15" stroke="#000" stroke-width="0.3" x="378.07" y="1356.62">S-phase</text>
<rect x="549.7" y="1372.67" width="161.3" height="21.8" fill="#4A52AB"/>
<line x1="471.2" y1="1383.57" x2="482" y2="1383.57" stroke="#111" stroke-width="1.3"/>
<text font-size="23.15" stroke="#000" stroke-width="0.3" x="140.08" y="1387.07">CyclinA,B1,B2, G2/M Transition</text>
<rect x="560.3" y="1405.51" width="150.7" height="21.8" fill="#4A52AB"/>
<line x1="471.2" y1="1416.41" x2="482" y2="1416.41" stroke="#111" stroke-width="1.3"/>
<text font-size="23.15" stroke="#000" stroke-width="0.3" x="103.99" y="1422.31">E2F Regulation of DNA Replication</text>
<rect x="586" y="1438.36" width="125" height="21.8" fill="#C6C5C4"/>
<line x1="471.2" y1="1449.26" x2="482" y2="1449.26" stroke="#111" stroke-width="1.3"/>
<text font-size="23.15" stroke="#000" stroke-width="0.3" x="176.52" y="1455.16">Signaling by RHO GTPAses</text>
<rect x="605.3" y="1471.2" width="105.7" height="21.8" fill="#C6C5C4"/>
<line x1="471.2" y1="1482.1" x2="482" y2="1482.1" stroke="#111" stroke-width="1.3"/>
<text font-size="23.15" stroke="#000" stroke-width="0.3" x="140.04" y="1488">Signaling by Nuclear Receptors</text>
<rect x="605.3" y="1504.05" width="105.7" height="21.8" fill="#C6C5C4"/>
<line x1="471.2" y1="1514.95" x2="482" y2="1514.95" stroke="#111" stroke-width="1.3"/>
<text font-size="23.15" stroke="#000" stroke-width="0.3" x="248.15" y="1520.85">Pyruvate Metabolism</text>
<rect x="607" y="1536.89" width="104" height="21.8" fill="#4A52AB"/>
<line x1="471.2" y1="1547.79" x2="482" y2="1547.79" stroke="#111" stroke-width="1.3"/>
<text font-size="23.15" stroke="#000" stroke-width="0.3" x="161.91" y="1551.29">CyclinA CDK2_S-phase entry</text>
<rect x="608" y="1569.74" width="103" height="21.8" fill="#C6C5C4"/>
<line x1="471.2" y1="1580.64" x2="482" y2="1580.64" stroke="#111" stroke-width="1.3"/>
<text font-size="23.15" stroke="#000" stroke-width="0.3" x="219.81" y="1586.54">Sumoylation of Proteins</text>
<rect x="608.3" y="1602.58" width="102.7" height="21.8" fill="#C6C5C4"/>
<line x1="471.2" y1="1613.48" x2="482" y2="1613.48" stroke="#111" stroke-width="1.3"/>
<text font-size="23.15" stroke="#000" stroke-width="0.3" x="29.31" y="1619.38">Epigenetic Regulation of Gene Expression</text>
<rect x="609" y="1635.43" width="102" height="21.8" fill="#C6C5C4"/>
<line x1="471.2" y1="1646.33" x2="482" y2="1646.33" stroke="#111" stroke-width="1.3"/>
<text font-size="23.15" stroke="#000" stroke-width="0.3" x="187.53" y="1652.23">Regulation of KIT signaling</text>
<rect x="711" y="1668.27" width="109.7" height="21.8" fill="#C6C5C4"/>
<line x1="471.2" y1="1679.17" x2="482" y2="1679.17" stroke="#111" stroke-width="1.3"/>
<text font-size="23.15" stroke="#000" stroke-width="0.3" x="172.19" y="1685.07">Regulation of RAS by GAPS</text>
<rect x="711" y="1701.12" width="112.3" height="21.8" fill="#E13212"/>
<line x1="471.2" y1="1712.02" x2="482" y2="1712.02" stroke="#111" stroke-width="1.3"/>
<text font-size="23.15" stroke="#000" stroke-width="0.3" x="163.63" y="1717.92">MTORC1 Mediated Signaling</text>
<rect x="711" y="1733.96" width="114" height="21.8" fill="#E13212"/>
<line x1="471.2" y1="1744.86" x2="482" y2="1744.86" stroke="#111" stroke-width="1.3"/>
<text font-size="23.15" stroke="#000" stroke-width="0.3" x="48.64" y="1750.76">PKA Mediated Phosphorylation of CREB</text>
<rect x="711" y="1766.81" width="114.3" height="21.8" fill="#C6C5C4"/>
<line x1="471.2" y1="1777.71" x2="482" y2="1777.71" stroke="#111" stroke-width="1.3"/>
<text font-size="23.15" stroke="#000" stroke-width="0.3" x="159.32" y="1783.61">Cellular Response to Hypoxia</text>
<rect x="711" y="1799.65" width="116.7" height="21.8" fill="#E13212"/>
<line x1="471.2" y1="1810.55" x2="482" y2="1810.55" stroke="#111" stroke-width="1.3"/>
<text font-size="23.15" stroke="#000" stroke-width="0.3" x="242.96" y="1816.45">Regulation of RUNX3</text>
<rect x="711" y="1832.5" width="121.3" height="21.8" fill="#E13212"/>
<line x1="471.2" y1="1843.4" x2="482" y2="1843.4" stroke="#111" stroke-width="1.3"/>
<text font-size="23.15" stroke="#000" stroke-width="0.3" x="294.89" y="1849.3">MTOR Signaling</text>
<rect x="711" y="1865.34" width="123.3" height="21.8" fill="#C6C5C4"/>
<line x1="471.2" y1="1876.24" x2="482" y2="1876.24" stroke="#111" stroke-width="1.3"/>
<text font-size="23.15" stroke="#000" stroke-width="0.3" x="237.87" y="1882.14">Fatty Acid Metabolism</text>
<rect x="711" y="1898.19" width="125.7" height="21.8" fill="#C6C5C4"/>
<line x1="471.2" y1="1909.09" x2="482" y2="1909.09" stroke="#111" stroke-width="1.3"/>
<text font-size="23.15" stroke="#000" stroke-width="0.3" x="118.14" y="1914.99">TP53 Regulates Metabolic Genes</text>
<rect x="711" y="1931.03" width="125.7" height="21.8" fill="#E13212"/>
<line x1="471.2" y1="1941.93" x2="482" y2="1941.93" stroke="#111" stroke-width="1.3"/>
<text font-size="23.15" font-weight="bold" x="182.2" y="1947.83">BCR Downstream events</text>
<rect x="711" y="1963.88" width="130" height="21.8" fill="#C6C5C4"/>
<line x1="471.2" y1="1974.78" x2="482" y2="1974.78" stroke="#111" stroke-width="1.3"/>
<text font-size="23.15" stroke="#000" stroke-width="0.3" x="11.39" y="1980.68">HSP90 Cycle for Steroid Hormone Receptor</text>
<rect x="711" y="1996.72" width="130.3" height="21.8" fill="#E13212"/>
<line x1="471.2" y1="2007.62" x2="482" y2="2007.62" stroke="#111" stroke-width="1.3"/>
<text font-size="23.15" stroke="#000" stroke-width="0.3" x="140.27" y="2013.52">Aminoacids Regulate MTORC1</text>
<rect x="711" y="2029.57" width="131" height="21.8" fill="#E13212"/>
<line x1="471.2" y1="2040.47" x2="482" y2="2040.47" stroke="#111" stroke-width="1.3"/>
<text font-size="23.15" stroke="#000" stroke-width="0.3" x="259.7" y="2046.37">Regulation of PTEN</text>
<rect x="711" y="2062.41" width="134.3" height="21.8" fill="#C6C5C4"/>
<line x1="471.2" y1="2073.31" x2="482" y2="2073.31" stroke="#111" stroke-width="1.3"/>
<text font-size="23.15" stroke="#000" stroke-width="0.3" x="95.06" y="2079.21">Cell Extracellular Matrix Interactions</text>
<rect x="711" y="2095.26" width="135.7" height="21.8" fill="#C6C5C4"/>
<line x1="471.2" y1="2106.16" x2="482" y2="2106.16" stroke="#111" stroke-width="1.3"/>
<text font-size="23.15" stroke="#000" stroke-width="0.3" x="138.79" y="2112.06">Glycosaminoglycan Metabolism</text>
<rect x="711" y="2128.1" width="149.7" height="21.8" fill="#C6C5C4"/>
<line x1="471.2" y1="2139" x2="482" y2="2139" stroke="#111" stroke-width="1.3"/>
<text font-size="23.15" stroke="#000" stroke-width="0.3" x="151.25" y="2144.9">Glycosphingolipid Metabolism</text>
<line x1="482" y1="1165" x2="482" y2="2161.4" stroke="#111" stroke-width="1.5"/>
<line x1="711" y1="1165" x2="711" y2="2161.4" stroke="#222" stroke-width="1.6"/>
<line x1="481.3" y1="2160.7" x2="940.7" y2="2160.7" stroke="#111" stroke-width="1.5"/>
<line x1="482" y1="2160.7" x2="482" y2="2171.5" stroke="#111" stroke-width="1.5"/>
<text text-anchor="middle" font-size="25" stroke="#000" stroke-width="0.33" x="480.8" y="2197.4">-3</text>
<line x1="558.33" y1="2160.7" x2="558.33" y2="2171.5" stroke="#111" stroke-width="1.5"/>
<text text-anchor="middle" font-size="25" stroke="#000" stroke-width="0.33" x="557.13" y="2197.4">-2</text>
<line x1="634.67" y1="2160.7" x2="634.67" y2="2171.5" stroke="#111" stroke-width="1.5"/>
<text text-anchor="middle" font-size="25" stroke="#000" stroke-width="0.33" x="633.47" y="2197.4">-1</text>
<line x1="711" y1="2160.7" x2="711" y2="2171.5" stroke="#111" stroke-width="1.5"/>
<text text-anchor="middle" font-size="25" stroke="#000" stroke-width="0.33" x="711" y="2197.4">0</text>
<line x1="787.33" y1="2160.7" x2="787.33" y2="2171.5" stroke="#111" stroke-width="1.5"/>
<text text-anchor="middle" font-size="25" stroke="#000" stroke-width="0.33" x="787.33" y="2197.4">1</text>
<line x1="863.67" y1="2160.7" x2="863.67" y2="2171.5" stroke="#111" stroke-width="1.5"/>
<text text-anchor="middle" font-size="25" stroke="#000" stroke-width="0.33" x="863.67" y="2197.4">2</text>
<line x1="940" y1="2160.7" x2="940" y2="2171.5" stroke="#111" stroke-width="1.5"/>
<text text-anchor="middle" font-size="25" stroke="#000" stroke-width="0.33" x="940" y="2197.4">3</text>
<text text-anchor="middle" font-size="28.2" stroke="#000" stroke-width="0.37" x="714.6" y="2231.4">NES</text>
<text font-size="36" font-weight="bold" fill="#111" x="1007.9" y="1112">F</text>
<rect x="1078.1" y="1148.2" width="478.9" height="478.6" fill="#F2F2F2"/>
<clipPath id="clipF"><rect x="1078.1" y="1148.2" width="478.9" height="478.6"/></clipPath>
<rect x="1136.9" y="1195.5" width="412.5" height="368.7" fill="#fff"/>
<text text-anchor="middle" font-size="17.15" font-weight="bold" x="1310.5" y="1166.3" clip-path="url(#clipF)">Enrichment plot:</text>
<text text-anchor="middle" font-size="17.15" font-weight="bold" x="1320.4" y="1186.8" clip-path="url(#clipF)">REACTOME_CELL_CYCLE_CHECKPOINTS</text>
<line x1="1181.78" y1="1195.5" x2="1181.78" y2="1372.4" stroke="#C8C8C8" stroke-width="0.9" stroke-dasharray="2.2 2.2"/>
<line x1="1181.78" y1="1445.8" x2="1181.78" y2="1564.2" stroke="#C8C8C8" stroke-width="0.9" stroke-dasharray="2.2 2.2"/>
<line x1="1226.31" y1="1195.5" x2="1226.31" y2="1372.4" stroke="#C8C8C8" stroke-width="0.9" stroke-dasharray="2.2 2.2"/>
<line x1="1226.31" y1="1445.8" x2="1226.31" y2="1564.2" stroke="#C8C8C8" stroke-width="0.9" stroke-dasharray="2.2 2.2"/>
<line x1="1270.84" y1="1195.5" x2="1270.84" y2="1372.4" stroke="#C8C8C8" stroke-width="0.9" stroke-dasharray="2.2 2.2"/>
<line x1="1270.84" y1="1445.8" x2="1270.84" y2="1564.2" stroke="#C8C8C8" stroke-width="0.9" stroke-dasharray="2.2 2.2"/>
<line x1="1315.37" y1="1195.5" x2="1315.37" y2="1372.4" stroke="#C8C8C8" stroke-width="0.9" stroke-dasharray="2.2 2.2"/>
<line x1="1315.37" y1="1445.8" x2="1315.37" y2="1564.2" stroke="#C8C8C8" stroke-width="0.9" stroke-dasharray="2.2 2.2"/>
<line x1="1359.9" y1="1195.5" x2="1359.9" y2="1372.4" stroke="#C8C8C8" stroke-width="0.9" stroke-dasharray="2.2 2.2"/>
<line x1="1359.9" y1="1445.8" x2="1359.9" y2="1564.2" stroke="#C8C8C8" stroke-width="0.9" stroke-dasharray="2.2 2.2"/>
<line x1="1404.43" y1="1195.5" x2="1404.43" y2="1372.4" stroke="#C8C8C8" stroke-width="0.9" stroke-dasharray="2.2 2.2"/>
<line x1="1404.43" y1="1445.8" x2="1404.43" y2="1564.2" stroke="#C8C8C8" stroke-width="0.9" stroke-dasharray="2.2 2.2"/>
<line x1="1448.96" y1="1195.5" x2="1448.96" y2="1372.4" stroke="#C8C8C8" stroke-width="0.9" stroke-dasharray="2.2 2.2"/>
<line x1="1448.96" y1="1445.8" x2="1448.96" y2="1564.2" stroke="#C8C8C8" stroke-width="0.9" stroke-dasharray="2.2 2.2"/>
<line x1="1493.49" y1="1195.5" x2="1493.49" y2="1372.4" stroke="#C8C8C8" stroke-width="0.9" stroke-dasharray="2.2 2.2"/>
<line x1="1493.49" y1="1445.8" x2="1493.49" y2="1564.2" stroke="#C8C8C8" stroke-width="0.9" stroke-dasharray="2.2 2.2"/>
<line x1="1538.02" y1="1195.5" x2="1538.02" y2="1372.4" stroke="#C8C8C8" stroke-width="0.9" stroke-dasharray="2.2 2.2"/>
<line x1="1538.02" y1="1445.8" x2="1538.02" y2="1564.2" stroke="#C8C8C8" stroke-width="0.9" stroke-dasharray="2.2 2.2"/>
<line x1="1136.9" y1="1204.25" x2="1549.4" y2="1204.25" stroke="#BDBDBD" stroke-width="1.4"/>
<text class="dv" text-anchor="end" font-size="10.9" fill="#3a3a3a" stroke="#3a3a3a" stroke-width="0.14" x="1130.6" y="1208.35">0.0</text>
<line x1="1136.9" y1="1230.5" x2="1549.4" y2="1230.5" stroke="#C8C8C8" stroke-width="0.9" stroke-dasharray="2.2 2.2"/>
<text class="dv" text-anchor="end" font-size="10.9" fill="#3a3a3a" stroke="#3a3a3a" stroke-width="0.14" x="1130.6" y="1234.6">-0.1</text>
<line x1="1136.9" y1="1256.6" x2="1549.4" y2="1256.6" stroke="#C8C8C8" stroke-width="0.9" stroke-dasharray="2.2 2.2"/>
<text class="dv" text-anchor="end" font-size="10.9" fill="#3a3a3a" stroke="#3a3a3a" stroke-width="0.14" x="1130.6" y="1260.7">-0.2</text>
<line x1="1136.9" y1="1282.9" x2="1549.4" y2="1282.9" stroke="#C8C8C8" stroke-width="0.9" stroke-dasharray="2.2 2.2"/>
<text class="dv" text-anchor="end" font-size="10.9" fill="#3a3a3a" stroke="#3a3a3a" stroke-width="0.14" x="1130.6" y="1287">-0.3</text>
<line x1="1136.9" y1="1309.2" x2="1549.4" y2="1309.2" stroke="#C8C8C8" stroke-width="0.9" stroke-dasharray="2.2 2.2"/>
<text class="dv" text-anchor="end" font-size="10.9" fill="#3a3a3a" stroke="#3a3a3a" stroke-width="0.14" x="1130.6" y="1313.3">-0.4</text>
<line x1="1136.9" y1="1335.5" x2="1549.4" y2="1335.5" stroke="#C8C8C8" stroke-width="0.9" stroke-dasharray="2.2 2.2"/>
<text class="dv" text-anchor="end" font-size="10.9" fill="#3a3a3a" stroke="#3a3a3a" stroke-width="0.14" x="1130.6" y="1339.6">-0.5</text>
<line x1="1136.9" y1="1361.75" x2="1549.4" y2="1361.75" stroke="#C8C8C8" stroke-width="0.9" stroke-dasharray="2.2 2.2"/>
<text class="dv" text-anchor="end" font-size="10.9" fill="#3a3a3a" stroke="#3a3a3a" stroke-width="0.14" x="1130.6" y="1365.85">-0.6</text>
<line x1="1136.9" y1="1452.3" x2="1549.4" y2="1452.3" stroke="#C8C8C8" stroke-width="0.9" stroke-dasharray="2.2 2.2"/>
<text text-anchor="end" font-size="9.6" fill="#111" stroke="#111" stroke-width="0.12" x="1130.2" y="1456.7">1.5</text>
<line x1="1136.9" y1="1472" x2="1549.4" y2="1472" stroke="#C8C8C8" stroke-width="0.9" stroke-dasharray="2.2 2.2"/>
<text text-anchor="end" font-size="9.6" fill="#111" stroke="#111" stroke-width="0.12" x="1130.2" y="1476.7">1.0</text>
<line x1="1136.9" y1="1491.7" x2="1549.4" y2="1491.7" stroke="#C8C8C8" stroke-width="0.9" stroke-dasharray="2.2 2.2"/>
<text text-anchor="end" font-size="9.6" fill="#111" stroke="#111" stroke-width="0.12" x="1130.2" y="1496.2">0.5</text>
<line x1="1136.9" y1="1511.6" x2="1549.4" y2="1511.6" stroke="#C8C8C8" stroke-width="0.9" stroke-dasharray="2.2 2.2"/>
<text text-anchor="end" font-size="9.6" fill="#111" stroke="#111" stroke-width="0.12" x="1130.2" y="1515.9">0.0</text>
<line x1="1136.9" y1="1531.2" x2="1549.4" y2="1531.2" stroke="#C8C8C8" stroke-width="0.9" stroke-dasharray="2.2 2.2"/>
<text text-anchor="end" font-size="9.6" fill="#111" stroke="#111" stroke-width="0.12" x="1130.2" y="1535.6">-0.5</text>
<line x1="1136.9" y1="1550.8" x2="1549.4" y2="1550.8" stroke="#C8C8C8" stroke-width="0.9" stroke-dasharray="2.2 2.2"/>
<text text-anchor="end" font-size="9.6" fill="#111" stroke="#111" stroke-width="0.12" x="1130.2" y="1555.1">-1.0</text>
<path d="M1136.7 1512.7 L1136.7 1476.7 L1138.33 1486.67 L1141.67 1492.5 L1146.67 1497 L1153.33 1500 L1160 1502 L1176.67 1504.67 L1201.67 1506.83 L1226.67 1508.33 L1276.67 1510.5 L1333.33 1511.83 L1529.9 1511.4 L1529.83 1558.33 L1529.17 1558.33 L1528.83 1543.33 L1528 1535 L1525.83 1530 L1520 1526.17 L1511.67 1523.5 L1493.33 1520.33 L1448.33 1516.17 L1403.33 1513.83 L1353.33 1512.5 L1300 1512.7 Z" fill="#BEBEBE"/>
<line x1="1334.5" y1="1445.8" x2="1334.5" y2="1564.2" stroke="#555" stroke-width="0.9" stroke-dasharray="3 2.4"/>
<text font-size="8.55" fill="#333" stroke="#333" stroke-width="0.12" x="1293.3" y="1508.8">Zero cross at 8881</text>
<text font-size="9.55" fill="#FF3B3B" stroke="#FF3B3B" stroke-width="0.12" x="1139.5" y="1455.8">'dex' (positively correlated)</text>
<text font-size="9.55" fill="#3B3BFF" stroke="#3B3BFF" stroke-width="0.12" x="1343.1" y="1559.7">'veh' (negatively correlated)</text>
<rect x="1141" y="1375" width="1" height="55.8" fill="#555"/>
<rect x="1150.38" y="1375" width="1" height="55.8" fill="#555"/>
<rect x="1161.62" y="1375" width="1" height="55.8" fill="#333"/>
<rect x="1165.5" y="1375" width="1" height="55.8" fill="#444"/>
<rect x="1168.38" y="1375" width="1.38" height="55.8" fill="#000"/>
<rect x="1173" y="1375" width="1" height="55.8" fill="#444"/>
<rect x="1175" y="1375" width="5.5" height="55.8" fill="#777"/>
<rect x="1175.25" y="1375" width="0.75" height="55.8" fill="#333"/>
<rect x="1180.62" y="1375" width="3.38" height="55.8" fill="#000"/>
<rect x="1185.38" y="1375" width="0.88" height="55.8" fill="#666"/>
<rect x="1188.62" y="1375" width="1" height="55.8" fill="#444"/>
<rect x="1191.25" y="1375" width="5.25" height="55.8" fill="#000"/>
<rect x="1197" y="1375" width="1" height="55.8" fill="#333"/>
<rect x="1200.38" y="1375" width="1" height="55.8" fill="#333"/>
<rect x="1203" y="1375" width="1" height="55.8" fill="#666"/>
<rect x="1209.12" y="1375" width="1" height="55.8" fill="#666"/>
<rect x="1211" y="1375" width="1.88" height="55.8" fill="#000"/>
<rect x="1213.5" y="1375" width="1.5" height="55.8" fill="#000"/>
<rect x="1217.88" y="1375" width="2.88" height="55.8" fill="#777"/>
<rect x="1224.75" y="1375" width="1" height="55.8" fill="#444"/>
<rect x="1227.38" y="1375" width="2.25" height="55.8" fill="#222"/>
<rect x="1231.75" y="1375" width="2" height="55.8" fill="#222"/>
<rect x="1234.25" y="1375" width="1" height="55.8" fill="#444"/>
<rect x="1237.12" y="1375" width="1.75" height="55.8" fill="#000"/>
<rect x="1239.25" y="1375" width="1.62" height="55.8" fill="#000"/>
<rect x="1244.25" y="1375" width="1" height="55.8" fill="#222"/>
<rect x="1250.88" y="1375" width="2.88" height="55.8" fill="#000"/>
<rect x="1254.75" y="1375" width="1" height="55.8" fill="#333"/>
<rect x="1259.88" y="1375" width="1" height="55.8" fill="#333"/>
<rect x="1262.25" y="1375" width="1.62" height="55.8" fill="#000"/>
<rect x="1265.12" y="1375" width="1" height="55.8" fill="#333"/>
<rect x="1270.12" y="1375" width="1.12" height="55.8" fill="#222"/>
<rect x="1271.62" y="1375" width="1.25" height="55.8" fill="#555"/>
<rect x="1276.12" y="1375" width="1" height="55.8" fill="#666"/>
<rect x="1282.88" y="1375" width="1" height="55.8" fill="#333"/>
<rect x="1285.88" y="1375" width="2" height="55.8" fill="#000"/>
<rect x="1288.62" y="1375" width="1" height="55.8" fill="#333"/>
<rect x="1292" y="1375" width="3" height="55.8" fill="#000"/>
<rect x="1297.38" y="1375" width="2.38" height="55.8" fill="#111"/>
<rect x="1303" y="1375" width="1" height="55.8" fill="#444"/>
<rect x="1309.25" y="1375" width="1" height="55.8" fill="#666"/>
<rect x="1312" y="1375" width="0.88" height="55.8" fill="#333"/>
<rect x="1313.25" y="1375" width="0.88" height="55.8" fill="#555"/>
<rect x="1314.5" y="1375" width="0.88" height="55.8" fill="#333"/>
<rect x="1320" y="1375" width="1.67" height="55.8" fill="#000"/>
<rect x="1328.33" y="1375" width="3.17" height="55.8" fill="#000"/>
<rect x="1336.5" y="1375" width="1" height="55.8" fill="#0a0a0a"/>
<rect x="1344.33" y="1375" width="1.67" height="55.8" fill="#000"/>
<rect x="1346.67" y="1375" width="3" height="55.8" fill="#444"/>
<rect x="1351.17" y="1375" width="1" height="55.8" fill="#0a0a0a"/>
<rect x="1352.83" y="1375" width="1" height="55.8" fill="#0a0a0a"/>
<rect x="1356.5" y="1375" width="1" height="55.8" fill="#0a0a0a"/>
<rect x="1362.83" y="1375" width="1" height="55.8" fill="#0a0a0a"/>
<rect x="1366.83" y="1375" width="2.17" height="55.8" fill="#000"/>
<rect x="1370" y="1375" width="1" height="55.8" fill="#0a0a0a"/>
<rect x="1372" y="1375" width="1" height="55.8" fill="#0a0a0a"/>
<rect x="1374.67" y="1375" width="2.67" height="55.8" fill="#000"/>
<rect x="1382.33" y="1375" width="1" height="55.8" fill="#0a0a0a"/>
<rect x="1390.67" y="1375" width="1.33" height="55.8" fill="#000"/>
<rect x="1396.17" y="1375" width="1.5" height="55.8" fill="#000"/>
<rect x="1399.5" y="1375" width="2.83" height="55.8" fill="#333"/>
<rect x="1405.33" y="1375" width="1" height="55.8" fill="#0a0a0a"/>
<rect x="1407" y="1375" width="1" height="55.8" fill="#0a0a0a"/>
<rect x="1412.33" y="1375" width="1" height="55.8" fill="#0a0a0a"/>
<rect x="1416.17" y="1375" width="1" height="55.8" fill="#0a0a0a"/>
<rect x="1419.83" y="1375" width="2.5" height="55.8" fill="#333"/>
<rect x="1427.17" y="1375" width="2.5" height="55.8" fill="#000"/>
<rect x="1432" y="1375" width="1" height="55.8" fill="#0a0a0a"/>
<rect x="1435.83" y="1375" width="1" height="55.8" fill="#0a0a0a"/>
<rect x="1439.5" y="1375" width="1" height="55.8" fill="#0a0a0a"/>
<rect x="1443.17" y="1375" width="2.17" height="55.8" fill="#222"/>
<rect x="1446.17" y="1375" width="1" height="55.8" fill="#0a0a0a"/>
<rect x="1447.83" y="1375" width="1" height="55.8" fill="#0a0a0a"/>
<rect x="1455.33" y="1375" width="6.33" height="55.8" fill="#111"/>
<rect x="1463" y="1375" width="1.33" height="55.8" fill="#000"/>
<rect x="1465.67" y="1375" width="4.33" height="55.8" fill="#333"/>
<rect x="1473" y="1375" width="3" height="55.8" fill="#000"/>
<rect x="1477.33" y="1375" width="7.67" height="55.8" fill="#111"/>
<rect x="1486" y="1375" width="9" height="55.8" fill="#222"/>
<rect x="1496" y="1375" width="11.67" height="55.8" fill="#080808"/>
<rect x="1508.33" y="1375" width="2.33" height="55.8" fill="#555"/>
<rect x="1511" y="1375" width="18.17" height="55.8" fill="#000"/>
<rect x="1136.9" y="1431.2" width="10.1" height="14.6" fill="#E63C3C"/>
<rect x="1146.7" y="1431.2" width="55.6" height="14.6" fill="#FF5555"/>
<rect x="1202" y="1431.2" width="32.1" height="14.6" fill="#FF6E7E"/>
<rect x="1233.8" y="1431.2" width="44" height="14.6" fill="#FF8888"/>
<rect x="1277.5" y="1431.2" width="57.8" height="14.6" fill="#FFBBDD"/>
<rect x="1335" y="1431.2" width="54.5" height="14.6" fill="#D5D5FF"/>
<rect x="1389.2" y="1431.2" width="41.1" height="14.6" fill="#C4BCFB"/>
<rect x="1430" y="1431.2" width="27.8" height="14.6" fill="#8888FF"/>
<rect x="1457.5" y="1431.2" width="50.6" height="14.6" fill="#6A5AEA"/>
<rect x="1507.8" y="1431.2" width="16.2" height="14.6" fill="#2A00D0"/>
<rect x="1523.7" y="1431.2" width="6.4" height="14.6" fill="#4400AA"/>
<rect x="1136.9" y="1195.5" width="412.5" height="176.9" fill="none" stroke="#B4B4B4" stroke-width="1"/>
<rect x="1136.9" y="1372.4" width="412.5" height="73.4" fill="none" stroke="#C4C4C4" stroke-width="1"/>
<line x1="1549.4" y1="1445.8" x2="1549.4" y2="1564.2" stroke="#B4B4B4" stroke-width="1"/>
<line x1="1136.9" y1="1195.5" x2="1136.9" y2="1372.4" stroke="#9A9A9A" stroke-width="1.3"/>
<line x1="1136.9" y1="1445.8" x2="1136.9" y2="1564.2" stroke="#9A9A9A" stroke-width="1.3"/>
<line x1="1136.9" y1="1564.2" x2="1549.4" y2="1564.2" stroke="#9A9A9A" stroke-width="1.3"/>
<polyline points="1136.75,1204.25 1141.25,1206.25 1143.75,1205 1150,1210 1156.25,1213 1162.5,1216.25 1166.25,1215.75 1170,1216.5 1175,1217.75 1180,1216.25 1185,1215.75 1192.5,1219 1197.5,1217.25 1202.5,1218 1211.25,1222.75 1215,1221.5 1225,1227 1232.5,1230.5 1240,1232.75 1255,1240.75 1270,1248.75 1283,1257 1298,1266.25 1315.5,1277.5 1338,1292.5 1360.5,1306.25 1378,1317.5 1393,1327.5 1410.5,1336.25 1428,1345 1443,1352 1458,1358.75 1465.5,1360.5 1474.25,1363.25 1480.5,1361.75 1483,1361 1485,1357 1490.5,1356.5 1495.5,1355.75 1497.5,1354.5 1499.25,1348.75 1502.5,1345 1504.25,1340 1506.75,1338.75 1509.25,1334.5 1511,1332.5 1513,1322.5 1515,1312.5 1516.75,1303.75 1520,1294.5 1521,1282.5 1523,1270 1524.75,1250 1526.75,1227.5 1528,1212.5 1529.25,1203" fill="none" stroke="#0CF50C" stroke-width="2.2" stroke-linejoin="round" stroke-linecap="round"/>
<text text-anchor="middle" font-size="9.55" fill="#111" stroke="#111" stroke-width="0.12" x="1136.05" y="1578.4">0</text>
<text text-anchor="middle" font-size="9.55" fill="#111" stroke="#111" stroke-width="0.12" x="1180.58" y="1578.4">2,000</text>
<text text-anchor="middle" font-size="9.55" fill="#111" stroke="#111" stroke-width="0.12" x="1225.11" y="1578.4">4,000</text>
<text text-anchor="middle" font-size="9.55" fill="#111" stroke="#111" stroke-width="0.12" x="1269.64" y="1578.4">6,000</text>
<text text-anchor="middle" font-size="9.55" fill="#111" stroke="#111" stroke-width="0.12" x="1314.17" y="1578.4">8,000</text>
<text text-anchor="middle" font-size="9.55" fill="#111" stroke="#111" stroke-width="0.12" x="1358.7" y="1578.4">10,000</text>
<text text-anchor="middle" font-size="9.55" fill="#111" stroke="#111" stroke-width="0.12" x="1403.23" y="1578.4">12,000</text>
<text text-anchor="middle" font-size="9.55" fill="#111" stroke="#111" stroke-width="0.12" x="1447.76" y="1578.4">14,000</text>
<text text-anchor="middle" font-size="9.55" fill="#111" stroke="#111" stroke-width="0.12" x="1492.29" y="1578.4">16,000</text>
<text text-anchor="middle" font-size="9.55" fill="#111" stroke="#111" stroke-width="0.12" x="1536.82" y="1578.4">18,000</text>
<text font-size="11.45" fill="#111" stroke="#111" stroke-width="0.15" x="1274.3" y="1594.3">Rank in Ordered Dataset</text>
<text class="dv" text-anchor="middle" font-size="11.9" font-weight="bold" fill="#3a3a3a" transform="translate(1102.3 1283) rotate(-90)">Enrichment score (ES)</text>
<text class="dv" text-anchor="middle" font-size="11" fill="#111" stroke="#111" stroke-width="0.14" transform="translate(1103.8 1503.7) rotate(-90)">Ranked list metric (Signal2Noise)</text>
<rect x="1149.3" y="1604.3" width="336.5" height="21" fill="#fff" stroke="#000" stroke-width="1"/>
<line x1="1152" y1="1615" x2="1167.5" y2="1615" stroke="#0CF50C" stroke-width="1.4"/>
<text font-size="11.45" fill="#111" stroke="#111" stroke-width="0.15" x="1170.6" y="1619.1">Enrichment profile</text>
<line x1="1276.2" y1="1615" x2="1290.5" y2="1615" stroke="#222" stroke-width="1.2"/>
<text font-size="11.45" fill="#111" stroke="#111" stroke-width="0.15" x="1293.8" y="1619.1">Hits</text>
<line x1="1343" y1="1615" x2="1357" y2="1615" stroke="#C8C8C8" stroke-width="0.9"/>
<text font-size="11.45" fill="#111" stroke="#111" stroke-width="0.15" x="1360.6" y="1619.1">Ranking metric scores</text>
<text font-size="29.1" stroke="#000" stroke-width="0.38" x="1334.6" y="1233">NES: - 2.65</text>
<text font-size="29.25" stroke="#000" stroke-width="0.38" x="1223.2" y="1655.2">FDR q-value: 0.00</text>
<text font-size="36" font-weight="bold" fill="#111" x="1009.5" y="1679.7">G</text>
<rect x="1078.1" y="1703.2" width="478.9" height="478.6" fill="#F2F2F2"/>
<clipPath id="clipG"><rect x="1078.1" y="1703.2" width="478.9" height="478.6"/></clipPath>
<rect x="1134.3" y="1771.3" width="415.1" height="347.9" fill="#fff"/>
<text text-anchor="middle" font-size="17.15" font-weight="bold" x="1310.5" y="1721.3" clip-path="url(#clipG)">Enrichment plot:</text>
<text text-anchor="middle" font-size="17.15" font-weight="bold" x="1321.6" y="1741.9" clip-path="url(#clipG)">REACTOME_DOWNSTREAM_SIGNALING_EVENTS_OF_B_</text>
<text text-anchor="middle" font-size="17.15" font-weight="bold" x="1323.4" y="1763" clip-path="url(#clipG)">CELL_RECEPTOR_BCR_</text>
<line x1="1179.1" y1="1771.3" x2="1179.1" y2="1937.6" stroke="#C8C8C8" stroke-width="0.9" stroke-dasharray="2.2 2.2"/>
<line x1="1179.1" y1="2007.2" x2="1179.1" y2="2119.2" stroke="#C8C8C8" stroke-width="0.9" stroke-dasharray="2.2 2.2"/>
<line x1="1223.9" y1="1771.3" x2="1223.9" y2="1937.6" stroke="#C8C8C8" stroke-width="0.9" stroke-dasharray="2.2 2.2"/>
<line x1="1223.9" y1="2007.2" x2="1223.9" y2="2119.2" stroke="#C8C8C8" stroke-width="0.9" stroke-dasharray="2.2 2.2"/>
<line x1="1268.7" y1="1771.3" x2="1268.7" y2="1937.6" stroke="#C8C8C8" stroke-width="0.9" stroke-dasharray="2.2 2.2"/>
<line x1="1268.7" y1="2007.2" x2="1268.7" y2="2119.2" stroke="#C8C8C8" stroke-width="0.9" stroke-dasharray="2.2 2.2"/>
<line x1="1313.5" y1="1771.3" x2="1313.5" y2="1937.6" stroke="#C8C8C8" stroke-width="0.9" stroke-dasharray="2.2 2.2"/>
<line x1="1313.5" y1="2007.2" x2="1313.5" y2="2119.2" stroke="#C8C8C8" stroke-width="0.9" stroke-dasharray="2.2 2.2"/>
<line x1="1358.3" y1="1771.3" x2="1358.3" y2="1937.6" stroke="#C8C8C8" stroke-width="0.9" stroke-dasharray="2.2 2.2"/>
<line x1="1358.3" y1="2007.2" x2="1358.3" y2="2119.2" stroke="#C8C8C8" stroke-width="0.9" stroke-dasharray="2.2 2.2"/>
<line x1="1403.1" y1="1771.3" x2="1403.1" y2="1937.6" stroke="#C8C8C8" stroke-width="0.9" stroke-dasharray="2.2 2.2"/>
<line x1="1403.1" y1="2007.2" x2="1403.1" y2="2119.2" stroke="#C8C8C8" stroke-width="0.9" stroke-dasharray="2.2 2.2"/>
<line x1="1447.9" y1="1771.3" x2="1447.9" y2="1937.6" stroke="#C8C8C8" stroke-width="0.9" stroke-dasharray="2.2 2.2"/>
<line x1="1447.9" y1="2007.2" x2="1447.9" y2="2119.2" stroke="#C8C8C8" stroke-width="0.9" stroke-dasharray="2.2 2.2"/>
<line x1="1492.7" y1="1771.3" x2="1492.7" y2="1937.6" stroke="#C8C8C8" stroke-width="0.9" stroke-dasharray="2.2 2.2"/>
<line x1="1492.7" y1="2007.2" x2="1492.7" y2="2119.2" stroke="#C8C8C8" stroke-width="0.9" stroke-dasharray="2.2 2.2"/>
<line x1="1537.5" y1="1771.3" x2="1537.5" y2="1937.6" stroke="#C8C8C8" stroke-width="0.9" stroke-dasharray="2.2 2.2"/>
<line x1="1537.5" y1="2007.2" x2="1537.5" y2="2119.2" stroke="#C8C8C8" stroke-width="0.9" stroke-dasharray="2.2 2.2"/>
<line x1="1134.3" y1="1793" x2="1549.4" y2="1793" stroke="#C8C8C8" stroke-width="0.9" stroke-dasharray="2.2 2.2"/>
<text class="dv" text-anchor="end" font-size="10.9" fill="#3a3a3a" stroke="#3a3a3a" stroke-width="0.14" x="1127.6" y="1797.1">0.4</text>
<line x1="1134.3" y1="1823.5" x2="1549.4" y2="1823.5" stroke="#C8C8C8" stroke-width="0.9" stroke-dasharray="2.2 2.2"/>
<text class="dv" text-anchor="end" font-size="10.9" fill="#3a3a3a" stroke="#3a3a3a" stroke-width="0.14" x="1127.6" y="1827.6">0.3</text>
<line x1="1134.3" y1="1854" x2="1549.4" y2="1854" stroke="#C8C8C8" stroke-width="0.9" stroke-dasharray="2.2 2.2"/>
<text class="dv" text-anchor="end" font-size="10.9" fill="#3a3a3a" stroke="#3a3a3a" stroke-width="0.14" x="1127.6" y="1858.1">0.2</text>
<line x1="1134.3" y1="1884.4" x2="1549.4" y2="1884.4" stroke="#C8C8C8" stroke-width="0.9" stroke-dasharray="2.2 2.2"/>
<text class="dv" text-anchor="end" font-size="10.9" fill="#3a3a3a" stroke="#3a3a3a" stroke-width="0.14" x="1127.6" y="1888.5">0.1</text>
<line x1="1134.3" y1="1915" x2="1549.4" y2="1915" stroke="#BDBDBD" stroke-width="1.4"/>
<text class="dv" text-anchor="end" font-size="10.9" fill="#3a3a3a" stroke="#3a3a3a" stroke-width="0.14" x="1127.6" y="1919.1">0.0</text>
<line x1="1134.3" y1="2013.3" x2="1549.4" y2="2013.3" stroke="#C8C8C8" stroke-width="0.9" stroke-dasharray="2.2 2.2"/>
<text text-anchor="end" font-size="9.6" fill="#111" stroke="#111" stroke-width="0.12" x="1127.3" y="2017.9">1.5</text>
<line x1="1134.3" y1="2032" x2="1549.4" y2="2032" stroke="#C8C8C8" stroke-width="0.9" stroke-dasharray="2.2 2.2"/>
<text text-anchor="end" font-size="9.6" fill="#111" stroke="#111" stroke-width="0.12" x="1127.3" y="2036.7">1.0</text>
<line x1="1134.3" y1="2050.5" x2="1549.4" y2="2050.5" stroke="#C8C8C8" stroke-width="0.9" stroke-dasharray="2.2 2.2"/>
<text text-anchor="end" font-size="9.6" fill="#111" stroke="#111" stroke-width="0.12" x="1127.3" y="2055.1">0.5</text>
<line x1="1134.3" y1="2069.2" x2="1549.4" y2="2069.2" stroke="#C8C8C8" stroke-width="0.9" stroke-dasharray="2.2 2.2"/>
<text text-anchor="end" font-size="9.6" fill="#111" stroke="#111" stroke-width="0.12" x="1127.3" y="2073.4">0.0</text>
<line x1="1134.3" y1="2087.8" x2="1549.4" y2="2087.8" stroke="#C8C8C8" stroke-width="0.9" stroke-dasharray="2.2 2.2"/>
<text text-anchor="end" font-size="9.6" fill="#111" stroke="#111" stroke-width="0.12" x="1127.3" y="2092.2">-0.5</text>
<line x1="1134.3" y1="2106.7" x2="1549.4" y2="2106.7" stroke="#C8C8C8" stroke-width="0.9" stroke-dasharray="2.2 2.2"/>
<text text-anchor="end" font-size="9.6" fill="#111" stroke="#111" stroke-width="0.12" x="1127.3" y="2110.9">-1.0</text>
<path d="M1134.3 2070.1 L1134.3 2036.7 L1135.33 2045 L1138.33 2051.67 L1143.33 2056.33 L1150 2059.17 L1160 2061.33 L1176.67 2063.33 L1201.67 2065.17 L1226.67 2066.33 L1276.67 2068.33 L1333.33 2069.33 L1529.9 2068.8 L1529.83 2114.17 L1529.17 2114.17 L1528.83 2100 L1528 2091.67 L1525.83 2086.67 L1520 2083 L1511.67 2080.33 L1493.33 2077.17 L1448.33 2073 L1403.33 2071 L1353.33 2069.83 L1300 2070.1 Z" fill="#BEBEBE"/>
<line x1="1333.7" y1="2007.2" x2="1333.7" y2="2119.2" stroke="#555" stroke-width="0.9" stroke-dasharray="3 2.4"/>
<text font-size="8.55" fill="#333" stroke="#333" stroke-width="0.12" x="1291.8" y="2067">Zero cross at 8881</text>
<text font-size="9.55" fill="#FF3B3B" stroke="#FF3B3B" stroke-width="0.12" x="1136.8" y="2017.2">'dex' (positively correlated)</text>
<text font-size="9.55" fill="#3B3BFF" stroke="#3B3BFF" stroke-width="0.12" x="1341.8" y="2115">'veh' (negatively correlated)</text>
<rect x="1153.17" y="1940" width="1" height="53" fill="#0a0a0a"/>
<rect x="1158.67" y="1940" width="1" height="53" fill="#0a0a0a"/>
<rect x="1162.83" y="1940" width="1" height="53" fill="#0a0a0a"/>
<rect x="1166.17" y="1940" width="1" height="53" fill="#0a0a0a"/>
<rect x="1172.67" y="1940" width="1.33" height="53" fill="#000"/>
<rect x="1174.5" y="1940" width="3.17" height="53" fill="#000"/>
<rect x="1179.83" y="1940" width="1" height="53" fill="#0a0a0a"/>
<rect x="1182.5" y="1940" width="1" height="53" fill="#0a0a0a"/>
<rect x="1190.33" y="1940" width="1.67" height="53" fill="#222"/>
<rect x="1192.5" y="1940" width="1.33" height="53" fill="#000"/>
<rect x="1194.83" y="1940" width="1" height="53" fill="#0a0a0a"/>
<rect x="1197.83" y="1940" width="1" height="53" fill="#0a0a0a"/>
<rect x="1203.17" y="1940" width="1" height="53" fill="#0a0a0a"/>
<rect x="1206.5" y="1940" width="1" height="53" fill="#0a0a0a"/>
<rect x="1209.67" y="1940" width="2.67" height="53" fill="#444"/>
<rect x="1216.33" y="1940" width="1.33" height="53" fill="#000"/>
<rect x="1222" y="1940" width="1" height="53" fill="#0a0a0a"/>
<rect x="1225.33" y="1940" width="1" height="53" fill="#0a0a0a"/>
<rect x="1229.5" y="1940" width="1" height="53" fill="#0a0a0a"/>
<rect x="1235.5" y="1940" width="2.83" height="53" fill="#222"/>
<rect x="1242" y="1940" width="1" height="53" fill="#0a0a0a"/>
<rect x="1244.17" y="1940" width="1" height="53" fill="#0a0a0a"/>
<rect x="1257.83" y="1940" width="1" height="53" fill="#0a0a0a"/>
<rect x="1261.17" y="1940" width="1" height="53" fill="#0a0a0a"/>
<rect x="1262.83" y="1940" width="1" height="53" fill="#0a0a0a"/>
<rect x="1268.33" y="1940" width="2" height="53" fill="#333"/>
<rect x="1274.17" y="1940" width="1" height="53" fill="#0a0a0a"/>
<rect x="1278.67" y="1940" width="1" height="53" fill="#0a0a0a"/>
<rect x="1284.33" y="1940" width="1.5" height="53" fill="#000"/>
<rect x="1291" y="1940" width="1.67" height="53" fill="#000"/>
<rect x="1296" y="1940" width="1.67" height="53" fill="#333"/>
<rect x="1302.5" y="1940" width="1" height="53" fill="#0a0a0a"/>
<rect x="1308" y="1940" width="2.33" height="53" fill="#555"/>
<rect x="1314.83" y="1940" width="1" height="53" fill="#0a0a0a"/>
<rect x="1329.17" y="1940" width="1" height="53" fill="#0a0a0a"/>
<rect x="1335.33" y="1940" width="1" height="53" fill="#0a0a0a"/>
<rect x="1329.17" y="1940" width="1" height="53" fill="#0a0a0a"/>
<rect x="1334.83" y="1940" width="1" height="53" fill="#0a0a0a"/>
<rect x="1342.17" y="1940" width="1.5" height="53" fill="#000"/>
<rect x="1344.5" y="1940" width="1" height="53" fill="#0a0a0a"/>
<rect x="1346.5" y="1940" width="1" height="53" fill="#0a0a0a"/>
<rect x="1354.83" y="1940" width="1" height="53" fill="#0a0a0a"/>
<rect x="1366.33" y="1940" width="1.33" height="53" fill="#444"/>
<rect x="1368.33" y="1940" width="1" height="53" fill="#0a0a0a"/>
<rect x="1374.5" y="1940" width="1" height="53" fill="#0a0a0a"/>
<rect x="1379.5" y="1940" width="1" height="53" fill="#0a0a0a"/>
<rect x="1400" y="1940" width="1" height="53" fill="#0a0a0a"/>
<rect x="1427.83" y="1940" width="1" height="53" fill="#0a0a0a"/>
<rect x="1449.17" y="1940" width="1" height="53" fill="#0a0a0a"/>
<rect x="1468.17" y="1940" width="1" height="53" fill="#0a0a0a"/>
<rect x="1479.83" y="1940" width="1" height="53" fill="#0a0a0a"/>
<rect x="1509.83" y="1940" width="1" height="53" fill="#0a0a0a"/>
<rect x="1512.5" y="1940" width="1" height="53" fill="#0a0a0a"/>
<rect x="1134.3" y="1993.3" width="2" height="13.9" fill="#DC2020"/>
<rect x="1136" y="1993.3" width="8.1" height="13.9" fill="#E63C3C"/>
<rect x="1143.8" y="1993.3" width="56.5" height="13.9" fill="#FF5555"/>
<rect x="1200" y="1993.3" width="31.6" height="13.9" fill="#FF6E7E"/>
<rect x="1231.3" y="1993.3" width="44.3" height="13.9" fill="#FF8888"/>
<rect x="1275.3" y="1993.3" width="58.7" height="13.9" fill="#FFBBDD"/>
<rect x="1333.7" y="1993.3" width="54.6" height="13.9" fill="#D5D5FF"/>
<rect x="1388" y="1993.3" width="42" height="13.9" fill="#C4BCFB"/>
<rect x="1429.7" y="1993.3" width="27.6" height="13.9" fill="#8888FF"/>
<rect x="1457" y="1993.3" width="51.1" height="13.9" fill="#6A5AEA"/>
<rect x="1507.8" y="1993.3" width="16.2" height="13.9" fill="#2A00D0"/>
<rect x="1523.7" y="1993.3" width="6.4" height="13.9" fill="#4400AA"/>
<rect x="1134.3" y="1771.3" width="415.1" height="166.3" fill="none" stroke="#B4B4B4" stroke-width="1"/>
<rect x="1134.3" y="1937.6" width="415.1" height="69.6" fill="none" stroke="#C4C4C4" stroke-width="1"/>
<line x1="1549.4" y1="2007.2" x2="1549.4" y2="2119.2" stroke="#B4B4B4" stroke-width="1"/>
<line x1="1134.3" y1="1771.3" x2="1134.3" y2="1937.6" stroke="#9A9A9A" stroke-width="1.3"/>
<line x1="1134.3" y1="2007.2" x2="1134.3" y2="2119.2" stroke="#9A9A9A" stroke-width="1.3"/>
<line x1="1134.3" y1="2119.2" x2="1549.4" y2="2119.2" stroke="#9A9A9A" stroke-width="1.3"/>
<polyline points="1134.25,1915 1153.75,1930.5 1154,1918.75 1159,1923.75 1159.5,1904.5 1162.5,1907.5 1163.75,1898.75 1166.25,1901.75 1167,1893 1172.5,1897.5 1173,1890 1174.25,1883.75 1175,1870 1176.25,1860 1177.5,1851.25 1179.5,1853 1181.25,1842.5 1183.75,1835.75 1190.5,1841.25 1192,1832.5 1193,1818.75 1194.5,1815 1195.5,1806.25 1197.5,1808.5 1198.75,1803.75 1203.75,1807.5 1204.5,1803.75 1207,1805 1208.75,1801.25 1211.25,1797.5 1212.5,1791.25 1215.5,1793.75 1218,1788 1221.25,1790.5 1223.75,1787.5 1226.25,1789.5 1227.5,1786.25 1230,1788.75 1231.25,1785.5 1234.5,1789.5 1236.25,1783.75 1238.75,1780 1241.25,1782.5 1245,1778.75 1258.75,1789.25 1261.25,1787.5 1263.75,1785 1267.5,1788 1271.25,1787 1275,1789.25 1278.75,1788.25 1282.5,1791.25 1286.25,1789.5 1291.25,1792.5 1295,1791.5 1300,1794.5 1315,1803.75 1342.5,1824.5 1355,1832 1366.25,1839.5 1380,1847 1400.5,1861.25 1428,1881 1429.25,1877.5 1449.25,1894.5 1450,1890.5 1468,1904.5 1468.5,1899.5 1480,1908 1480.5,1901.25 1509.25,1924.5 1510,1913.75 1512.5,1914.25 1513,1902 1530,1915" fill="none" stroke="#0CF50C" stroke-width="2.2" stroke-linejoin="round" stroke-linecap="round"/>
<text text-anchor="middle" font-size="9.55" fill="#111" stroke="#111" stroke-width="0.12" x="1133.1" y="2133.4">0</text>
<text text-anchor="middle" font-size="9.55" fill="#111" stroke="#111" stroke-width="0.12" x="1177.9" y="2133.4">2,000</text>
<text text-anchor="middle" font-size="9.55" fill="#111" stroke="#111" stroke-width="0.12" x="1222.7" y="2133.4">4,000</text>
<text text-anchor="middle" font-size="9.55" fill="#111" stroke="#111" stroke-width="0.12" x="1267.5" y="2133.4">6,000</text>
<text text-anchor="middle" font-size="9.55" fill="#111" stroke="#111" stroke-width="0.12" x="1312.3" y="2133.4">8,000</text>
<text text-anchor="middle" font-size="9.55" fill="#111" stroke="#111" stroke-width="0.12" x="1357.1" y="2133.4">10,000</text>
<text text-anchor="middle" font-size="9.55" fill="#111" stroke="#111" stroke-width="0.12" x="1401.9" y="2133.4">12,000</text>
<text text-anchor="middle" font-size="9.55" fill="#111" stroke="#111" stroke-width="0.12" x="1446.7" y="2133.4">14,000</text>
<text text-anchor="middle" font-size="9.55" fill="#111" stroke="#111" stroke-width="0.12" x="1491.5" y="2133.4">16,000</text>
<text text-anchor="middle" font-size="9.55" fill="#111" stroke="#111" stroke-width="0.12" x="1536.3" y="2133.4">18,000</text>
<text font-size="11.45" fill="#111" stroke="#111" stroke-width="0.15" x="1273.2" y="2148.9">Rank in Ordered Dataset</text>
<text class="dv" text-anchor="middle" font-size="11.9" font-weight="bold" fill="#3a3a3a" transform="translate(1102.6 1853.5) rotate(-90)">Enrichment score (ES)</text>
<text class="dv" text-anchor="middle" font-size="11" fill="#111" stroke="#111" stroke-width="0.14" transform="translate(1101.2 2062) rotate(-90)">Ranked list metric (Signal2Noise)</text>
<rect x="1149.5" y="2159.6" width="336.3" height="20.8" fill="#fff" stroke="#000" stroke-width="1"/>
<line x1="1152" y1="2170.2" x2="1167.5" y2="2170.2" stroke="#0CF50C" stroke-width="1.4"/>
<text font-size="11.45" fill="#111" stroke="#111" stroke-width="0.15" x="1170.6" y="2174.3">Enrichment profile</text>
<line x1="1276.2" y1="2170.2" x2="1290.5" y2="2170.2" stroke="#666" stroke-width="1.2"/>
<text font-size="11.45" fill="#111" stroke="#111" stroke-width="0.15" x="1293.8" y="2174.3">Hits</text>
<line x1="1343" y1="2170.2" x2="1357" y2="2170.2" stroke="#C8C8C8" stroke-width="0.9"/>
<text font-size="11.45" fill="#111" stroke="#111" stroke-width="0.15" x="1360.6" y="2174.3">Ranking metric scores</text>
<text font-size="29.1" stroke="#000" stroke-width="0.38" x="1388.2" y="1803">NES:1.64</text>
<text font-size="29.25" stroke="#000" stroke-width="0.38" x="1216.9" y="2215.2">FDR q-value: 0.08</text>
</svg>
</body></html>
